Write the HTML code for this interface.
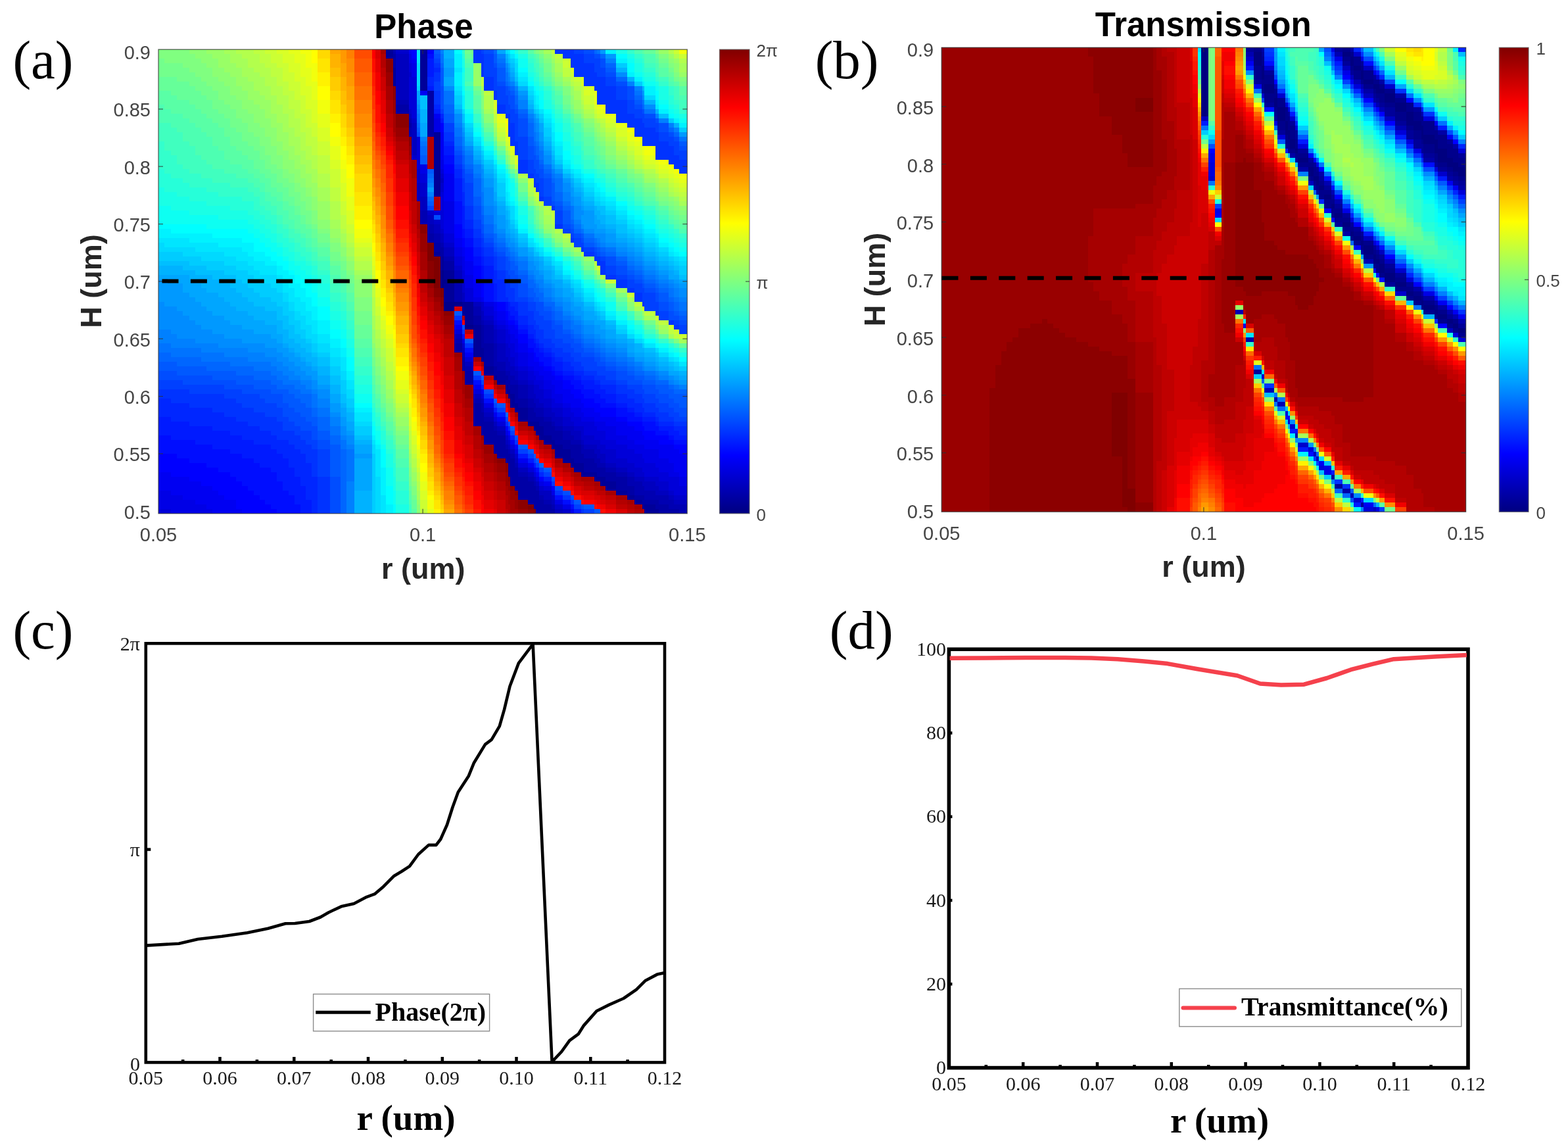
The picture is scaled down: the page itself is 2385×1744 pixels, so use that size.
<!DOCTYPE html>
<html lang="en"><head><meta charset="utf-8"><title>Phase and Transmission</title>
<style>html,body{margin:0;padding:0;background:#fff}svg{display:block}</style></head>
<body>
<svg xmlns="http://www.w3.org/2000/svg" width="2385" height="1744" viewBox="0 0 2385 1744">
<defs><linearGradient id="jet" x1="0" y1="1" x2="0" y2="0"><stop offset="0" stop-color="#000080"/><stop offset="0.125" stop-color="#0000ff"/><stop offset="0.375" stop-color="#00ffff"/><stop offset="0.625" stop-color="#ffff00"/><stop offset="0.875" stop-color="#ff0000"/><stop offset="1" stop-color="#800000"/></linearGradient></defs>
<rect width="2385" height="1744" fill="#fff"/>
<g shape-rendering="crispEdges"><path fill="#00008c" d="M670 411h5v27h-5zM675 425h16v6h-16zM675 459h16v14h-16zM691 459h12v7h-12zM707 494h13v7h-13z"/>
<path fill="#000099" d="M587 75h11v14h-11zM598 103h4v28h-4zM639 75h11v63h-11zM660 201h10v98h-10zM660 383h10v7h-10zM670 390h5v21h-5zM675 411h16v14h-16zM675 431h16v28h-16zM703 459h4v21h-4zM707 459h13v35h-13zM720 494h12v49h-12zM732 529h4v21h-4zM736 557h15v14h-15zM751 571h5v7h-5zM756 578h13v7h-13zM769 585h4v14h-4zM773 592h3v14h-3zM776 599h7v21h-7zM783 613h5v14h-5zM788 620h15v21h-15zM803 641h9v7h-9zM812 641h3v14h-3zM815 641h5v21h-5zM820 648h7v21h-7zM827 662h12v14h-12zM839 669h5v14h-5zM844 676h12v21h-12zM856 683h12v21h-12zM868 697h5v14h-5zM873 704h11v14h-11zM884 704h4v21h-4zM888 718h16v7h-16zM904 718h4v14h-4zM908 725h5v7h-5zM913 725h8v14h-8zM921 732h16v14h-16zM937 746h17v7h-17zM954 753h11v7h-11zM965 760h12v7h-12zM977 767h3v7h-3zM980 767h17v14h-17zM997 774h5v7h-5z"/>
<path fill="#0000a6" d="M598 82h4v21h-4zM602 159h20v14h-20zM622 187h4v7h-4zM650 138h10v70h-10zM650 355h10v14h-10zM660 369h10v14h-10zM670 376h5v14h-5zM675 397h16v14h-16zM691 522h12v14h-12zM703 543h4v21h-4zM707 564h13v21h-13zM720 480h12v14h-12zM720 613h12v35h-12zM732 494h4v35h-4zM732 627h4v35h-4zM736 522h15v35h-15zM736 641h15v35h-15zM751 557h5v14h-5zM751 655h5v35h-5zM756 564h13v14h-13zM756 662h13v35h-13zM769 571h4v14h-4zM769 683h4v21h-4zM773 578h3v14h-3zM773 690h3v35h-3zM776 585h7v14h-7zM776 697h7v42h-7zM783 585h5v28h-5zM783 711h5v35h-5zM788 606h15v14h-15zM788 725h15v35h-15zM803 620h9v21h-9zM803 732h9v35h-9zM812 627h3v14h-3zM812 739h3v35h-3zM815 634h5v7h-5zM815 746h5v35h-5zM820 634h7v14h-7zM820 760h7v21h-7zM827 641h12v21h-12zM827 767h12v14h-12zM839 648h5v21h-5zM839 774h5v7h-5zM844 655h12v21h-12zM856 669h12v14h-12zM868 676h5v21h-5zM873 676h11v28h-11zM884 690h4v14h-4zM888 697h16v21h-16zM904 704h4v14h-4zM908 711h13v14h-13zM921 718h16v14h-16zM937 725h17v21h-17zM954 739h11v14h-11zM965 753h12v7h-12zM977 753h3v14h-3zM980 760h17v7h-17zM997 760h5v14h-5zM1002 767h15v14h-15zM1017 774h16v7h-16z"/>
<path fill="#0000b2" d="M598 75h4v7h-4zM602 152h20v7h-20zM622 180h4v7h-4zM622 194h4v14h-4zM639 320h11v21h-11zM650 341h10v14h-10zM660 355h10v14h-10zM670 369h5v7h-5zM675 390h16v7h-16zM691 431h12v28h-12zM691 515h12v7h-12zM703 536h4v7h-4zM707 557h13v7h-13zM720 466h12v14h-12zM720 606h12v7h-12zM732 487h4v7h-4zM732 613h4v14h-4zM736 494h15v28h-15zM736 634h15v7h-15zM751 522h5v35h-5zM751 648h5v7h-5zM756 550h13v14h-13zM756 655h13v7h-13zM769 564h4v7h-4zM769 676h4v7h-4zM773 564h3v14h-3zM773 683h3v7h-3zM776 571h7v14h-7zM776 690h7v7h-7zM783 578h5v7h-5zM783 704h5v7h-5zM788 585h15v21h-15zM788 718h15v7h-15zM803 606h9v14h-9zM803 725h9v7h-9zM812 613h3v14h-3zM812 732h3v7h-3zM815 620h12v14h-12zM815 739h5v7h-5zM820 753h7v7h-7zM827 634h12v7h-12zM827 760h12v7h-12zM839 641h5v7h-5zM839 767h5v7h-5zM844 648h12v7h-12zM856 655h12v14h-12zM868 662h5v14h-5zM873 669h11v7h-11zM884 676h4v14h-4zM888 683h16v14h-16zM904 690h4v14h-4zM908 697h5v14h-5zM913 704h8v7h-8zM921 711h16v7h-16zM937 718h17v7h-17zM954 725h11v14h-11zM965 732h12v21h-12zM977 739h3v14h-3zM980 746h17v14h-17zM997 753h5v7h-5zM1002 753h15v14h-15zM1017 760h8v14h-8zM1025 767h8v7h-8zM1033 767h12v14h-12z"/>
<path fill="#0000bf" d="M602 82h20v70h-20zM622 173h4v7h-4zM626 187h8v49h-8zM634 278h5v28h-5zM639 299h11v21h-11zM650 327h10v14h-10zM660 341h10v14h-10zM670 271h5v7h-5zM670 355h5v14h-5zM675 376h16v14h-16zM691 411h12v20h-12zM691 508h12v7h-12zM703 445h4v14h-4zM703 529h4v7h-4zM707 550h13v7h-13zM720 459h12v7h-12zM720 599h12v7h-12zM732 473h4v14h-4zM732 606h4v7h-4zM736 487h15v7h-15zM736 627h15v7h-15zM751 501h5v21h-5zM751 641h5v7h-5zM756 522h13v28h-13zM756 648h13v7h-13zM769 543h4v21h-4zM769 669h4v7h-4zM773 550h3v14h-3zM773 676h3v7h-3zM776 557h7v14h-7zM776 683h7v7h-7zM783 564h5v14h-5zM783 697h5v7h-5zM788 578h15v7h-15zM788 711h15v7h-15zM803 585h9v21h-9zM803 718h9v7h-9zM812 599h3v14h-3zM812 725h3v7h-3zM815 606h5v14h-5zM815 732h5v7h-5zM820 613h7v7h-7zM820 746h7v7h-7zM827 620h12v14h-12zM827 746h12v14h-12zM839 627h5v14h-5zM839 760h5v7h-5zM844 634h12v14h-12zM844 774h12v7h-12zM856 648h12v7h-12zM868 648h5v14h-5zM873 655h11v14h-11zM884 669h4v7h-4zM888 676h16v7h-16zM904 676h4v14h-4zM908 683h5v14h-5zM913 690h8v14h-8zM921 704h16v7h-16zM937 711h17v7h-17zM954 718h11v7h-11zM965 725h12v7h-12zM977 725h3v14h-3zM980 732h17v14h-17zM997 739h5v14h-5zM1002 746h15v7h-15zM1017 753h8v7h-8zM1025 760h20v7h-20z"/>
<path fill="#0000cc" d="M602 75h20v7h-20zM622 110h4v7h-4zM622 166h4v7h-4zM626 180h8v7h-8zM626 236h8v7h-8zM634 257h5v21h-5zM639 278h11v21h-11zM650 320h10v7h-10zM660 334h10v7h-10zM670 264h5v7h-5zM670 278h5v14h-5zM670 348h5v7h-5zM675 369h16v7h-16zM691 404h12v7h-12zM703 431h4v14h-4zM703 522h4v7h-4zM732 459h4v14h-4zM736 480h15v7h-15zM736 620h15v7h-15zM751 494h5v7h-5zM756 501h13v21h-13zM769 522h4v21h-4zM769 662h4v7h-4zM773 529h3v21h-3zM773 669h3v7h-3zM776 543h7v14h-7zM783 557h5v7h-5zM783 690h5v7h-5zM788 564h15v14h-15zM803 578h9v7h-9zM812 585h3v14h-3zM815 585h5v21h-5zM820 592h7v21h-7zM820 739h7v7h-7zM827 606h12v14h-12zM839 620h5v7h-5zM839 753h5v7h-5zM844 620h12v14h-12zM844 767h12v7h-12zM856 634h12v14h-12zM856 774h12v7h-12zM868 641h5v7h-5zM873 648h11v7h-11zM884 648h4v21h-4zM888 662h16v14h-16zM904 669h4v7h-4zM908 669h5v14h-5zM913 676h8v14h-8zM921 683h16v21h-16zM937 697h17v14h-17zM954 704h11v14h-11zM965 711h12v14h-12zM977 718h3v7h-3zM980 725h17v7h-17zM997 725h5v14h-5zM1002 732h15v14h-15zM1017 746h8v7h-8zM1025 753h20v7h-20z"/>
<path fill="#0000d9" d="M241 774h19v7h-19zM622 96h4v14h-4zM622 117h4v49h-4zM626 117h8v63h-8zM634 208h5v49h-5zM639 264h11v14h-11zM660 320h10v7h-10zM670 257h5v7h-5zM670 292h5v56h-5zM675 355h16v14h-16zM691 390h12v14h-12zM691 501h12v7h-12zM703 411h4v20h-4zM707 438h13v21h-13zM707 543h13v7h-13zM720 592h12v7h-12zM732 599h4v7h-4zM736 466h15v14h-15zM751 487h5v7h-5zM751 634h5v7h-5zM756 494h13v7h-13zM756 641h13v7h-13zM769 501h4v21h-4zM773 508h3v21h-3zM776 522h7v21h-7zM776 676h7v7h-7zM783 536h5v21h-5zM788 557h15v7h-15zM788 704h15v7h-15zM803 564h9v14h-9zM803 711h9v7h-9zM812 571h3v14h-3zM812 718h3v7h-3zM815 578h5v7h-5zM815 725h5v7h-5zM820 578h7v14h-7zM827 592h12v14h-12zM827 739h12v7h-12zM839 606h5v14h-5zM844 613h12v7h-12zM856 620h12v14h-12zM868 627h5v14h-5zM873 634h11v14h-11zM884 641h4v7h-4zM888 641h16v21h-16zM904 648h4v21h-4zM908 655h5v14h-5zM913 655h8v21h-8zM921 669h16v14h-16zM937 676h17v21h-17zM954 683h11v21h-11zM965 690h12v21h-12zM977 697h3v21h-3zM980 704h17v21h-17zM997 711h5v14h-5zM1002 718h15v14h-15zM1017 725h8v21h-8zM1025 725h8v28h-8zM1033 739h12v14h-12z"/>
<path fill="#0000e6" d="M241 746h19v28h-19zM260 753h18v28h-18zM278 760h19v21h-19zM297 767h17v14h-17zM314 774h9v7h-9zM622 82h4v14h-4zM626 96h8v21h-8zM639 250h11v14h-11zM660 180h10v21h-10zM670 243h5v14h-5zM675 306h16v49h-16zM691 376h12v14h-12zM703 390h4v21h-4zM703 515h4v7h-4zM707 418h13v20h-13zM720 452h12v7h-12zM736 459h15v7h-15zM736 613h15v7h-15zM751 473h5v14h-5zM756 487h13v7h-13zM769 494h4v7h-4zM769 655h4v7h-4zM773 501h3v7h-3zM773 662h3v7h-3zM776 508h7v14h-7zM783 515h5v21h-5zM783 683h5v7h-5zM788 536h15v21h-15zM803 557h9v7h-9zM812 564h3v7h-3zM815 564h5v14h-5zM820 571h7v7h-7zM820 732h7v7h-7zM827 578h12v14h-12zM839 585h5v21h-5zM839 746h5v7h-5zM844 599h12v14h-12zM844 760h12v7h-12zM856 613h12v7h-12zM856 767h12v7h-12zM868 620h5v7h-5zM873 620h11v14h-11zM884 627h4v14h-4zM888 634h16v7h-16zM904 641h4v7h-4zM908 641h13v14h-13zM921 648h16v21h-16zM937 662h17v14h-17zM954 669h11v14h-11zM965 676h12v14h-12zM977 676h3v21h-3zM980 683h17v21h-17zM997 683h5v28h-5zM1002 697h15v21h-15zM1017 704h8v21h-8zM1025 718h8v7h-8zM1033 725h12v14h-12z"/>
<path fill="#0000f2" d="M241 718h19v28h-19zM260 725h18v28h-18zM278 725h10v35h-10zM288 732h9v28h-9zM297 732h9v35h-9zM306 739h8v28h-8zM314 739h9v35h-9zM323 746h9v35h-9zM332 753h9v28h-9zM341 760h18v21h-18zM359 774h9v7h-9zM622 75h4v7h-4zM626 89h8v7h-8zM639 138h11v7h-11zM660 173h10v7h-10zM670 201h5v42h-5zM675 264h16v42h-16zM691 362h12v14h-12zM691 494h12v7h-12zM703 376h4v14h-4zM707 397h13v21h-13zM707 536h13v7h-13zM720 431h12v21h-12zM720 585h12v7h-12zM732 452h4v7h-4zM732 592h4v7h-4zM751 459h5v14h-5zM751 627h5v7h-5zM756 473h13v14h-13zM756 634h13v7h-13zM769 487h4v7h-4zM773 494h3v7h-3zM776 494h7v14h-7zM776 669h7v7h-7zM783 501h5v14h-5zM788 522h15v14h-15zM788 697h15v7h-15zM803 536h9v21h-9zM803 704h9v7h-9zM812 550h8v14h-8zM812 711h3v7h-3zM815 718h5v7h-5zM820 557h7v14h-7zM827 564h12v14h-12zM827 732h12v7h-12zM839 571h5v14h-5zM844 578h12v21h-12zM856 592h12v21h-12zM868 599h5v21h-5zM868 774h5v7h-5zM873 606h11v14h-11zM884 613h4v14h-4zM888 620h16v14h-16zM904 627h9v14h-9zM913 634h8v7h-8zM921 634h16v14h-16zM937 641h17v21h-17zM954 648h11v21h-11zM965 655h12v21h-12zM977 662h3v14h-3zM980 669h22v14h-22zM1002 676h15v21h-15zM1017 676h8v28h-8zM1025 683h8v35h-8zM1033 690h12v35h-12z"/>
<path fill="#0000ff" d="M241 690h19v28h-19zM260 690h9v35h-9zM269 697h19v28h-19zM288 704h18v28h-18zM306 704h8v35h-8zM314 711h9v28h-9zM323 711h9v35h-9zM332 718h9v35h-9zM341 718h9v42h-9zM350 725h9v35h-9zM359 732h9v42h-9zM368 739h9v42h-9zM377 746h9v35h-9zM386 753h9v28h-9zM395 760h8v21h-8zM403 767h9v14h-9zM412 774h9v7h-9zM626 75h8v14h-8zM650 75h10v7h-10zM670 187h5v14h-5zM675 250h16v14h-16zM691 341h12v21h-12zM703 362h4v14h-4zM707 376h13v21h-13zM720 404h12v27h-12zM732 431h4v21h-4zM756 459h13v14h-13zM769 473h4v14h-4zM769 648h4v7h-4zM773 487h10v7h-10zM773 655h3v7h-3zM783 494h5v7h-5zM783 676h5v7h-5zM788 508h15v14h-15zM803 529h9v7h-9zM812 536h3v14h-3zM815 543h5v7h-5zM820 550h7v7h-7zM820 725h7v7h-7zM827 557h12v7h-12zM839 564h5v7h-5zM839 739h5v7h-5zM844 571h12v7h-12zM856 578h12v14h-12zM868 585h5v14h-5zM873 592h11v14h-11zM884 599h4v14h-4zM888 606h16v14h-16zM904 613h9v14h-9zM913 620h24v14h-24zM937 634h17v7h-17zM954 641h11v7h-11zM965 641h12v14h-12zM977 648h3v14h-3zM980 655h17v14h-17zM997 662h5v7h-5zM1002 662h15v14h-15zM1017 669h8v7h-8zM1025 676h8v7h-8zM1033 676h12v14h-12z"/>
<path fill="#000dff" d="M241 662h19v28h-19zM260 669h9v21h-9zM269 669h19v28h-19zM288 669h9v35h-9zM297 676h17v28h-17zM314 676h9v35h-9zM323 683h9v28h-9zM332 683h18v35h-18zM350 690h9v35h-9zM359 690h9v42h-9zM368 697h9v42h-9zM377 697h9v49h-9zM386 704h9v49h-9zM395 711h8v49h-8zM403 711h9v56h-9zM412 718h9v56h-9zM421 732h9v49h-9zM430 746h9v35h-9zM439 753h9v28h-9zM448 767h9v14h-9zM650 82h10v7h-10zM675 236h16v14h-16zM691 306h12v35h-12zM691 487h12v7h-12zM703 348h4v14h-4zM703 508h4v7h-4zM707 362h13v14h-13zM707 529h13v7h-13zM720 390h12v14h-12zM720 578h12v7h-12zM732 404h4v27h-4zM736 431h15v28h-15zM736 606h15v7h-15zM769 459h4v14h-4zM773 473h3v14h-3zM776 480h7v7h-7zM783 487h5v7h-5zM788 501h15v7h-15zM803 515h9v14h-9zM812 522h3v14h-3zM815 529h5v14h-5zM815 711h5v7h-5zM820 536h7v14h-7zM827 543h12v14h-12zM839 557h5v7h-5zM844 564h12v7h-12zM844 753h12v7h-12zM856 571h12v7h-12zM856 760h12v7h-12zM868 571h5v14h-5zM868 767h5v7h-5zM873 578h11v14h-11zM884 585h4v14h-4zM888 592h16v14h-16zM904 599h9v14h-9zM913 606h8v14h-8zM921 613h16v7h-16zM937 620h17v14h-17zM954 627h11v14h-11zM965 634h12v7h-12zM977 641h3v7h-3zM980 641h17v14h-17zM997 648h5v14h-5zM1002 655h15v7h-15zM1017 662h8v7h-8zM1025 669h20v7h-20z"/>
<path fill="#001aff" d="M241 634h19v28h-19zM260 641h28v28h-28zM288 648h9v21h-9zM297 648h26v28h-26zM323 655h27v28h-27zM350 662h18v28h-18zM368 669h18v28h-18zM386 676h9v28h-9zM395 676h17v35h-17zM412 683h9v35h-9zM421 690h9v42h-9zM430 697h9v49h-9zM439 711h9v42h-9zM448 725h9v42h-9zM457 739h8v42h-8zM465 760h9v21h-9zM650 89h10v28h-10zM650 131h10v7h-10zM660 166h10v7h-10zM670 180h5v7h-5zM675 222h16v14h-16zM691 271h12v35h-12zM703 313h4v35h-4zM707 348h13v14h-13zM720 376h12v14h-12zM732 390h4v14h-4zM732 585h4v7h-4zM736 404h15v27h-15zM751 431h5v28h-5zM751 620h5v7h-5zM756 627h13v7h-13zM773 459h3v14h-3zM776 466h7v14h-7zM776 662h7v7h-7zM783 473h5v14h-5zM788 494h15v7h-15zM788 690h15v7h-15zM803 508h9v7h-9zM803 697h9v7h-9zM812 515h3v7h-3zM812 704h3v7h-3zM815 522h5v7h-5zM820 529h7v7h-7zM827 536h12v7h-12zM827 725h12v7h-12zM839 543h5v14h-5zM844 550h12v14h-12zM856 564h17v7h-17zM873 571h11v7h-11zM873 774h11v7h-11zM884 578h4v7h-4zM888 578h16v14h-16zM904 585h9v14h-9zM913 592h8v14h-8zM921 599h16v14h-16zM937 613h17v7h-17zM954 620h11v7h-11zM965 627h12v7h-12zM977 634h20v7h-20zM997 641h5v7h-5zM1002 648h15v7h-15zM1017 648h8v14h-8zM1025 655h8v14h-8zM1033 662h12v7h-12z"/>
<path fill="#0026ff" d="M241 606h19v28h-19zM260 613h28v28h-28zM288 620h35v28h-35zM323 627h18v28h-18zM341 634h9v21h-9zM350 634h9v28h-9zM359 641h9v21h-9zM368 641h9v28h-9zM377 648h9v21h-9zM386 648h9v28h-9zM395 655h17v21h-17zM412 662h9v21h-9zM421 669h9v21h-9zM430 669h9v28h-9zM439 676h9v35h-9zM448 683h9v42h-9zM457 690h8v49h-8zM465 704h9v56h-9zM474 725h9v56h-9zM650 117h10v14h-10zM660 103h10v7h-10zM660 159h10v7h-10zM670 173h5v7h-5zM675 215h16v7h-16zM691 257h12v14h-12zM703 292h4v21h-4zM707 334h13v14h-13zM720 362h12v14h-12zM732 376h4v14h-4zM736 390h15v14h-15zM751 411h5v20h-5zM756 425h13v34h-13zM769 452h4v7h-4zM769 641h4v7h-4zM773 648h3v7h-3zM776 459h7v7h-7zM783 459h5v14h-5zM788 480h15v14h-15zM803 494h9v14h-9zM812 501h3v14h-3zM815 515h5v7h-5zM820 522h7v7h-7zM820 718h7v7h-7zM827 529h12v7h-12zM839 536h5v7h-5zM844 543h12v7h-12zM856 550h12v14h-12zM868 557h5v7h-5zM873 564h11v7h-11zM884 564h4v14h-4zM888 571h16v7h-16zM904 578h9v7h-9zM913 585h8v7h-8zM921 585h16v14h-16zM937 599h17v14h-17zM954 606h11v14h-11zM965 613h12v14h-12zM977 620h3v14h-3zM980 627h17v7h-17zM997 634h5v7h-5zM1002 641h23v7h-23zM1025 648h8v7h-8zM1033 648h12v14h-12z"/>
<path fill="#0033ff" d="M241 592h19v14h-19zM260 592h28v21h-28zM288 599h35v21h-35zM323 599h18v28h-18zM341 606h18v28h-18zM359 613h9v28h-9zM368 620h9v21h-9zM377 620h9v28h-9zM386 627h9v21h-9zM395 627h8v28h-8zM403 634h9v21h-9zM412 634h9v28h-9zM421 641h9v28h-9zM430 655h9v14h-9zM439 655h9v21h-9zM448 662h9v21h-9zM457 669h8v21h-8zM465 676h9v28h-9zM474 683h9v42h-9zM483 725h19v56h-19zM660 96h10v7h-10zM660 110h10v14h-10zM660 138h10v21h-10zM675 201h16v14h-16zM691 250h12v7h-12zM691 480h12v7h-12zM703 271h4v21h-4zM703 501h4v7h-4zM707 313h13v21h-13zM707 522h13v7h-13zM720 75h12v21h-12zM720 348h12v14h-12zM720 571h12v7h-12zM732 82h4v35h-4zM732 362h4v14h-4zM736 117h15v21h-15zM736 376h15v14h-15zM736 599h15v7h-15zM751 138h5v14h-5zM751 390h5v21h-5zM756 159h13v14h-13zM756 411h13v14h-13zM769 173h4v7h-4zM769 425h4v27h-4zM773 173h3v35h-3zM773 431h3v28h-3zM776 187h7v35h-7zM776 438h7v21h-7zM783 215h5v21h-5zM783 669h5v7h-5zM788 243h15v21h-15zM788 459h15v21h-15zM803 264h9v7h-9zM803 473h9v21h-9zM812 271h3v14h-3zM812 487h3v14h-3zM815 278h5v14h-5zM815 494h5v21h-5zM820 299h7v7h-7zM820 501h7v21h-7zM827 515h12v14h-12zM839 313h5v7h-5zM839 522h5v14h-5zM839 732h5v7h-5zM844 75h12v7h-12zM844 341h12v7h-12zM844 529h12v14h-12zM844 746h12v7h-12zM856 75h12v14h-12zM856 536h12v14h-12zM856 753h12v7h-12zM868 75h5v28h-5zM868 362h5v7h-5zM868 543h5v14h-5zM868 760h5v7h-5zM873 82h15v35h-15zM873 550h11v14h-11zM884 376h4v7h-4zM884 557h4v7h-4zM884 774h4v7h-4zM888 96h16v35h-16zM888 383h16v7h-16zM888 564h16v7h-16zM904 110h4v28h-4zM904 390h4v7h-4zM904 564h4v14h-4zM908 117h13v42h-13zM908 390h5v14h-5zM908 571h5v7h-5zM913 397h8v21h-8zM913 571h8v14h-8zM921 131h16v42h-16zM921 418h16v7h-16zM921 578h16v7h-16zM937 152h17v35h-17zM937 425h17v13h-17zM937 585h17v14h-17zM954 173h11v21h-11zM954 438h11v7h-11zM954 592h11v14h-11zM965 180h12v28h-12zM965 445h12v14h-12zM965 599h12v14h-12zM977 187h3v35h-3zM977 459h3v7h-3zM977 606h3v14h-3zM980 194h17v28h-17zM980 613h17v14h-17zM997 201h5v42h-5zM997 473h5v7h-5zM997 620h5v14h-5zM1002 215h15v28h-15zM1002 627h15v14h-15zM1017 222h8v28h-8zM1017 487h8v7h-8zM1017 634h8v7h-8zM1025 236h8v21h-8zM1025 494h8v7h-8zM1025 641h20v7h-20zM1033 243h12v21h-12z"/>
<path fill="#0040ff" d="M241 578h37v14h-37zM278 585h10v7h-10zM288 585h53v14h-53zM341 592h18v14h-18zM359 592h9v21h-9zM368 599h18v21h-18zM386 599h9v28h-9zM395 606h8v21h-8zM403 613h18v21h-18zM421 620h9v21h-9zM430 634h9v21h-9zM439 641h9v14h-9zM448 648h9v14h-9zM457 655h8v14h-8zM465 655h9v21h-9zM474 669h9v14h-9zM483 683h19v42h-19zM650 313h10v7h-10zM660 89h10v7h-10zM660 124h10v14h-10zM670 166h5v7h-5zM675 187h16v14h-16zM691 236h12v14h-12zM703 257h4v14h-4zM707 278h13v35h-13zM720 334h12v14h-12zM732 75h4v7h-4zM732 355h4v7h-4zM732 578h4v7h-4zM736 82h15v35h-15zM736 369h15v7h-15zM751 103h5v35h-5zM751 383h5v7h-5zM751 613h5v7h-5zM756 131h13v28h-13zM756 390h13v21h-13zM756 620h13v7h-13zM769 145h4v28h-4zM769 411h4v14h-4zM769 634h4v7h-4zM773 159h3v14h-3zM773 418h3v13h-3zM776 166h7v21h-7zM776 425h7v13h-7zM776 655h7v7h-7zM783 173h5v42h-5zM783 431h5v28h-5zM788 208h15v35h-15zM788 452h15v7h-15zM788 683h15v7h-15zM803 243h9v21h-9zM803 459h9v14h-9zM803 690h9v7h-9zM812 257h3v14h-3zM812 459h3v28h-3zM812 697h3v7h-3zM815 264h5v14h-5zM815 473h5v21h-5zM815 704h5v7h-5zM820 271h7v28h-7zM820 480h7v21h-7zM820 711h7v7h-7zM827 299h12v14h-12zM827 487h12v28h-12zM827 718h12v7h-12zM839 501h5v21h-5zM844 320h12v21h-12zM844 515h12v14h-12zM856 348h12v7h-12zM856 522h12v14h-12zM868 355h5v7h-5zM868 529h5v14h-5zM873 75h15v7h-15zM873 362h11v14h-11zM873 536h11v14h-11zM873 767h11v7h-11zM884 369h4v7h-4zM884 543h4v14h-4zM888 82h16v14h-16zM888 376h16v7h-16zM888 543h16v21h-16zM888 774h16v7h-16zM904 89h4v21h-4zM904 383h4v7h-4zM904 550h4v14h-4zM908 89h5v28h-5zM908 557h13v14h-13zM913 103h8v14h-8zM913 390h8v7h-8zM921 117h16v14h-16zM921 404h16v14h-16zM921 564h16v14h-16zM937 131h17v21h-17zM937 418h17v7h-17zM937 578h17v7h-17zM954 152h11v21h-11zM954 425h11v13h-11zM954 585h11v7h-11zM965 166h12v14h-12zM965 431h12v14h-12zM965 585h12v14h-12zM977 173h3v14h-3zM977 438h3v21h-3zM977 592h3v14h-3zM980 180h17v14h-17zM980 445h17v28h-17zM980 599h17v14h-17zM997 187h5v14h-5zM997 459h5v14h-5zM997 606h5v14h-5zM1002 201h15v14h-15zM1002 473h15v14h-15zM1002 613h15v14h-15zM1017 208h8v14h-8zM1017 620h8v14h-8zM1025 215h8v21h-8zM1025 487h8v7h-8zM1025 627h8v14h-8zM1033 229h12v14h-12zM1033 494h12v14h-12zM1033 634h12v7h-12z"/>
<path fill="#004dff" d="M241 564h28v14h-28zM269 571h9v7h-9zM278 571h45v14h-45zM323 578h18v7h-18zM341 578h18v14h-18zM359 585h9v7h-9zM368 585h18v14h-18zM386 592h9v7h-9zM395 592h8v14h-8zM403 592h9v21h-9zM412 599h9v14h-9zM421 599h9v21h-9zM430 613h9v21h-9zM439 620h9v21h-9zM448 627h9v21h-9zM457 634h8v21h-8zM465 641h9v14h-9zM474 648h9v21h-9zM483 669h19v14h-19zM502 725h16v56h-16zM634 201h5v7h-5zM660 82h10v7h-10zM660 327h10v7h-10zM670 131h5v35h-5zM691 229h12v7h-12zM703 250h4v7h-4zM703 494h4v7h-4zM707 264h13v14h-13zM720 313h12v21h-12zM732 341h4v14h-4zM736 75h15v7h-15zM736 362h15v7h-15zM736 592h15v7h-15zM751 96h5v7h-5zM751 376h5v7h-5zM756 124h13v7h-13zM756 383h13v7h-13zM769 131h4v14h-4zM769 390h4v21h-4zM773 138h3v21h-3zM773 397h3v21h-3zM773 641h3v7h-3zM776 145h7v21h-7zM776 411h7v14h-7zM783 166h5v7h-5zM783 418h5v13h-5zM783 662h5v7h-5zM788 180h15v28h-15zM788 431h15v21h-15zM803 222h9v21h-9zM803 452h9v7h-9zM812 236h3v21h-3zM815 243h5v21h-5zM815 459h5v14h-5zM820 257h7v14h-7zM820 459h7v21h-7zM827 271h12v28h-12zM827 473h12v14h-12zM839 306h5v7h-5zM839 487h5v14h-5zM839 725h5v7h-5zM844 313h12v7h-12zM844 494h12v21h-12zM844 739h12v7h-12zM856 341h12v7h-12zM856 508h12v14h-12zM856 746h12v7h-12zM868 348h5v7h-5zM868 515h5v14h-5zM868 753h5v7h-5zM873 355h11v7h-11zM873 522h11v14h-11zM884 362h4v7h-4zM884 529h4v14h-4zM884 767h4v7h-4zM888 75h16v7h-16zM888 536h16v7h-16zM904 82h9v7h-9zM904 376h4v7h-4zM904 543h4v7h-4zM908 383h5v7h-5zM908 543h5v14h-5zM913 89h8v14h-8zM913 550h8v7h-8zM921 110h16v7h-16zM921 390h16v14h-16zM921 557h16v7h-16zM937 124h17v7h-17zM937 404h17v14h-17zM937 564h17v14h-17zM954 131h11v21h-11zM954 418h11v7h-11zM954 571h11v14h-11zM965 159h12v7h-12zM965 425h12v6h-12zM965 578h12v7h-12zM977 166h3v7h-3zM977 431h3v7h-3zM977 585h3v7h-3zM980 173h17v7h-17zM980 438h17v7h-17zM980 585h17v14h-17zM997 180h5v7h-5zM997 445h5v14h-5zM997 592h5v14h-5zM1002 187h15v14h-15zM1002 459h15v14h-15zM1002 599h15v14h-15zM1017 201h8v7h-8zM1017 473h8v14h-8zM1017 606h8v14h-8zM1025 208h8v7h-8zM1025 480h8v7h-8zM1025 613h8v14h-8zM1033 222h12v7h-12zM1033 487h12v7h-12zM1033 620h12v14h-12z"/>
<path fill="#0059ff" d="M241 550h28v14h-28zM269 557h45v14h-45zM314 564h9v7h-9zM323 564h36v14h-36zM359 571h27v14h-27zM386 578h26v14h-26zM412 585h9v14h-9zM421 592h9v7h-9zM430 592h9v21h-9zM439 599h9v21h-9zM448 606h9v21h-9zM457 613h8v21h-8zM465 620h9v21h-9zM474 634h9v14h-9zM483 655h19v14h-19zM502 676h16v49h-16zM634 194h5v7h-5zM639 236h11v14h-11zM650 257h10v7h-10zM650 306h10v7h-10zM660 75h10v7h-10zM670 103h5v28h-5zM675 173h16v14h-16zM691 222h12v7h-12zM691 473h12v7h-12zM703 236h4v14h-4zM707 257h13v7h-13zM707 515h13v7h-13zM720 299h12v14h-12zM720 564h12v7h-12zM732 327h4v14h-4zM732 571h4v7h-4zM736 355h15v7h-15zM751 82h5v14h-5zM751 369h5v7h-5zM751 606h5v7h-5zM756 103h13v21h-13zM756 376h13v7h-13zM756 613h13v7h-13zM773 131h3v7h-3zM773 390h3v7h-3zM776 138h7v7h-7zM776 397h7v14h-7zM776 648h7v7h-7zM783 159h5v7h-5zM783 404h5v14h-5zM788 173h15v7h-15zM788 418h15v13h-15zM788 676h15v7h-15zM803 208h9v14h-9zM803 438h9v14h-9zM803 683h9v7h-9zM812 222h3v14h-3zM812 445h3v14h-3zM812 690h3v7h-3zM815 236h5v7h-5zM815 452h5v7h-5zM815 697h5v7h-5zM820 250h7v7h-7zM827 264h12v7h-12zM827 466h12v7h-12zM827 711h12v7h-12zM839 278h5v28h-5zM839 473h5v14h-5zM844 306h12v7h-12zM844 487h12v7h-12zM856 320h12v21h-12zM856 501h12v7h-12zM868 341h5v7h-5zM868 508h5v7h-5zM873 515h11v7h-11zM873 760h11v7h-11zM884 355h4v7h-4zM884 522h4v7h-4zM888 369h16v7h-16zM888 529h16v7h-16zM888 767h16v7h-16zM904 536h9v7h-9zM904 774h9v7h-9zM908 376h5v7h-5zM913 383h8v7h-8zM913 543h8v7h-8zM921 103h16v7h-16zM921 550h16v7h-16zM937 397h17v7h-17zM937 557h17v7h-17zM954 411h11v7h-11zM954 564h11v7h-11zM965 152h12v7h-12zM965 418h12v7h-12zM965 571h12v7h-12zM977 425h3v6h-3zM977 571h3v14h-3zM980 431h17v7h-17zM980 578h17v7h-17zM997 438h5v7h-5zM997 585h5v7h-5zM1002 445h15v14h-15zM1002 585h15v14h-15zM1017 459h8v14h-8zM1017 592h8v14h-8zM1025 473h8v7h-8zM1025 599h8v14h-8zM1033 215h12v7h-12zM1033 480h12v7h-12zM1033 599h12v21h-12z"/>
<path fill="#0066ff" d="M241 536h19v14h-19zM260 543h9v7h-9zM269 543h37v14h-37zM306 550h8v7h-8zM314 550h36v14h-36zM350 557h9v7h-9zM359 557h27v14h-27zM386 564h26v14h-26zM412 571h9v14h-9zM421 578h9v14h-9zM430 585h9v7h-9zM439 585h9v14h-9zM448 592h9v14h-9zM457 599h8v14h-8zM465 599h9v21h-9zM474 620h9v14h-9zM483 634h19v21h-19zM502 662h16v14h-16zM518 683h9v98h-9zM634 187h5v7h-5zM639 222h11v14h-11zM650 264h10v7h-10zM650 299h10v7h-10zM670 96h5v7h-5zM675 159h16v14h-16zM691 208h12v14h-12zM703 229h4v7h-4zM707 250h13v7h-13zM720 271h12v28h-12zM732 313h4v14h-4zM736 341h15v14h-15zM751 75h5v7h-5zM751 355h5v14h-5zM756 96h13v7h-13zM756 369h13v7h-13zM769 124h4v7h-4zM769 376h4v14h-4zM769 627h4v7h-4zM773 383h3v7h-3zM776 131h7v7h-7zM776 390h7v7h-7zM783 145h5v14h-5zM783 397h5v7h-5zM788 166h15v7h-15zM788 411h15v7h-15zM803 187h9v21h-9zM803 425h9v13h-9zM812 215h3v7h-3zM812 431h3v14h-3zM815 222h5v14h-5zM815 438h5v14h-5zM820 243h7v7h-7zM820 445h7v14h-7zM820 704h7v7h-7zM827 257h12v7h-12zM827 459h12v7h-12zM839 271h5v7h-5zM839 459h5v14h-5zM844 292h12v14h-12zM844 473h12v14h-12zM856 313h12v7h-12zM856 487h12v14h-12zM868 334h5v7h-5zM868 501h5v7h-5zM873 348h11v7h-11zM873 508h11v7h-11zM884 515h4v7h-4zM888 362h16v7h-16zM888 522h16v7h-16zM904 75h4v7h-4zM904 369h4v7h-4zM904 529h9v7h-9zM913 82h8v7h-8zM913 376h8v7h-8zM913 536h8v7h-8zM921 96h16v7h-16zM921 383h16v7h-16zM921 543h16v7h-16zM937 117h17v7h-17zM937 390h17v7h-17zM937 550h17v7h-17zM954 404h11v7h-11zM954 557h11v7h-11zM965 145h12v7h-12zM965 411h12v7h-12zM965 564h15v7h-15zM977 159h3v7h-3zM977 418h3v7h-3zM980 425h17v6h-17zM980 571h17v7h-17zM997 431h5v7h-5zM997 578h20v7h-20zM1002 438h15v7h-15zM1017 194h8v7h-8zM1017 452h8v7h-8zM1017 585h8v7h-8zM1025 201h8v7h-8zM1025 459h8v14h-8zM1025 592h20v7h-20zM1033 473h12v7h-12z"/>
<path fill="#0073ff" d="M241 522h19v14h-19zM260 529h46v14h-46zM306 536h35v14h-35zM341 543h9v7h-9zM350 543h27v14h-27zM377 550h9v7h-9zM386 550h26v14h-26zM412 557h9v14h-9zM421 564h9v14h-9zM430 571h9v14h-9zM439 578h9v7h-9zM448 578h9v14h-9zM457 585h8v14h-8zM465 592h9v7h-9zM474 599h9v21h-9zM483 620h19v14h-19zM502 648h16v14h-16zM518 669h9v14h-9zM527 683h12v49h-12zM634 173h5v14h-5zM639 215h11v7h-11zM650 271h10v7h-10zM670 82h5v14h-5zM675 138h16v21h-16zM691 194h12v14h-12zM703 222h4v7h-4zM707 236h13v14h-13zM720 264h12v7h-12zM732 292h4v21h-4zM736 327h15v14h-15zM756 89h13v7h-13zM756 362h13v7h-13zM769 110h4v14h-4zM773 124h3v7h-3zM773 376h3v7h-3zM776 383h7v7h-7zM783 138h5v7h-5zM783 390h5v7h-5zM788 397h15v14h-15zM803 180h9v7h-9zM803 418h9v7h-9zM812 201h3v14h-3zM812 425h3v6h-3zM815 215h5v7h-5zM815 431h5v7h-5zM820 229h7v14h-7zM820 438h7v7h-7zM827 250h12v7h-12zM827 452h12v7h-12zM839 264h5v7h-5zM844 271h12v21h-12zM844 466h12v7h-12zM856 306h12v7h-12zM856 480h12v7h-12zM868 313h5v21h-5zM868 487h5v14h-5zM873 341h11v7h-11zM873 494h11v14h-11zM884 348h4v7h-4zM884 508h4v7h-4zM888 355h16v7h-16zM888 515h16v7h-16zM904 362h4v7h-4zM904 522h9v7h-9zM908 75h5v7h-5zM908 369h5v7h-5zM913 529h8v7h-8zM921 376h16v7h-16zM921 536h16v7h-16zM937 543h17v7h-17zM954 397h11v7h-11zM954 550h11v7h-11zM965 138h12v7h-12zM965 404h12v7h-12zM965 557h12v7h-12zM977 152h3v7h-3zM977 411h3v7h-3zM980 166h17v7h-17zM980 418h17v7h-17zM980 564h17v7h-17zM997 425h5v6h-5zM997 571h5v7h-5zM1002 431h15v7h-15zM1017 438h8v14h-8zM1025 452h8v7h-8zM1025 585h8v7h-8zM1033 208h12v7h-12zM1033 459h12v14h-12z"/>
<path fill="#0080ff" d="M241 501h19v21h-19zM260 508h9v21h-9zM269 515h28v14h-28zM297 522h9v7h-9zM306 522h26v14h-26zM332 529h9v7h-9zM341 529h36v14h-36zM377 536h26v14h-26zM403 543h9v7h-9zM412 543h9v14h-9zM421 550h9v14h-9zM430 557h9v14h-9zM439 564h9v14h-9zM448 571h9v7h-9zM457 578h8v7h-8zM465 578h9v14h-9zM474 592h9v7h-9zM483 606h19v14h-19zM502 634h16v14h-16zM518 662h9v7h-9zM527 676h12v7h-12zM527 732h12v49h-12zM634 166h5v7h-5zM639 208h11v7h-11zM650 278h10v7h-10zM650 292h10v7h-10zM670 75h5v7h-5zM691 187h12v7h-12zM703 208h4v14h-4zM707 229h13v7h-13zM720 250h12v14h-12zM732 271h4v21h-4zM736 313h15v14h-15zM751 341h5v14h-5zM756 82h13v7h-13zM756 355h13v7h-13zM769 103h4v7h-4zM769 369h4v7h-4zM773 117h3v7h-3zM776 124h7v7h-7zM776 376h7v7h-7zM783 131h5v7h-5zM783 383h5v7h-5zM788 152h15v14h-15zM788 390h15v7h-15zM803 173h9v7h-9zM803 411h9v7h-9zM812 187h3v14h-3zM812 418h3v7h-3zM815 201h5v14h-5zM815 425h5v6h-5zM820 222h7v7h-7zM820 425h7v13h-7zM827 438h12v14h-12zM839 257h5v7h-5zM839 452h5v7h-5zM844 264h12v7h-12zM844 459h12v7h-12zM856 292h12v14h-12zM856 473h12v7h-12zM868 480h5v7h-5zM873 334h11v7h-11zM873 487h11v7h-11zM884 494h4v14h-4zM888 508h16v7h-16zM904 515h9v7h-9zM908 362h5v7h-5zM913 369h8v7h-8zM913 522h8v7h-8zM921 89h16v7h-16zM921 529h16v7h-16zM937 383h17v7h-17zM937 536h17v7h-17zM954 124h11v7h-11zM954 390h11v7h-11zM954 543h11v7h-11zM965 131h12v7h-12zM965 397h12v7h-12zM965 550h12v7h-12zM977 404h3v7h-3zM977 557h3v7h-3zM980 411h17v7h-17zM997 173h5v7h-5zM997 418h5v7h-5zM997 564h5v7h-5zM1002 180h15v7h-15zM1002 425h15v6h-15zM1002 571h15v7h-15zM1017 187h8v7h-8zM1017 431h8v7h-8zM1017 578h8v7h-8zM1025 194h8v7h-8zM1025 438h8v14h-8zM1033 452h12v7h-12zM1033 585h12v7h-12z"/>
<path fill="#008cff" d="M241 459h9v42h-9zM250 466h10v35h-10zM260 466h9v42h-9zM269 473h9v42h-9zM278 480h10v35h-10zM288 487h9v28h-9zM297 494h9v28h-9zM306 501h17v21h-17zM323 508h9v14h-9zM332 508h9v21h-9zM341 515h27v14h-27zM368 522h9v7h-9zM377 522h26v14h-26zM403 529h18v14h-18zM421 536h9v14h-9zM430 543h9v14h-9zM439 550h9v14h-9zM448 557h9v14h-9zM457 564h8v14h-8zM465 571h9v7h-9zM474 578h9v14h-9zM483 592h19v14h-19zM502 627h16v7h-16zM518 648h9v14h-9zM527 662h12v14h-12zM634 159h5v7h-5zM675 131h16v7h-16zM691 173h12v14h-12zM703 201h4v7h-4zM707 222h13v7h-13zM732 257h4v14h-4zM736 285h15v28h-15zM751 313h5v28h-5zM756 348h13v7h-13zM769 96h4v7h-4zM769 362h4v7h-4zM773 110h3v7h-3zM773 362h3v14h-3zM776 369h7v7h-7zM783 376h5v7h-5zM788 145h15v7h-15zM803 397h9v14h-9zM812 180h3v7h-3zM812 404h3v14h-3zM815 187h5v14h-5zM815 411h5v14h-5zM820 215h7v7h-7zM820 418h7v7h-7zM827 236h12v14h-12zM827 431h12v7h-12zM839 438h5v14h-5zM844 452h12v7h-12zM856 278h12v14h-12zM856 459h12v14h-12zM868 299h5v14h-5zM868 473h5v7h-5zM873 313h11v21h-11zM873 480h11v7h-11zM884 320h4v7h-4zM884 341h4v7h-4zM884 487h4v7h-4zM888 348h16v7h-16zM888 494h16v14h-16zM904 355h9v7h-9zM904 508h9v7h-9zM913 355h8v14h-8zM913 515h8v7h-8zM921 369h16v7h-16zM921 522h16v7h-16zM937 110h17v7h-17zM937 376h17v7h-17zM937 529h17v7h-17zM954 383h11v7h-11zM965 390h12v7h-12zM977 145h3v7h-3zM977 397h3v7h-3zM977 550h3v7h-3zM980 159h17v7h-17zM980 404h17v7h-17zM980 557h17v7h-17zM997 411h5v7h-5zM1002 418h15v7h-15zM1002 564h15v7h-15zM1017 425h8v6h-8zM1017 571h8v7h-8zM1025 431h8v7h-8zM1025 578h8v7h-8zM1033 438h12v14h-12z"/>
<path fill="#0099ff" d="M241 425h9v34h-9zM250 425h10v41h-10zM260 431h9v35h-9zM269 431h9v42h-9zM278 445h10v35h-10zM288 452h9v35h-9zM297 459h9v35h-9zM306 466h8v35h-8zM314 473h9v28h-9zM323 480h18v28h-18zM341 487h9v28h-9zM350 494h18v21h-18zM368 501h18v21h-18zM386 508h17v14h-17zM403 508h9v21h-9zM412 515h9v14h-9zM421 522h9v14h-9zM430 529h9v14h-9zM439 536h9v14h-9zM448 543h9v14h-9zM457 550h8v14h-8zM465 557h9v14h-9zM474 564h9v14h-9zM483 585h19v7h-19zM502 613h16v14h-16zM518 634h9v14h-9zM527 655h12v7h-12zM539 690h27v7h-27zM634 152h5v7h-5zM650 285h10v7h-10zM675 103h16v14h-16zM703 194h4v7h-4zM720 243h12v7h-12zM732 250h4v7h-4zM736 271h15v14h-15zM751 306h5v7h-5zM756 327h13v21h-13zM769 355h7v7h-7zM773 103h3v7h-3zM776 117h7v7h-7zM776 362h7v7h-7zM783 369h5v7h-5zM788 138h15v7h-15zM788 376h15v14h-15zM803 166h9v7h-9zM803 390h9v7h-9zM812 173h3v7h-3zM812 397h3v7h-3zM815 180h5v7h-5zM815 397h5v14h-5zM820 201h7v14h-7zM820 411h7v7h-7zM827 229h12v7h-12zM827 425h12v6h-12zM839 250h5v7h-5zM839 431h5v7h-5zM844 257h12v7h-12zM844 438h12v14h-12zM856 271h12v7h-12zM856 452h12v7h-12zM868 285h5v14h-5zM868 459h5v14h-5zM873 299h11v14h-11zM873 466h11v14h-11zM884 313h4v7h-4zM884 327h4v14h-4zM884 473h4v14h-4zM888 320h16v28h-16zM888 487h16v7h-16zM904 341h4v14h-4zM904 494h9v14h-9zM908 348h13v7h-13zM913 75h8v7h-8zM913 501h8v14h-8zM921 82h16v7h-16zM921 355h16v14h-16zM921 515h16v7h-16zM937 369h17v7h-17zM937 522h17v7h-17zM954 376h11v7h-11zM954 536h11v7h-11zM965 383h12v7h-12zM965 543h15v7h-15zM977 138h3v7h-3zM977 390h3v7h-3zM980 397h17v7h-17zM980 550h17v7h-17zM997 404h5v7h-5zM997 557h5v7h-5zM1002 411h15v7h-15zM1025 425h8v6h-8zM1025 571h8v7h-8zM1033 201h12v7h-12zM1033 431h12v7h-12zM1033 578h12v7h-12z"/>
<path fill="#00a6ff" d="M241 418h19v7h-19zM260 418h18v13h-18zM278 418h10v27h-10zM288 425h9v27h-9zM297 431h9v28h-9zM306 438h8v28h-8zM314 445h9v28h-9zM323 445h9v35h-9zM332 452h9v28h-9zM341 459h9v28h-9zM350 466h9v28h-9zM359 473h9v21h-9zM368 473h9v28h-9zM377 480h9v21h-9zM386 487h17v21h-17zM403 494h9v14h-9zM412 494h9v21h-9zM421 508h9v14h-9zM430 522h9v7h-9zM439 529h9v7h-9zM448 536h9v7h-9zM457 543h8v7h-8zM465 550h9v7h-9zM474 557h9v7h-9zM483 571h19v14h-19zM502 599h16v14h-16zM518 620h9v14h-9zM527 641h12v14h-12zM539 676h27v14h-27zM539 697h27v49h-27zM634 138h5v14h-5zM639 187h11v21h-11zM675 89h16v14h-16zM675 117h16v14h-16zM691 166h12v7h-12zM703 187h4v7h-4zM707 215h13v7h-13zM720 236h12v7h-12zM736 264h15v7h-15zM751 292h5v14h-5zM756 75h13v7h-13zM756 313h13v14h-13zM769 89h4v7h-4zM769 334h4v21h-4zM773 96h3v7h-3zM773 348h3v7h-3zM776 110h7v7h-7zM776 355h7v7h-7zM783 124h5v7h-5zM783 362h5v7h-5zM803 383h9v7h-9zM812 390h8v7h-8zM820 187h7v14h-7zM820 397h7v14h-7zM827 222h12v7h-12zM827 411h12v14h-12zM839 243h5v7h-5zM839 425h5v6h-5zM844 425h12v13h-12zM856 438h12v14h-12zM868 278h5v7h-5zM868 445h5v14h-5zM873 292h11v7h-11zM873 459h11v7h-11zM884 306h4v7h-4zM884 459h4v14h-4zM888 313h16v7h-16zM888 473h16v14h-16zM904 327h4v14h-4zM904 480h4v14h-4zM908 334h5v14h-5zM908 487h5v7h-5zM913 341h8v7h-8zM913 487h8v14h-8zM921 348h16v7h-16zM921 501h16v14h-16zM937 362h17v7h-17zM937 515h17v7h-17zM954 369h11v7h-11zM954 522h11v14h-11zM965 376h12v7h-12zM965 536h15v7h-15zM977 383h3v7h-3zM980 390h17v7h-17zM980 543h17v7h-17zM997 397h5v7h-5zM997 550h5v7h-5zM1002 404h15v7h-15zM1002 557h15v7h-15zM1017 411h8v14h-8zM1017 564h16v7h-16zM1025 418h8v7h-8zM1033 425h12v6h-12zM1033 571h12v7h-12z"/>
<path fill="#00b2ff" d="M241 404h37v14h-37zM278 411h10v7h-10zM288 411h9v14h-9zM297 418h9v13h-9zM306 418h8v20h-8zM314 418h9v27h-9zM323 425h9v20h-9zM332 425h9v27h-9zM341 431h9v28h-9zM350 438h9v28h-9zM359 445h9v28h-9zM368 452h9v21h-9zM377 459h9v21h-9zM386 466h17v21h-17zM403 473h18v21h-18zM421 487h9v21h-9zM430 501h9v21h-9zM439 515h9v14h-9zM448 522h9v14h-9zM457 529h8v14h-8zM465 536h9v14h-9zM474 543h9v14h-9zM483 557h19v14h-19zM502 585h16v14h-16zM518 613h9v7h-9zM527 627h12v14h-12zM539 669h27v7h-27zM539 746h27v35h-27zM639 166h11v21h-11zM675 75h16v14h-16zM707 208h13v7h-13zM720 229h12v7h-12zM732 243h4v7h-4zM736 257h15v7h-15zM751 271h5v21h-5zM756 306h13v7h-13zM769 82h4v7h-4zM769 320h4v14h-4zM773 334h3v14h-3zM776 103h7v7h-7zM776 348h7v7h-7zM783 355h5v7h-5zM788 131h15v7h-15zM788 369h15v7h-15zM803 159h9v7h-9zM803 376h9v7h-9zM815 173h5v7h-5zM820 390h7v7h-7zM827 215h12v7h-12zM827 404h12v7h-12zM839 236h5v7h-5zM839 411h5v14h-5zM844 250h12v7h-12zM856 264h12v7h-12zM856 431h12v7h-12zM868 271h5v7h-5zM868 438h5v7h-5zM873 285h11v7h-11zM873 452h11v7h-11zM884 292h4v14h-4zM888 306h16v7h-16zM888 466h16v7h-16zM904 313h4v14h-4zM904 473h4v7h-4zM908 320h5v14h-5zM908 480h5v7h-5zM913 327h8v14h-8zM921 341h16v7h-16zM921 494h16v7h-16zM937 103h17v7h-17zM937 355h17v7h-17zM937 508h17v7h-17zM954 117h11v7h-11zM954 362h11v7h-11zM954 515h11v7h-11zM965 369h12v7h-12zM965 522h12v14h-12zM977 131h3v7h-3zM977 376h3v7h-3zM977 529h3v7h-3zM980 152h17v7h-17zM980 383h17v7h-17zM980 536h17v7h-17zM997 166h5v7h-5zM997 390h5v7h-5zM997 543h5v7h-5zM1002 397h15v7h-15zM1002 550h15v7h-15zM1017 404h8v7h-8zM1017 557h8v7h-8zM1025 187h8v7h-8zM1025 411h8v7h-8zM1033 564h12v7h-12z"/>
<path fill="#00bfff" d="M241 397h37v7h-37zM278 397h10v14h-10zM288 404h9v7h-9zM297 404h17v14h-17zM314 411h9v7h-9zM323 411h18v14h-18zM341 418h9v13h-9zM350 418h9v20h-9zM359 425h9v20h-9zM368 431h9v21h-9zM377 438h9v21h-9zM386 445h9v21h-9zM395 452h8v14h-8zM403 452h9v21h-9zM412 459h9v14h-9zM421 466h9v21h-9zM430 480h9v21h-9zM439 494h9v21h-9zM448 508h9v14h-9zM457 515h8v14h-8zM465 522h9v14h-9zM474 536h9v7h-9zM483 543h19v14h-19zM502 571h16v14h-16zM518 599h9v14h-9zM527 620h12v7h-12zM539 662h27v7h-27zM639 145h11v21h-11zM691 159h12v7h-12zM703 173h4v14h-4zM707 201h13v7h-13zM720 222h12v7h-12zM732 236h4v7h-4zM736 250h15v7h-15zM751 264h5v7h-5zM756 299h13v7h-13zM769 313h4v7h-4zM773 89h3v7h-3zM773 320h3v14h-3zM776 96h7v7h-7zM776 341h7v7h-7zM783 117h5v7h-5zM783 348h5v7h-5zM788 362h15v7h-15zM803 152h9v7h-9zM812 166h3v7h-3zM812 383h8v7h-8zM820 180h7v7h-7zM827 208h12v7h-12zM827 397h12v7h-12zM839 229h5v7h-5zM839 404h5v7h-5zM844 418h12v7h-12zM856 425h12v6h-12zM873 278h11v7h-11zM873 445h11v7h-11zM884 285h4v7h-4zM884 452h4v7h-4zM888 299h16v7h-16zM888 459h16v7h-16zM908 313h5v7h-5zM908 473h5v7h-5zM913 313h8v14h-8zM913 480h8v7h-8zM921 327h16v14h-16zM921 487h16v7h-16zM937 341h17v14h-17zM954 355h11v7h-11zM965 362h12v7h-12zM977 369h3v7h-3zM980 376h17v7h-17zM980 529h17v7h-17zM997 383h5v7h-5zM997 536h5v7h-5zM1002 173h15v7h-15zM1002 390h15v7h-15zM1002 543h15v7h-15zM1017 397h8v7h-8zM1017 550h8v7h-8zM1025 404h8v7h-8zM1025 557h8v7h-8zM1033 418h12v7h-12z"/>
<path fill="#00ccff" d="M241 383h37v14h-37zM278 390h10v7h-10zM288 390h18v14h-18zM306 397h8v7h-8zM314 397h27v14h-27zM341 404h18v14h-18zM359 411h9v14h-9zM368 411h9v20h-9zM377 418h9v20h-9zM386 425h9v20h-9zM395 431h17v21h-17zM412 438h9v21h-9zM421 445h9v21h-9zM430 459h9v21h-9zM439 473h9v21h-9zM448 487h9v21h-9zM457 501h8v14h-8zM465 515h9v7h-9zM474 522h9v14h-9zM483 536h19v7h-19zM502 557h16v14h-16zM518 578h9v21h-9zM527 606h12v14h-12zM539 648h27v14h-27zM566 690h5v91h-5zM634 131h5v7h-5zM691 145h12v14h-12zM707 194h13v7h-13zM732 229h4v7h-4zM736 243h15v7h-15zM751 257h5v7h-5zM756 278h13v21h-13zM773 82h3v7h-3zM773 313h3v7h-3zM776 89h7v7h-7zM776 334h7v7h-7zM783 110h5v7h-5zM788 355h15v7h-15zM803 145h9v7h-9zM812 376h3v7h-3zM815 166h5v7h-5zM820 173h7v7h-7zM827 194h12v14h-12zM827 390h12v7h-12zM839 222h5v7h-5zM844 243h12v7h-12zM844 411h12v7h-12zM856 257h12v7h-12zM868 264h5v7h-5zM868 431h5v7h-5zM873 271h11v7h-11zM873 438h11v7h-11zM884 278h4v7h-4zM884 445h4v7h-4zM888 292h16v7h-16zM904 306h9v7h-9zM904 466h4v7h-4zM913 473h8v7h-8zM921 320h16v7h-16zM937 96h17v7h-17zM937 334h17v7h-17zM937 501h17v7h-17zM954 348h11v7h-11zM965 124h12v7h-12zM965 355h12v7h-12zM977 362h3v7h-3zM977 522h3v7h-3zM980 369h17v7h-17zM997 376h5v7h-5zM1002 383h15v7h-15zM1017 180h8v7h-8zM1017 390h8v7h-8zM1025 397h8v7h-8zM1025 550h8v7h-8zM1033 194h12v7h-12zM1033 404h12v14h-12zM1033 557h12v7h-12z"/>
<path fill="#00d9ff" d="M241 369h9v14h-9zM250 376h28v7h-28zM278 376h19v14h-19zM297 383h9v7h-9zM306 383h35v14h-35zM341 390h18v14h-18zM359 397h18v14h-18zM377 404h9v14h-9zM386 411h9v14h-9zM395 418h17v13h-17zM412 418h9v20h-9zM421 425h9v20h-9zM430 445h9v14h-9zM439 459h9v14h-9zM448 473h9v14h-9zM457 480h8v21h-8zM465 494h9v21h-9zM474 508h9v14h-9zM483 522h19v14h-19zM502 543h16v14h-16zM518 564h9v14h-9zM527 592h12v14h-12zM539 641h27v7h-27zM566 676h5v14h-5zM571 725h8v56h-8zM634 96h5v35h-5zM691 138h12v7h-12zM703 166h4v7h-4zM707 187h13v7h-13zM720 215h12v7h-12zM751 250h5v7h-5zM756 271h13v7h-13zM769 75h4v7h-4zM769 306h4v7h-4zM776 313h7v21h-7zM783 96h5v14h-5zM783 341h5v7h-5zM788 124h15v7h-15zM803 138h9v7h-9zM803 369h9v7h-9zM812 159h3v7h-3zM815 376h5v7h-5zM820 383h7v7h-7zM827 187h12v7h-12zM839 215h5v7h-5zM839 397h5v7h-5zM844 236h12v7h-12zM844 404h12v7h-12zM856 418h12v7h-12zM868 425h5v6h-5zM873 431h11v7h-11zM884 438h4v7h-4zM888 285h16v7h-16zM888 452h16v7h-16zM904 299h9v7h-9zM904 459h4v7h-4zM908 466h5v7h-5zM913 306h8v7h-8zM921 313h16v7h-16zM937 327h17v7h-17zM937 494h17v7h-17zM954 341h11v7h-11zM954 508h11v7h-11zM965 348h12v7h-12zM965 515h12v7h-12zM977 355h3v7h-3zM980 145h17v7h-17zM980 362h17v7h-17zM997 369h5v7h-5zM997 529h5v7h-5zM1002 376h15v7h-15zM1002 536h15v7h-15zM1017 543h8v7h-8zM1025 390h8v7h-8zM1033 397h12v7h-12z"/>
<path fill="#00e5ff" d="M241 362h9v7h-9zM250 362h38v14h-38zM288 369h9v7h-9zM297 369h35v14h-35zM332 376h9v7h-9zM341 376h18v14h-18zM359 376h9v21h-9zM368 383h9v14h-9zM377 390h9v14h-9zM386 397h9v14h-9zM395 397h8v21h-8zM403 404h18v14h-18zM421 418h9v7h-9zM430 425h9v20h-9zM439 438h9v21h-9zM448 452h9v21h-9zM457 459h8v21h-8zM465 473h9v21h-9zM474 487h9v21h-9zM483 508h19v14h-19zM502 529h16v14h-16zM518 543h9v21h-9zM527 578h12v14h-12zM539 627h27v14h-27zM566 669h5v7h-5zM571 683h8v42h-8zM579 753h8v28h-8zM634 75h5v21h-5zM691 103h12v7h-12zM691 131h12v7h-12zM720 208h12v7h-12zM732 222h4v7h-4zM736 236h15v7h-15zM756 264h13v7h-13zM769 292h4v14h-4zM773 75h3v7h-3zM773 306h3v7h-3zM776 82h7v7h-7zM783 89h5v7h-5zM783 334h5v7h-5zM788 117h15v7h-15zM803 131h9v7h-9zM803 362h9v7h-9zM812 145h3v14h-3zM812 369h3v7h-3zM815 159h5v7h-5zM820 166h7v7h-7zM820 376h7v7h-7zM827 180h12v7h-12zM839 201h5v14h-5zM839 390h5v7h-5zM844 222h12v14h-12zM844 397h12v7h-12zM856 250h12v7h-12zM868 257h5v7h-5zM873 264h11v7h-11zM873 425h11v6h-11zM884 271h4v7h-4zM888 278h16v7h-16zM888 445h16v7h-16zM904 292h9v7h-9zM908 459h5v7h-5zM913 299h8v7h-8zM913 466h8v7h-8zM921 306h16v7h-16zM921 480h16v7h-16zM937 320h17v7h-17zM954 334h11v7h-11zM965 341h12v7h-12zM977 348h3v7h-3zM977 515h3v7h-3zM980 355h17v7h-17zM980 522h17v7h-17zM997 159h5v7h-5zM997 362h5v7h-5zM1017 383h8v7h-8zM1025 543h8v7h-8zM1033 390h12v7h-12zM1033 550h12v7h-12z"/>
<path fill="#00f2ff" d="M241 348h19v14h-19zM260 355h28v7h-28zM288 355h35v14h-35zM323 362h9v7h-9zM332 362h36v14h-36zM368 369h9v14h-9zM377 369h9v21h-9zM386 383h17v14h-17zM403 390h9v14h-9zM412 397h9v7h-9zM421 404h9v14h-9zM430 411h9v14h-9zM439 418h9v20h-9zM448 431h9v21h-9zM457 438h8v21h-8zM465 452h9v21h-9zM474 466h9v21h-9zM483 487h19v21h-19zM502 515h16v14h-16zM518 529h9v14h-9zM527 564h12v14h-12zM539 620h27v7h-27zM566 662h5v7h-5zM571 676h8v7h-8zM579 711h8v42h-8zM587 767h11v14h-11zM691 82h12v21h-12zM691 110h12v21h-12zM703 145h4v21h-4zM707 173h13v14h-13zM736 229h15v7h-15zM751 243h5v7h-5zM756 257h13v7h-13zM769 271h4v21h-4zM773 292h3v14h-3zM776 306h7v7h-7zM783 313h5v21h-5zM788 110h15v7h-15zM788 348h15v7h-15zM812 138h3v7h-3zM815 145h5v14h-5zM815 369h5v7h-5zM827 173h12v7h-12zM827 383h12v7h-12zM839 187h5v14h-5zM844 215h12v7h-12zM856 243h12v7h-12zM856 411h12v7h-12zM868 418h5v7h-5zM873 257h11v7h-11zM884 264h4v7h-4zM884 431h4v7h-4zM888 271h16v7h-16zM888 438h16v7h-16zM904 278h4v14h-4zM904 452h4v7h-4zM908 285h5v7h-5zM913 292h8v7h-8zM913 459h8v7h-8zM921 75h16v7h-16zM921 299h16v7h-16zM921 473h16v7h-16zM937 89h17v7h-17zM937 313h17v7h-17zM937 487h17v7h-17zM954 110h11v7h-11zM954 327h11v7h-11zM954 501h11v7h-11zM965 117h12v7h-12zM965 334h12v7h-12zM965 508h12v7h-12zM977 124h3v7h-3zM977 341h3v7h-3zM980 131h17v14h-17zM980 348h17v7h-17zM997 152h5v7h-5zM997 355h5v7h-5zM1002 166h15v7h-15zM1002 369h15v7h-15zM1002 529h15v7h-15zM1017 376h8v7h-8zM1017 536h8v7h-8zM1025 180h8v7h-8zM1025 383h8v7h-8zM1033 187h12v7h-12z"/>
<path fill="#00ffff" d="M241 341h19v7h-19zM260 341h54v14h-54zM314 348h9v7h-9zM323 348h45v14h-45zM368 348h9v21h-9zM377 355h9v14h-9zM386 362h9v21h-9zM395 369h8v14h-8zM403 376h9v14h-9zM412 383h9v14h-9zM421 390h9v14h-9zM430 397h9v14h-9zM439 411h9v7h-9zM448 418h9v13h-9zM457 425h8v13h-8zM465 431h9v21h-9zM474 445h9v21h-9zM483 466h19v21h-19zM502 501h16v14h-16zM518 515h9v14h-9zM527 543h12v21h-12zM539 613h27v7h-27zM566 648h5v14h-5zM571 669h8v7h-8zM579 683h8v28h-8zM587 739h11v28h-11zM598 767h4v14h-4zM691 75h12v7h-12zM703 138h4v7h-4zM720 201h12v7h-12zM732 215h4v7h-4zM756 250h13v7h-13zM769 264h4v7h-4zM773 271h3v21h-3zM776 75h7v7h-7zM776 299h7v7h-7zM783 82h5v7h-5zM788 103h15v7h-15zM788 341h15v7h-15zM803 124h9v7h-9zM803 355h9v7h-9zM812 131h3v7h-3zM812 362h3v7h-3zM815 138h5v7h-5zM820 152h7v14h-7zM827 166h12v7h-12zM839 180h5v7h-5zM844 201h12v14h-12zM844 390h12v7h-12zM856 229h12v14h-12zM856 404h12v7h-12zM868 250h5v7h-5zM868 411h5v7h-5zM884 425h4v6h-4zM888 264h16v7h-16zM904 445h4v7h-4zM908 278h5v7h-5zM908 452h5v7h-5zM913 285h8v7h-8zM937 82h17v7h-17zM937 306h17v7h-17zM954 96h11v14h-11zM954 320h11v7h-11zM954 494h11v7h-11zM965 327h12v7h-12zM977 334h3v7h-3zM980 341h17v7h-17zM980 515h17v7h-17zM997 138h5v14h-5zM997 522h5v7h-5zM1002 159h15v7h-15zM1002 362h15v7h-15zM1017 173h8v7h-8zM1017 369h8v7h-8zM1025 376h8v7h-8zM1025 536h8v7h-8zM1033 383h12v7h-12zM1033 543h12v7h-12z"/>
<path fill="#0dfff2" d="M241 313h19v28h-19zM260 320h28v21h-28zM288 327h26v14h-26zM314 327h18v21h-18zM332 334h45v14h-45zM377 341h9v14h-9zM386 348h9v14h-9zM395 355h8v14h-8zM403 362h9v14h-9zM412 369h9v14h-9zM421 376h9v14h-9zM430 390h9v7h-9zM439 397h9v14h-9zM448 404h9v14h-9zM457 411h8v14h-8zM465 418h9v13h-9zM474 425h9v20h-9zM483 452h19v14h-19zM502 487h16v14h-16zM518 501h9v14h-9zM527 529h12v14h-12zM539 599h27v14h-27zM566 641h5v7h-5zM571 655h8v14h-8zM579 676h8v7h-8zM587 711h11v28h-11zM598 746h4v21h-4zM703 103h4v7h-4zM703 131h4v7h-4zM707 166h13v7h-13zM720 194h12v7h-12zM732 208h4v7h-4zM736 222h15v7h-15zM751 236h5v7h-5zM776 278h7v21h-7zM783 306h5v7h-5zM788 89h15v14h-15zM788 327h15v14h-15zM803 117h9v7h-9zM815 131h5v7h-5zM815 362h5v7h-5zM820 138h7v14h-7zM820 369h7v7h-7zM827 376h12v7h-12zM839 173h5v7h-5zM839 383h5v7h-5zM844 187h12v14h-12zM856 215h12v14h-12zM856 397h12v7h-12zM868 236h5v14h-5zM873 250h11v7h-11zM873 418h11v7h-11zM884 257h4v7h-4zM888 431h16v7h-16zM904 271h9v7h-9zM904 438h4v7h-4zM908 445h5v7h-5zM913 278h8v7h-8zM913 452h8v7h-8zM921 292h16v7h-16zM921 459h16v14h-16zM937 480h17v7h-17zM954 89h11v7h-11zM954 313h11v7h-11zM954 487h11v7h-11zM965 110h12v7h-12zM965 320h12v7h-12zM965 501h12v7h-12zM977 117h3v7h-3zM977 327h3v7h-3zM977 508h3v7h-3zM980 124h17v7h-17zM980 334h17v7h-17zM997 131h5v7h-5zM997 348h5v7h-5zM1002 152h15v7h-15zM1002 355h15v7h-15zM1002 522h15v7h-15zM1017 166h8v7h-8zM1017 362h8v7h-8zM1017 529h8v7h-8zM1025 173h8v7h-8zM1025 369h8v7h-8zM1033 180h12v7h-12zM1033 376h12v7h-12z"/>
<path fill="#1affe5" d="M241 285h9v28h-9zM250 292h10v21h-10zM260 292h9v28h-9zM269 299h19v21h-19zM288 306h26v21h-26zM314 313h18v14h-18zM332 313h18v21h-18zM350 320h27v14h-27zM377 327h9v14h-9zM386 334h9v14h-9zM395 341h8v14h-8zM403 348h9v14h-9zM412 355h9v14h-9zM421 369h9v7h-9zM430 376h9v14h-9zM439 383h9v14h-9zM448 397h9v7h-9zM457 397h8v14h-8zM465 404h9v14h-9zM474 418h9v7h-9zM483 431h19v21h-19zM502 473h16v14h-16zM518 487h9v14h-9zM527 515h12v14h-12zM539 585h27v14h-27zM566 627h5v14h-5zM571 648h8v7h-8zM579 669h8v7h-8zM587 690h11v21h-11zM598 725h4v21h-4zM602 767h20v14h-20zM703 89h4v14h-4zM703 110h4v21h-4zM720 187h12v7h-12zM769 257h4v7h-4zM773 264h3v7h-3zM776 271h7v7h-7zM783 75h5v7h-5zM783 299h5v7h-5zM788 82h15v7h-15zM788 313h15v14h-15zM803 110h9v7h-9zM803 348h9v7h-9zM812 124h8v7h-8zM812 355h3v7h-3zM820 131h7v7h-7zM820 362h7v7h-7zM827 152h12v14h-12zM839 166h5v7h-5zM844 180h12v7h-12zM856 201h12v14h-12zM868 222h5v14h-5zM868 404h5v7h-5zM873 236h11v14h-11zM873 411h11v7h-11zM884 250h4v7h-4zM888 257h16v7h-16zM888 425h16v6h-16zM904 264h4v7h-4zM908 438h5v7h-5zM913 271h8v7h-8zM913 445h8v7h-8zM921 285h16v7h-16zM937 75h17v7h-17zM937 299h17v7h-17zM937 473h17v7h-17zM954 82h11v7h-11zM954 306h11v7h-11zM965 96h12v14h-12zM965 313h12v7h-12zM965 494h12v7h-12zM977 110h3v7h-3zM977 320h3v7h-3zM977 501h3v7h-3zM980 117h17v7h-17zM980 327h17v7h-17zM997 124h5v7h-5zM997 341h5v7h-5zM997 515h5v7h-5zM1002 131h15v21h-15zM1002 348h15v7h-15zM1017 159h8v7h-8zM1017 355h8v7h-8zM1025 166h8v7h-8zM1025 362h8v7h-8zM1025 529h8v7h-8zM1033 173h12v7h-12zM1033 369h12v7h-12zM1033 536h12v7h-12z"/>
<path fill="#26ffd9" d="M241 257h9v28h-9zM250 264h10v28h-10zM260 271h9v21h-9zM269 271h9v28h-9zM278 278h10v21h-10zM288 285h26v21h-26zM314 292h18v21h-18zM332 299h18v14h-18zM350 299h18v21h-18zM368 306h9v14h-9zM377 306h9v21h-9zM386 320h9v14h-9zM395 327h8v14h-8zM403 334h9v14h-9zM412 341h9v14h-9zM421 355h9v14h-9zM430 362h9v14h-9zM439 369h9v14h-9zM448 383h9v14h-9zM457 390h8v7h-8zM465 397h9v7h-9zM474 404h9v14h-9zM483 418h19v13h-19zM502 459h16v14h-16zM518 473h9v14h-9zM527 501h12v14h-12zM539 571h27v14h-27zM566 620h5v7h-5zM571 634h8v14h-8zM579 655h8v14h-8zM587 683h11v7h-11zM598 704h4v21h-4zM602 746h20v21h-20zM703 82h4v7h-4zM707 138h13v28h-13zM732 201h4v7h-4zM736 215h15v7h-15zM751 229h5v7h-5zM756 243h13v7h-13zM783 285h5v14h-5zM803 96h9v14h-9zM803 341h9v7h-9zM812 110h3v14h-3zM815 117h5v7h-5zM815 355h5v7h-5zM827 138h12v14h-12zM839 159h5v7h-5zM839 376h5v7h-5zM844 173h12v7h-12zM844 383h12v7h-12zM856 187h12v14h-12zM856 390h12v7h-12zM868 208h5v14h-5zM868 397h5v7h-5zM873 222h11v14h-11zM884 243h4v7h-4zM884 418h4v7h-4zM904 257h4v7h-4zM904 431h4v7h-4zM908 264h13v7h-13zM913 438h8v7h-8zM921 278h16v7h-16zM921 452h16v7h-16zM937 292h17v7h-17zM954 299h11v7h-11zM965 89h12v7h-12zM977 96h3v14h-3zM977 313h3v7h-3zM980 110h17v7h-17zM980 320h17v7h-17zM980 508h17v7h-17zM997 334h5v7h-5zM1002 341h15v7h-15zM1017 145h8v14h-8zM1017 348h8v7h-8zM1017 522h8v7h-8zM1025 159h8v7h-8zM1025 355h8v7h-8zM1033 362h12v7h-12z"/>
<path fill="#33ffcc" d="M241 215h9v42h-9zM250 229h10v35h-10zM260 236h9v35h-9zM269 250h9v21h-9zM278 257h10v21h-10zM288 264h18v21h-18zM306 271h8v14h-8zM314 271h9v21h-9zM323 278h9v14h-9zM332 278h18v21h-18zM350 285h18v14h-18zM368 285h9v21h-9zM377 292h9v14h-9zM386 299h9v21h-9zM395 313h8v14h-8zM403 320h9v14h-9zM412 327h9v14h-9zM421 341h9v14h-9zM430 348h9v14h-9zM439 362h9v7h-9zM448 369h9v14h-9zM457 376h8v14h-8zM465 383h9v14h-9zM474 397h9v7h-9zM483 411h19v7h-19zM502 445h16v14h-16zM518 459h9v14h-9zM527 487h12v14h-12zM539 557h27v14h-27zM566 613h5v7h-5zM571 627h8v7h-8zM579 648h8v7h-8zM587 669h11v14h-11zM598 683h4v21h-4zM602 732h20v14h-20zM703 75h4v7h-4zM707 131h13v7h-13zM720 173h12v14h-12zM732 194h4v7h-4zM783 278h5v7h-5zM788 75h15v7h-15zM788 306h15v7h-15zM803 89h9v7h-9zM803 334h9v7h-9zM812 103h3v7h-3zM812 348h3v7h-3zM815 110h5v7h-5zM820 124h7v7h-7zM827 131h12v7h-12zM827 369h12v7h-12zM839 152h5v7h-5zM844 166h12v7h-12zM856 180h12v7h-12zM868 194h5v14h-5zM873 215h11v7h-11zM873 404h11v7h-11zM884 229h4v14h-4zM884 411h4v7h-4zM888 243h16v14h-16zM908 257h5v7h-5zM908 431h5v7h-5zM921 271h16v7h-16zM937 285h17v7h-17zM954 75h11v7h-11zM954 292h11v7h-11zM954 480h11v7h-11zM965 82h12v7h-12zM965 306h12v7h-12zM965 487h12v7h-12zM977 89h3v7h-3zM977 494h3v7h-3zM980 103h17v7h-17zM980 313h17v7h-17zM997 117h5v7h-5zM997 327h5v7h-5zM1002 124h15v7h-15zM1002 334h15v7h-15zM1002 515h15v7h-15zM1017 131h8v14h-8zM1017 341h8v7h-8zM1025 152h8v7h-8zM1025 348h8v7h-8zM1033 166h12v7h-12zM1033 355h12v7h-12zM1033 529h12v7h-12z"/>
<path fill="#40ffbf" d="M241 187h9v28h-9zM250 187h10v42h-10zM260 194h9v42h-9zM269 201h9v49h-9zM278 215h10v42h-10zM288 222h9v42h-9zM297 236h9v28h-9zM306 243h8v28h-8zM314 250h9v21h-9zM323 257h18v21h-18zM341 264h9v14h-9zM350 264h9v21h-9zM359 271h18v14h-18zM377 278h9v14h-9zM386 285h9v14h-9zM395 292h8v21h-8zM403 306h9v14h-9zM412 313h9v14h-9zM421 327h9v14h-9zM430 341h9v7h-9zM439 348h9v14h-9zM448 355h9v14h-9zM457 362h8v14h-8zM465 376h9v7h-9zM474 383h9v14h-9zM483 397h19v14h-19zM502 431h16v14h-16zM518 445h9v14h-9zM527 473h12v14h-12zM539 543h27v14h-27zM566 599h5v14h-5zM571 620h8v7h-8zM579 641h8v7h-8zM587 662h11v7h-11zM598 676h4v7h-4zM602 711h20v21h-20zM622 767h4v14h-4zM707 103h13v21h-13zM736 208h15v7h-15zM751 222h5v7h-5zM756 236h13v7h-13zM769 250h4v7h-4zM773 257h3v7h-3zM776 264h7v7h-7zM803 82h9v7h-9zM803 320h9v14h-9zM812 89h3v14h-3zM812 341h3v7h-3zM815 96h5v14h-5zM815 348h5v7h-5zM820 117h7v7h-7zM820 355h7v7h-7zM827 362h12v7h-12zM839 138h5v14h-5zM844 159h12v7h-12zM844 376h12v7h-12zM856 173h12v7h-12zM868 187h5v7h-5zM868 390h5v7h-5zM873 201h11v14h-11zM873 397h11v7h-11zM884 215h4v14h-4zM888 236h16v7h-16zM888 418h16v7h-16zM904 250h4v7h-4zM904 425h4v6h-4zM913 257h8v7h-8zM921 264h16v7h-16zM921 445h16v7h-16zM937 278h17v7h-17zM937 466h17v7h-17zM954 285h11v7h-11zM954 473h11v7h-11zM965 299h12v7h-12zM977 82h3v7h-3zM977 306h3v7h-3zM980 96h17v7h-17zM980 501h17v7h-17zM997 110h5v7h-5zM997 320h5v7h-5zM997 508h5v7h-5zM1002 117h15v7h-15zM1002 327h15v7h-15zM1025 131h8v21h-8zM1025 522h8v7h-8zM1033 152h12v14h-12z"/>
<path fill="#4dffb2" d="M241 159h9v28h-9zM250 166h10v21h-10zM260 173h9v21h-9zM269 173h9v28h-9zM278 180h10v35h-10zM288 187h9v35h-9zM297 194h9v42h-9zM306 201h8v42h-8zM314 208h9v42h-9zM323 222h9v35h-9zM332 229h9v28h-9zM341 243h9v21h-9zM350 250h9v14h-9zM359 250h9v21h-9zM368 257h9v14h-9zM377 264h9v14h-9zM386 271h9v14h-9zM395 278h8v14h-8zM403 292h9v14h-9zM412 299h9v14h-9zM421 306h9v21h-9zM430 320h9v21h-9zM439 334h9v14h-9zM448 348h9v7h-9zM457 355h8v7h-8zM465 362h9v14h-9zM474 376h9v7h-9zM483 390h19v7h-19zM502 418h16v13h-16zM518 431h9v14h-9zM527 459h12v14h-12zM539 529h27v14h-27zM566 585h5v14h-5zM571 606h8v14h-8zM579 627h8v14h-8zM587 655h11v7h-11zM598 669h4v7h-4zM602 697h20v14h-20zM622 760h4v7h-4zM707 96h13v7h-13zM707 124h13v7h-13zM720 166h12v7h-12zM732 187h4v7h-4zM736 201h15v7h-15zM783 271h5v7h-5zM788 299h15v7h-15zM803 313h9v7h-9zM812 82h3v7h-3zM815 89h5v7h-5zM820 103h7v14h-7zM827 124h12v7h-12zM839 131h5v7h-5zM839 369h5v7h-5zM844 145h12v14h-12zM868 180h5v7h-5zM873 187h11v14h-11zM884 201h4v14h-4zM884 404h4v7h-4zM888 222h16v14h-16zM904 236h4v14h-4zM908 243h5v14h-5zM908 425h5v6h-5zM913 250h8v7h-8zM913 431h8v7h-8zM921 257h16v7h-16zM937 271h17v7h-17zM937 459h17v7h-17zM954 278h11v7h-11zM965 75h12v7h-12zM965 292h12v7h-12zM977 299h3v7h-3zM977 487h3v7h-3zM980 82h17v14h-17zM980 306h17v7h-17zM997 96h5v14h-5zM997 313h5v7h-5zM1002 320h15v7h-15zM1017 124h8v7h-8zM1017 334h8v7h-8zM1025 341h8v7h-8zM1033 145h12v7h-12zM1033 348h12v7h-12z"/>
<path fill="#59ffa6" d="M241 138h9v21h-9zM250 138h10v28h-10zM260 145h9v28h-9zM269 152h9v21h-9zM278 152h10v28h-10zM288 159h9v28h-9zM297 166h9v28h-9zM306 173h8v28h-8zM314 180h9v28h-9zM323 187h9v35h-9zM332 194h9v35h-9zM341 208h9v35h-9zM350 222h9v28h-9zM359 229h9v21h-9zM368 236h9v21h-9zM377 243h9v21h-9zM386 257h9v14h-9zM395 264h8v14h-8zM403 271h9v21h-9zM412 285h9v14h-9zM421 292h9v14h-9zM430 306h9v14h-9zM439 313h9v21h-9zM448 327h9v21h-9zM457 341h8v14h-8zM465 348h9v14h-9zM474 362h9v14h-9zM483 376h19v14h-19zM502 404h16v14h-16zM518 425h9v6h-9zM527 445h12v14h-12zM539 515h27v14h-27zM566 571h5v14h-5zM571 599h8v7h-8zM579 620h8v7h-8zM587 641h11v14h-11zM598 662h4v7h-4zM602 683h20v14h-20zM622 746h4v14h-4zM626 774h8v7h-8zM707 89h13v7h-13zM720 145h12v21h-12zM732 180h4v7h-4zM751 215h5v7h-5zM756 229h13v7h-13zM788 292h15v7h-15zM803 75h9v7h-9zM812 327h3v14h-3zM815 82h5v7h-5zM815 341h5v7h-5zM820 96h7v7h-7zM820 348h7v7h-7zM827 117h12v7h-12zM844 138h12v7h-12zM856 166h12v7h-12zM856 383h12v7h-12zM868 173h5v7h-5zM873 390h11v7h-11zM884 194h4v7h-4zM888 208h16v14h-16zM888 411h16v7h-16zM904 229h4v7h-4zM908 236h5v7h-5zM913 243h8v7h-8zM921 438h16v7h-16zM937 264h17v7h-17zM965 285h12v7h-12zM977 75h3v7h-3zM977 292h3v7h-3zM980 299h17v7h-17zM980 494h17v7h-17zM997 89h5v7h-5zM997 306h5v7h-5zM1002 103h15v14h-15zM1002 313h15v7h-15zM1017 117h8v7h-8zM1017 327h8v7h-8zM1017 515h8v7h-8zM1025 124h8v7h-8zM1025 334h8v7h-8zM1033 131h12v14h-12zM1033 341h12v7h-12z"/>
<path fill="#66ff99" d="M241 117h19v21h-19zM260 117h9v28h-9zM269 124h19v28h-19zM288 131h9v28h-9zM297 138h9v28h-9zM306 145h8v28h-8zM314 152h9v28h-9zM323 166h9v21h-9zM332 173h9v21h-9zM341 180h9v28h-9zM350 194h9v28h-9zM359 201h9v28h-9zM368 215h9v21h-9zM377 222h9v21h-9zM386 229h9v28h-9zM395 243h8v21h-8zM403 257h9v14h-9zM412 264h9v21h-9zM421 278h9v14h-9zM430 285h9v21h-9zM439 299h9v14h-9zM448 313h9v14h-9zM457 327h8v14h-8zM465 341h9v7h-9zM474 348h9v14h-9zM483 369h19v7h-19zM502 397h16v7h-16zM518 411h9v14h-9zM527 431h12v14h-12zM539 494h27v21h-27zM566 557h5v14h-5zM571 585h8v14h-8zM579 613h8v7h-8zM587 634h11v7h-11zM598 648h4v14h-4zM602 676h20v7h-20zM622 739h4v7h-4zM626 760h8v14h-8zM707 82h13v7h-13zM720 138h12v7h-12zM732 173h4v7h-4zM736 194h15v7h-15zM773 250h3v7h-3zM776 257h7v7h-7zM783 264h5v7h-5zM812 313h3v14h-3zM815 334h5v7h-5zM820 89h7v7h-7zM827 110h12v7h-12zM827 355h12v7h-12zM839 124h5v7h-5zM839 362h5v7h-5zM844 131h12v7h-12zM856 159h12v7h-12zM873 180h11v7h-11zM884 187h4v7h-4zM884 397h4v7h-4zM888 201h16v7h-16zM904 215h4v14h-4zM904 418h4v7h-4zM908 222h5v14h-5zM913 236h8v7h-8zM921 250h16v7h-16zM937 257h17v7h-17zM937 452h17v7h-17zM954 271h11v7h-11zM965 278h12v7h-12zM965 480h12v7h-12zM977 285h3v7h-3zM980 75h17v7h-17zM980 292h17v7h-17zM997 82h5v7h-5zM997 501h5v7h-5zM1002 96h15v7h-15zM1002 508h15v7h-15zM1017 110h8v7h-8zM1017 320h8v7h-8zM1025 327h8v7h-8zM1033 334h12v7h-12zM1033 522h12v7h-12z"/>
<path fill="#73ff8c" d="M241 89h9v28h-9zM250 96h19v21h-19zM269 96h9v28h-9zM278 103h10v21h-10zM288 110h9v21h-9zM297 117h9v21h-9zM306 124h8v21h-8zM314 131h9v21h-9zM323 138h9v28h-9zM332 152h9v21h-9zM341 159h9v21h-9zM350 166h9v28h-9zM359 180h9v21h-9zM368 187h9v28h-9zM377 201h9v21h-9zM386 208h9v21h-9zM395 222h8v21h-8zM403 236h9v21h-9zM412 250h9v14h-9zM421 257h9v21h-9zM430 271h9v14h-9zM439 278h9v21h-9zM448 292h9v21h-9zM457 306h8v21h-8zM465 320h9v21h-9zM474 341h9v7h-9zM483 355h19v14h-19zM502 383h16v14h-16zM518 397h9v14h-9zM527 418h12v13h-12zM539 473h27v21h-27zM566 543h5v14h-5zM571 571h8v14h-8zM579 599h8v14h-8zM587 627h11v7h-11zM598 641h4v7h-4zM602 662h20v14h-20zM622 725h4v14h-4zM626 753h8v7h-8zM707 75h13v7h-13zM720 131h12v7h-12zM732 166h4v7h-4zM736 187h15v7h-15zM751 208h5v7h-5zM756 222h13v7h-13zM769 243h4v7h-4zM788 278h15v14h-15zM812 75h3v7h-3zM815 320h5v14h-5zM820 82h7v7h-7zM820 341h7v7h-7zM827 96h12v14h-12zM839 117h5v7h-5zM844 369h12v7h-12zM856 145h12v14h-12zM856 376h12v7h-12zM868 166h5v7h-5zM868 383h5v7h-5zM873 173h11v7h-11zM884 180h4v7h-4zM884 390h4v7h-4zM888 194h16v7h-16zM888 404h16v7h-16zM904 208h4v7h-4zM908 215h5v7h-5zM913 222h8v14h-8zM913 425h8v6h-8zM921 243h16v7h-16zM954 264h11v7h-11zM965 271h12v7h-12zM965 473h12v7h-12zM977 278h3v7h-3zM980 285h17v7h-17zM980 487h17v7h-17zM997 299h5v7h-5zM1002 89h15v7h-15zM1002 306h15v7h-15zM1017 103h8v7h-8zM1017 313h8v7h-8zM1025 117h8v7h-8zM1025 320h8v7h-8zM1033 124h12v7h-12zM1033 327h12v7h-12z"/>
<path fill="#80ff80" d="M241 75h9v14h-9zM250 75h28v21h-28zM278 75h10v28h-10zM288 82h9v28h-9zM297 89h9v28h-9zM306 96h8v28h-8zM314 103h9v28h-9zM323 117h9v21h-9zM332 124h9v28h-9zM341 131h9v28h-9zM350 145h9v21h-9zM359 152h9v28h-9zM368 166h9v21h-9zM377 173h9v28h-9zM386 187h9v21h-9zM395 194h8v28h-8zM403 208h9v28h-9zM412 222h9v28h-9zM421 236h9v21h-9zM430 257h9v14h-9zM439 264h9v14h-9zM448 278h9v14h-9zM457 285h8v21h-8zM465 299h9v21h-9zM474 320h9v21h-9zM483 348h19v7h-19zM502 369h16v14h-16zM518 390h9v7h-9zM527 411h12v7h-12zM539 452h27v21h-27zM566 529h5v14h-5zM571 557h8v14h-8zM579 585h8v14h-8zM587 613h11v14h-11zM598 634h4v7h-4zM602 655h20v7h-20zM622 711h4v14h-4zM626 739h8v14h-8zM732 145h4v21h-4zM769 236h4v7h-4zM803 306h9v7h-9zM815 75h5v7h-5zM815 313h5v7h-5zM820 334h7v7h-7zM827 89h12v7h-12zM839 110h5v7h-5zM844 124h12v7h-12zM856 131h12v14h-12zM868 159h5v7h-5zM888 187h16v7h-16zM888 397h16v7h-16zM904 201h4v7h-4zM904 411h4v7h-4zM908 208h5v7h-5zM908 418h5v7h-5zM913 215h8v7h-8zM921 236h16v7h-16zM921 431h16v7h-16zM937 250h17v7h-17zM937 445h17v7h-17zM954 257h11v7h-11zM954 466h11v7h-11zM965 264h12v7h-12zM977 271h3v7h-3zM977 480h3v7h-3zM980 278h17v7h-17zM997 75h5v7h-5zM997 292h5v7h-5zM1002 82h15v7h-15zM1002 299h15v7h-15zM1017 96h8v7h-8zM1017 306h8v7h-8zM1025 110h8v7h-8zM1025 313h8v7h-8zM1025 515h8v7h-8zM1033 117h12v7h-12zM1033 320h12v7h-12z"/>
<path fill="#8cff73" d="M288 75h9v7h-9zM297 75h9v14h-9zM306 75h8v21h-8zM314 82h9v21h-9zM323 89h9v28h-9zM332 103h9v21h-9zM341 110h9v21h-9zM350 117h9v28h-9zM359 131h9v21h-9zM368 138h9v28h-9zM377 152h9v21h-9zM386 159h9v28h-9zM395 166h8v28h-8zM403 180h9v28h-9zM412 194h9v28h-9zM421 215h9v21h-9zM430 229h9v28h-9zM439 243h9v21h-9zM448 257h9v21h-9zM457 271h8v14h-8zM465 285h9v14h-9zM474 299h9v21h-9zM483 334h19v14h-19zM502 362h16v7h-16zM518 376h9v14h-9zM527 397h12v14h-12zM539 425h27v27h-27zM566 522h5v7h-5zM571 543h8v14h-8zM579 571h8v14h-8zM587 606h11v7h-11zM598 620h4v14h-4zM602 648h20v7h-20zM622 704h4v7h-4zM626 732h8v7h-8zM634 767h5v14h-5zM732 138h4v7h-4zM736 173h15v14h-15zM751 201h5v7h-5zM773 243h3v7h-3zM776 250h7v7h-7zM783 257h5v7h-5zM788 271h15v7h-15zM803 299h9v7h-9zM820 75h7v7h-7zM820 320h7v14h-7zM827 82h12v7h-12zM827 348h12v7h-12zM839 96h5v14h-5zM839 355h5v7h-5zM844 117h12v7h-12zM844 362h12v7h-12zM868 145h5v14h-5zM868 376h5v7h-5zM873 166h11v7h-11zM873 383h11v7h-11zM884 173h4v7h-4zM888 180h16v7h-16zM904 194h4v7h-4zM908 201h5v7h-5zM913 208h8v7h-8zM921 222h16v14h-16zM937 243h17v7h-17zM954 459h11v7h-11zM977 264h3v7h-3zM997 285h5v7h-5zM997 494h5v7h-5zM1002 292h15v7h-15zM1017 89h8v7h-8zM1017 299h8v7h-8zM1025 96h8v14h-8zM1025 306h8v7h-8zM1033 313h12v7h-12z"/>
<path fill="#99ff66" d="M314 75h9v7h-9zM323 75h9v14h-9zM332 75h9v28h-9zM341 82h9v28h-9zM350 96h9v21h-9zM359 103h9v28h-9zM368 117h9v21h-9zM377 124h9v28h-9zM386 138h9v21h-9zM395 145h8v21h-8zM403 152h9v28h-9zM412 173h9v21h-9zM421 187h9v28h-9zM430 201h9v28h-9zM439 222h9v21h-9zM448 236h9v21h-9zM457 250h8v21h-8zM465 264h9v21h-9zM474 278h9v21h-9zM483 306h19v28h-19zM502 348h16v14h-16zM518 369h9v7h-9zM527 390h12v7h-12zM539 418h27v7h-27zM566 501h5v21h-5zM571 529h8v14h-8zM579 557h8v14h-8zM587 592h11v14h-11zM598 613h4v7h-4zM602 634h20v14h-20zM622 690h4v14h-4zM626 718h8v14h-8zM634 760h5v7h-5zM720 96h12v35h-12zM751 194h5v7h-5zM756 215h13v7h-13zM769 229h4v7h-4zM773 236h3v7h-3zM812 306h3v7h-3zM820 313h7v7h-7zM827 341h12v7h-12zM839 89h5v7h-5zM839 348h5v7h-5zM844 110h12v7h-12zM844 355h12v7h-12zM856 124h12v7h-12zM856 369h12v7h-12zM868 131h5v14h-5zM873 152h11v14h-11zM884 166h4v7h-4zM888 390h16v7h-16zM904 187h4v7h-4zM908 187h5v14h-5zM913 201h8v7h-8zM921 215h16v7h-16zM937 236h17v7h-17zM954 250h11v7h-11zM965 257h12v7h-12zM977 473h3v7h-3zM980 271h17v7h-17zM997 278h5v7h-5zM1002 75h15v7h-15zM1002 285h15v7h-15zM1002 501h15v7h-15zM1017 82h8v7h-8zM1025 89h8v7h-8zM1025 299h8v7h-8zM1033 110h12v7h-12z"/>
<path fill="#a6ff59" d="M341 75h9v7h-9zM350 75h9v21h-9zM359 82h9v21h-9zM368 89h9v28h-9zM377 103h9v21h-9zM386 110h9v28h-9zM395 117h8v28h-8zM403 131h9v21h-9zM412 145h9v28h-9zM421 159h9v28h-9zM430 173h9v28h-9zM439 194h9v28h-9zM448 208h9v28h-9zM457 229h8v21h-8zM465 243h9v21h-9zM474 257h9v21h-9zM483 285h19v21h-19zM502 334h16v14h-16zM518 355h9v14h-9zM527 376h12v14h-12zM539 411h27v7h-27zM566 480h5v21h-5zM571 515h8v14h-8zM579 543h8v14h-8zM587 578h11v14h-11zM598 606h4v7h-4zM602 627h20v7h-20zM622 683h4v7h-4zM626 711h8v7h-8zM634 746h5v14h-5zM732 131h4v7h-4zM736 166h15v7h-15zM751 187h5v7h-5zM803 292h9v7h-9zM812 299h3v7h-3zM815 306h5v7h-5zM827 75h12v7h-12zM827 327h12v14h-12zM839 82h5v7h-5zM839 341h5v7h-5zM844 96h12v14h-12zM856 117h12v7h-12zM856 362h12v7h-12zM873 138h11v14h-11zM873 376h11v7h-11zM884 159h4v7h-4zM888 173h16v7h-16zM904 180h4v7h-4zM904 404h4v7h-4zM908 411h5v7h-5zM913 194h8v7h-8zM921 208h16v7h-16zM937 229h17v7h-17zM937 438h17v7h-17zM954 243h11v7h-11zM954 452h11v7h-11zM965 466h12v7h-12zM977 257h3v7h-3zM980 264h17v7h-17zM980 480h17v7h-17zM997 271h5v7h-5zM997 487h5v7h-5zM1002 278h15v7h-15zM1002 494h15v7h-15zM1017 292h8v7h-8zM1017 508h8v7h-8zM1033 96h12v14h-12zM1033 306h12v7h-12zM1033 515h12v7h-12z"/>
<path fill="#b3ff4c" d="M359 75h9v7h-9zM368 75h9v14h-9zM377 75h9v28h-9zM386 82h9v28h-9zM395 96h8v21h-8zM403 103h9v28h-9zM412 117h9v28h-9zM421 131h9v28h-9zM430 145h9v28h-9zM439 166h9v28h-9zM448 180h9v28h-9zM457 201h8v28h-8zM465 222h9v21h-9zM474 236h9v21h-9zM483 264h19v21h-19zM502 306h16v28h-16zM518 348h9v7h-9zM527 369h12v7h-12zM539 397h27v14h-27zM566 452h5v28h-5zM571 501h8v14h-8zM579 529h8v14h-8zM587 564h11v14h-11zM598 592h4v14h-4zM602 620h20v7h-20zM622 669h4v14h-4zM626 697h8v14h-8zM634 732h5v14h-5zM736 145h15v21h-15zM756 208h13v7h-13zM769 222h4v7h-4zM773 229h3v7h-3zM776 243h7v7h-7zM788 264h15v7h-15zM803 285h9v7h-9zM827 313h12v14h-12zM839 334h5v7h-5zM844 89h12v7h-12zM844 348h12v7h-12zM868 124h5v7h-5zM868 369h5v7h-5zM873 131h11v7h-11zM884 152h4v7h-4zM884 383h4v7h-4zM888 166h16v7h-16zM908 180h5v7h-5zM913 187h8v7h-8zM913 418h8v7h-8zM921 201h16v7h-16zM937 222h17v7h-17zM954 236h11v7h-11zM965 250h12v7h-12zM980 257h17v7h-17zM997 264h5v7h-5zM1002 271h15v7h-15zM1017 75h8v7h-8zM1017 285h8v7h-8zM1025 82h8v7h-8zM1025 292h8v7h-8zM1033 89h12v7h-12zM1033 299h12v7h-12z"/>
<path fill="#bfff40" d="M386 75h9v7h-9zM395 75h8v21h-8zM403 82h9v21h-9zM412 96h9v21h-9zM421 103h9v28h-9zM430 124h9v21h-9zM439 138h9v28h-9zM448 152h9v28h-9zM457 173h8v28h-8zM465 194h9v28h-9zM474 208h9v28h-9zM483 236h19v28h-19zM502 285h16v21h-16zM518 327h9v21h-9zM527 355h12v14h-12zM539 390h27v7h-27zM566 431h5v21h-5zM571 480h8v21h-8zM579 515h8v14h-8zM587 550h11v14h-11zM598 571h4v21h-4zM602 613h20v7h-20zM622 655h4v14h-4zM626 690h8v7h-8zM634 718h5v14h-5zM639 774h11v7h-11zM732 117h4v14h-4zM736 138h15v7h-15zM751 173h5v14h-5zM756 201h13v7h-13zM776 236h7v7h-7zM783 250h5v7h-5zM803 278h9v7h-9zM812 292h3v7h-3zM815 299h5v7h-5zM820 306h7v7h-7zM839 75h5v7h-5zM839 320h5v14h-5zM844 82h12v7h-12zM856 103h12v14h-12zM856 355h12v7h-12zM868 117h5v7h-5zM873 124h11v7h-11zM884 131h4v21h-4zM888 159h16v7h-16zM904 173h4v7h-4zM904 397h4v7h-4zM913 180h8v7h-8zM921 194h16v7h-16zM937 215h17v7h-17zM954 229h11v7h-11zM965 243h12v7h-12zM965 459h12v7h-12zM977 250h3v7h-3zM980 473h17v7h-17zM1002 487h15v7h-15zM1017 278h8v7h-8zM1017 501h8v7h-8zM1025 285h8v7h-8zM1025 508h8v7h-8zM1033 292h12v7h-12z"/>
<path fill="#ccff33" d="M403 75h9v7h-9zM412 75h9v21h-9zM421 82h9v21h-9zM430 96h9v28h-9zM439 110h9v28h-9zM448 124h9v28h-9zM457 145h8v28h-8zM465 166h9v28h-9zM474 187h9v21h-9zM483 215h19v21h-19zM502 257h16v28h-16zM518 306h9v21h-9zM527 341h12v14h-12zM539 376h27v14h-27zM566 418h5v13h-5zM571 466h8v14h-8zM579 501h8v14h-8zM587 529h11v21h-11zM598 557h4v14h-4zM602 599h20v14h-20zM622 648h4v7h-4zM626 676h8v14h-8zM634 711h5v7h-5zM639 760h11v14h-11zM751 166h5v7h-5zM756 194h13v7h-13zM769 215h4v7h-4zM773 222h3v7h-3zM803 271h9v7h-9zM812 285h3v7h-3zM815 292h5v7h-5zM856 89h12v14h-12zM868 110h5v7h-5zM873 117h11v7h-11zM888 145h16v14h-16zM904 166h4v7h-4zM908 173h5v7h-5zM908 404h5v7h-5zM921 187h16v7h-16zM921 425h16v6h-16zM937 208h17v7h-17zM954 222h11v7h-11zM954 445h11v7h-11zM965 236h12v7h-12zM977 243h3v7h-3zM977 466h3v7h-3zM980 250h17v7h-17zM997 257h5v7h-5zM997 480h5v7h-5zM1002 264h15v7h-15zM1017 271h8v7h-8zM1017 494h8v7h-8zM1025 75h8v7h-8zM1025 278h8v7h-8zM1025 501h8v7h-8zM1033 82h12v7h-12zM1033 285h12v7h-12zM1033 508h12v7h-12z"/>
<path fill="#d9ff26" d="M421 75h9v7h-9zM430 75h9v21h-9zM439 82h9v28h-9zM448 96h9v28h-9zM457 117h8v28h-8zM465 131h9v35h-9zM474 152h9v35h-9zM483 194h19v21h-19zM502 243h16v14h-16zM518 278h9v28h-9zM527 320h12v21h-12zM539 369h27v7h-27zM566 404h5v14h-5zM571 452h8v14h-8zM579 487h8v14h-8zM587 515h11v14h-11zM598 543h4v14h-4zM602 592h20v7h-20zM622 634h4v14h-4zM626 662h8v14h-8zM634 697h5v14h-5zM639 746h11v14h-11zM751 152h5v14h-5zM756 187h13v7h-13zM769 208h4v7h-4zM773 215h3v7h-3zM776 229h7v7h-7zM783 236h5v14h-5zM868 103h5v7h-5zM884 117h4v14h-4zM888 131h16v14h-16zM904 159h4v7h-4zM908 166h5v7h-5zM913 173h8v7h-8zM921 180h16v7h-16zM937 194h17v14h-17zM954 215h11v7h-11zM965 222h12v14h-12zM977 236h3v7h-3zM980 243h17v7h-17zM997 250h5v7h-5zM1002 257h15v7h-15zM1017 264h8v7h-8zM1025 271h8v7h-8zM1033 278h12v7h-12z"/>
<path fill="#e5ff1a" d="M439 75h9v7h-9zM448 75h9v21h-9zM457 82h8v35h-8zM465 103h9v28h-9zM474 124h9v28h-9zM483 173h19v21h-19zM502 222h16v21h-16zM518 257h9v21h-9zM527 299h12v21h-12zM539 362h27v7h-27zM566 390h5v14h-5zM571 438h8v14h-8zM579 480h8v7h-8zM587 508h11v7h-11zM598 529h4v14h-4zM602 578h20v14h-20zM622 620h4v14h-4zM626 655h8v7h-8zM634 683h5v14h-5zM639 732h11v14h-11zM650 774h10v7h-10zM756 173h13v14h-13zM769 201h4v7h-4zM773 208h3v7h-3zM776 222h7v7h-7zM904 138h4v21h-4zM908 159h5v7h-5zM913 166h8v7h-8zM921 173h16v7h-16zM937 187h17v7h-17zM954 201h11v14h-11zM965 215h12v7h-12zM977 222h3v14h-3zM980 236h17v7h-17zM997 243h5v7h-5zM1002 250h15v7h-15zM1017 257h8v7h-8zM1025 264h8v7h-8zM1033 271h12v7h-12z"/>
<path fill="#f2ff0d" d="M457 75h8v7h-8zM465 75h9v28h-9zM474 96h9v28h-9zM483 152h19v21h-19zM502 208h16v14h-16zM518 243h9v14h-9zM527 271h12v28h-12zM539 348h27v14h-27zM566 383h5v7h-5zM571 425h8v13h-8zM579 466h8v14h-8zM587 494h11v14h-11zM598 515h4v14h-4zM602 564h20v14h-20zM622 613h4v7h-4zM626 641h8v14h-8zM634 676h5v7h-5zM639 718h11v14h-11zM650 760h10v14h-10zM769 187h4v14h-4zM913 159h8v7h-8zM954 194h11v7h-11zM965 208h12v7h-12zM980 222h17v14h-17zM1002 243h15v7h-15zM1017 250h8v7h-8zM1025 257h8v7h-8zM1033 75h12v7h-12zM1033 264h12v7h-12z"/>
<path fill="#ffff00" d="M474 75h9v21h-9zM483 131h19v21h-19zM502 187h16v21h-16zM518 222h9v21h-9zM527 250h12v21h-12zM539 334h27v14h-27zM566 369h5v14h-5zM571 411h8v14h-8zM579 452h8v14h-8zM587 480h11v14h-11zM598 501h4v14h-4zM602 557h20v7h-20zM622 599h4v14h-4zM626 634h8v7h-8zM634 662h5v14h-5zM639 704h11v14h-11zM650 753h10v7h-10zM769 180h4v7h-4z"/>
<path fill="#fff200" d="M483 110h19v21h-19zM502 173h16v14h-16zM518 208h9v14h-9zM527 236h12v14h-12zM539 313h27v21h-27zM566 355h5v14h-5zM571 397h8v14h-8zM579 438h8v14h-8zM587 473h11v7h-11zM598 494h4v7h-4zM602 543h20v14h-20zM622 592h4v7h-4zM626 620h8v14h-8zM634 655h5v7h-5zM639 690h11v14h-11zM650 746h10v7h-10zM660 774h10v7h-10z"/>
<path fill="#ffe500" d="M483 89h19v21h-19zM502 152h16v21h-16zM518 194h9v14h-9zM527 222h12v14h-12zM539 292h27v21h-27zM566 341h5v14h-5zM571 383h8v14h-8zM579 425h8v13h-8zM587 459h11v14h-11zM598 480h4v14h-4zM602 529h20v14h-20zM622 585h4v7h-4zM626 606h8v14h-8zM634 648h5v7h-5zM639 683h11v7h-11zM650 732h10v14h-10zM660 760h10v14h-10z"/>
<path fill="#ffd900" d="M483 75h19v14h-19zM502 138h16v14h-16zM518 173h9v21h-9zM527 208h12v14h-12zM539 264h27v28h-27zM566 334h5v7h-5zM571 369h8v14h-8zM579 411h8v14h-8zM587 445h11v14h-11zM598 473h4v7h-4zM602 522h20v7h-20zM622 571h4v14h-4zM626 599h8v7h-8zM634 634h5v14h-5zM639 669h11v14h-11zM650 725h10v7h-10zM660 753h10v7h-10zM670 774h5v7h-5z"/>
<path fill="#ffcc00" d="M502 117h16v21h-16zM518 159h9v14h-9zM527 194h12v14h-12zM539 250h27v14h-27zM566 320h5v14h-5zM571 355h8v14h-8zM579 397h8v14h-8zM587 438h11v7h-11zM598 466h4v7h-4zM602 508h20v14h-20zM622 564h4v7h-4zM626 592h8v7h-8zM634 627h5v7h-5zM639 662h11v7h-11zM650 711h10v14h-10zM660 746h10v7h-10zM670 767h5v7h-5z"/>
<path fill="#ffbf00" d="M502 103h16v14h-16zM518 138h9v21h-9zM527 173h12v21h-12zM539 236h27v14h-27zM566 306h5v14h-5zM571 341h8v14h-8zM579 383h8v14h-8zM587 425h11v13h-11zM598 452h4v14h-4zM602 494h20v14h-20zM622 557h4v7h-4zM626 585h8v7h-8zM634 613h5v14h-5zM639 648h11v14h-11zM650 704h10v7h-10zM660 739h10v7h-10zM670 760h5v7h-5z"/>
<path fill="#ffb300" d="M502 82h16v21h-16zM518 117h9v21h-9zM527 152h12v21h-12zM539 222h27v14h-27zM566 299h5v7h-5zM571 327h8v14h-8zM579 369h8v14h-8zM587 411h11v14h-11zM598 445h4v7h-4zM602 480h20v14h-20zM622 550h4v7h-4zM626 571h8v14h-8zM634 606h5v7h-5zM639 641h11v7h-11zM650 690h10v14h-10zM660 732h10v7h-10zM670 753h5v7h-5z"/>
<path fill="#ffa600" d="M502 75h16v7h-16zM518 96h9v21h-9zM527 131h12v21h-12zM539 208h27v14h-27zM566 285h5v14h-5zM571 313h8v14h-8zM579 362h8v7h-8zM587 404h11v7h-11zM598 431h4v14h-4zM602 473h20v7h-20zM622 536h4v14h-4zM626 564h8v7h-8zM634 592h5v14h-5zM639 634h11v7h-11zM650 683h10v7h-10zM660 718h10v14h-10zM670 746h5v7h-5zM675 774h16v7h-16z"/>
<path fill="#ff9900" d="M518 75h9v21h-9zM527 110h12v21h-12zM539 194h27v14h-27zM566 271h5v14h-5zM571 299h8v14h-8zM579 348h8v14h-8zM587 390h11v14h-11zM598 425h4v6h-4zM602 459h20v14h-20zM622 529h4v7h-4zM626 557h8v7h-8zM634 585h5v7h-5zM639 620h11v14h-11zM650 669h10v14h-10zM660 711h10v7h-10zM670 739h5v7h-5zM675 767h16v7h-16z"/>
<path fill="#ff8c00" d="M527 89h12v21h-12zM539 173h27v21h-27zM566 257h5v14h-5zM571 285h8v14h-8zM579 327h8v21h-8zM587 383h11v7h-11zM598 411h4v14h-4zM602 445h20v14h-20zM622 522h4v7h-4zM626 550h8v7h-8zM634 578h5v7h-5zM639 613h11v7h-11zM650 662h10v7h-10zM660 704h10v7h-10zM670 732h5v7h-5zM675 760h16v7h-16z"/>
<path fill="#ff8000" d="M527 75h12v14h-12zM539 152h27v21h-27zM566 243h5v14h-5zM571 271h8v14h-8zM579 313h8v14h-8zM587 369h11v14h-11zM598 404h4v7h-4zM602 438h20v7h-20zM622 508h4v14h-4zM626 543h8v7h-8zM634 571h5v7h-5zM639 599h11v14h-11zM650 648h10v14h-10zM660 697h10v7h-10zM670 718h5v14h-5zM675 746h16v14h-16z"/>
<path fill="#ff7300" d="M539 131h27v21h-27zM566 229h5v14h-5zM571 257h8v14h-8zM579 292h8v21h-8zM587 355h11v14h-11zM598 390h4v14h-4zM602 425h20v13h-20zM622 480h4v28h-4zM626 529h8v14h-8zM634 557h5v14h-5zM639 592h11v7h-11zM650 641h10v7h-10zM660 690h10v7h-10zM670 711h5v7h-5zM675 739h16v7h-16zM691 774h12v7h-12z"/>
<path fill="#ff6600" d="M539 110h27v21h-27zM566 215h5v14h-5zM571 243h8v14h-8zM579 278h8v14h-8zM587 348h11v7h-11zM598 383h4v7h-4zM602 411h20v14h-20zM622 459h4v21h-4zM626 522h8v7h-8zM634 550h5v7h-5zM639 578h11v14h-11zM650 627h10v14h-10zM660 676h10v14h-10zM670 704h5v7h-5zM675 732h16v7h-16zM691 767h12v7h-12z"/>
<path fill="#ff5900" d="M539 89h27v21h-27zM566 201h5v14h-5zM571 236h8v7h-8zM579 257h8v21h-8zM587 334h11v14h-11zM598 369h4v14h-4zM602 404h20v7h-20zM622 438h4v21h-4zM626 515h8v7h-8zM634 543h5v7h-5zM639 571h11v7h-11zM650 613h10v14h-10zM660 662h10v14h-10zM670 697h5v7h-5zM675 725h16v7h-16zM691 753h12v14h-12zM703 774h4v7h-4z"/>
<path fill="#ff4c00" d="M539 75h27v14h-27zM566 187h5v14h-5zM571 229h8v7h-8zM579 250h8v7h-8zM587 313h11v21h-11zM598 355h4v14h-4zM602 390h20v14h-20zM622 425h4v13h-4zM626 494h8v21h-8zM634 529h5v14h-5zM639 557h11v14h-11zM650 606h10v7h-10zM660 648h10v14h-10zM670 690h5v7h-5zM675 718h16v7h-16zM691 746h12v7h-12zM703 767h4v7h-4z"/>
<path fill="#ff4000" d="M566 166h5v21h-5zM571 222h8v7h-8zM579 236h8v14h-8zM587 292h11v21h-11zM598 348h4v7h-4zM602 383h20v7h-20zM622 411h4v14h-4zM626 473h8v21h-8zM634 522h5v7h-5zM639 543h11v14h-11zM650 592h10v14h-10zM660 634h10v14h-10zM670 669h5v21h-5zM675 704h16v14h-16zM691 739h12v7h-12zM703 753h4v14h-4zM707 774h13v7h-13z"/>
<path fill="#ff3300" d="M566 145h5v21h-5zM571 208h8v14h-8zM579 229h8v7h-8zM587 271h11v21h-11zM598 334h4v14h-4zM602 369h20v14h-20zM622 404h4v7h-4zM626 452h8v21h-8zM634 508h5v14h-5zM639 536h11v7h-11zM650 578h10v14h-10zM660 620h10v14h-10zM670 655h5v14h-5zM675 697h16v7h-16zM691 725h12v14h-12zM703 746h4v7h-4zM707 767h13v7h-13z"/>
<path fill="#ff2600" d="M566 131h5v14h-5zM571 201h8v7h-8zM579 222h8v7h-8zM587 250h11v21h-11zM598 313h4v21h-4zM602 362h20v7h-20zM622 397h4v7h-4zM626 431h8v21h-8zM634 494h5v14h-5zM639 522h11v14h-11zM650 564h10v14h-10zM660 606h10v14h-10zM670 641h5v14h-5zM675 690h16v7h-16zM691 718h12v7h-12zM703 732h4v14h-4zM707 753h13v14h-13z"/>
<path fill="#ff1a00" d="M566 110h5v21h-5zM571 187h8v14h-8zM579 208h8v14h-8zM587 243h11v7h-11zM598 292h4v21h-4zM602 348h20v14h-20zM622 383h4v14h-4zM626 418h8v13h-8zM634 480h5v14h-5zM639 515h11v7h-11zM650 550h10v14h-10zM660 592h10v14h-10zM670 627h5v14h-5zM675 669h16v21h-16zM691 711h12v7h-12zM703 725h4v7h-4zM707 739h13v14h-13zM720 774h12v7h-12zM773 634h3v7h-3z"/>
<path fill="#ff0d00" d="M566 89h5v21h-5zM571 159h8v28h-8zM579 201h8v7h-8zM587 236h11v7h-11zM598 264h4v28h-4zM602 334h20v14h-20zM622 376h4v7h-4zM626 404h8v14h-8zM634 466h5v14h-5zM639 501h11v14h-11zM650 536h10v14h-10zM660 571h10v21h-10zM670 606h5v21h-5zM675 655h16v14h-16zM691 697h12v14h-12zM703 711h4v14h-4zM707 732h13v7h-13zM720 760h12v14h-12zM783 655h5v7h-5zM815 690h5v7h-5zM839 718h5v7h-5zM844 732h12v7h-12zM856 739h12v7h-12zM868 746h5v7h-5zM873 753h11v7h-11zM884 760h4v7h-4zM904 767h4v7h-4zM913 774h8v7h-8z"/>
<path fill="#ff0000" d="M566 75h5v14h-5zM571 138h8v21h-8zM579 187h8v14h-8zM587 229h11v7h-11zM598 250h4v14h-4zM602 313h20v21h-20zM622 362h4v14h-4zM626 390h8v14h-8zM634 452h5v14h-5zM639 487h11v14h-11zM650 522h10v14h-10zM660 550h10v21h-10zM670 585h5v21h-5zM675 634h16v21h-16zM691 690h12v7h-12zM703 704h4v7h-4zM707 718h13v14h-13zM720 557h12v7h-12zM720 746h12v14h-12zM732 767h4v14h-4zM736 585h15v7h-15zM751 599h5v7h-5zM756 606h13v7h-13zM776 641h7v7h-7zM788 669h15v7h-15zM803 676h9v7h-9zM812 683h3v7h-3zM820 697h7v7h-7zM827 704h12v7h-12zM888 760h16v7h-16zM908 767h5v7h-5z"/>
<path fill="#f20000" d="M571 110h8v28h-8zM579 173h8v14h-8zM587 222h11v7h-11zM598 243h4v7h-4zM602 292h20v21h-20zM622 355h4v7h-4zM626 383h8v7h-8zM634 438h5v14h-5zM639 480h11v7h-11zM650 508h10v14h-10zM660 536h10v14h-10zM670 564h5v21h-5zM675 613h16v21h-16zM691 669h12v21h-12zM703 487h4v7h-4zM703 690h4v14h-4zM707 508h13v7h-13zM707 704h13v14h-13zM720 732h12v14h-12zM732 753h4v14h-4zM736 774h15v7h-15zM769 620h4v7h-4zM773 627h3v7h-3zM839 711h5v7h-5zM844 725h12v7h-12zM856 732h12v7h-12zM868 739h5v7h-5zM884 753h4v7h-4zM904 760h4v7h-4zM913 767h8v7h-8zM921 774h16v7h-16z"/>
<path fill="#e50000" d="M571 89h8v21h-8zM579 152h8v21h-8zM587 215h11v7h-11zM598 236h4v7h-4zM602 271h20v21h-20zM622 341h4v14h-4zM626 369h8v14h-8zM634 418h5v20h-5zM639 466h11v14h-11zM650 494h10v14h-10zM660 515h10v21h-10zM670 543h5v21h-5zM675 592h16v21h-16zM691 648h12v21h-12zM703 676h4v14h-4zM707 697h13v7h-13zM720 718h12v14h-12zM732 564h4v7h-4zM732 739h4v14h-4zM736 760h15v14h-15zM751 774h5v7h-5zM783 648h5v7h-5zM788 662h15v7h-15zM803 669h9v7h-9zM812 676h3v7h-3zM815 683h5v7h-5zM827 697h12v7h-12zM873 746h11v7h-11zM888 753h16v7h-16zM908 760h5v7h-5z"/>
<path fill="#d90000" d="M571 75h8v14h-8zM579 138h8v14h-8zM587 208h11v7h-11zM598 222h4v14h-4zM602 250h20v21h-20zM622 320h4v21h-4zM626 355h8v14h-8zM634 404h5v14h-5zM639 459h11v7h-11zM650 487h10v7h-10zM660 508h10v7h-10zM670 522h5v21h-5zM675 571h16v21h-16zM691 466h12v7h-12zM691 634h12v14h-12zM703 655h4v21h-4zM707 676h13v21h-13zM720 711h12v7h-12zM732 725h4v14h-4zM736 578h15v7h-15zM736 746h15v14h-15zM751 592h5v7h-5zM751 760h5v14h-5zM756 599h13v7h-13zM769 613h4v7h-4zM776 634h7v7h-7zM783 641h5v7h-5zM815 676h5v7h-5zM820 690h7v7h-7zM839 704h5v7h-5zM844 718h12v7h-12zM856 725h12v7h-12zM868 732h5v7h-5zM873 739h11v7h-11zM884 746h20v7h-20zM904 753h9v7h-9zM913 760h8v7h-8zM921 767h16v7h-16zM937 774h17v7h-17z"/>
<path fill="#cc0000" d="M579 117h8v21h-8zM587 194h11v14h-11zM598 215h4v7h-4zM602 243h20v7h-20zM622 292h4v28h-4zM626 341h8v14h-8zM634 383h5v21h-5zM639 445h11v14h-11zM650 473h10v14h-10zM660 494h10v14h-10zM670 508h5v14h-5zM675 543h16v28h-16zM691 613h12v21h-12zM703 634h4v21h-4zM707 662h13v14h-13zM720 550h12v7h-12zM720 697h12v14h-12zM732 557h4v7h-4zM732 711h4v14h-4zM736 732h15v14h-15zM751 746h5v14h-5zM756 760h13v21h-13zM773 620h3v7h-3zM776 627h7v7h-7zM788 655h15v7h-15zM803 662h9v7h-9zM812 669h3v7h-3zM820 683h7v7h-7zM827 690h12v7h-12zM839 697h5v7h-5zM844 711h12v7h-12zM856 718h12v7h-12zM868 725h5v7h-5zM884 739h4v7h-4zM904 746h4v7h-4zM913 753h8v7h-8zM921 760h16v7h-16z"/>
<path fill="#bf0000" d="M579 103h8v14h-8zM587 173h11v21h-11zM598 208h4v7h-4zM602 229h20v14h-20zM622 264h4v28h-4zM626 306h8v35h-8zM634 362h5v21h-5zM639 431h11v14h-11zM650 459h10v14h-10zM660 480h10v14h-10zM670 494h5v14h-5zM675 515h16v28h-16zM691 592h12v21h-12zM703 620h4v14h-4zM707 501h13v7h-13zM707 641h13v21h-13zM720 683h12v14h-12zM732 697h4v14h-4zM736 571h15v7h-15zM736 718h15v14h-15zM751 585h5v7h-5zM751 732h5v14h-5zM756 592h13v7h-13zM756 746h13v14h-13zM769 606h4v7h-4zM769 774h4v7h-4zM773 613h3v7h-3zM783 634h5v7h-5zM803 655h9v7h-9zM812 662h3v7h-3zM815 669h5v7h-5zM827 683h12v7h-12zM873 732h15v7h-15zM888 739h16v7h-16zM908 746h13v7h-13zM921 753h16v7h-16zM937 767h17v7h-17zM954 774h11v7h-11z"/>
<path fill="#b30000" d="M579 82h8v21h-8zM587 152h11v21h-11zM598 201h4v7h-4zM602 215h20v14h-20zM622 243h4v21h-4zM626 271h8v35h-8zM634 348h5v14h-5zM639 411h11v20h-11zM650 208h10v49h-10zM650 452h10v7h-10zM660 299h10v21h-10zM660 473h10v7h-10zM670 487h5v7h-5zM675 508h16v7h-16zM691 564h12v28h-12zM703 480h4v7h-4zM703 599h4v21h-4zM707 620h13v21h-13zM720 662h12v21h-12zM732 683h4v14h-4zM736 704h15v14h-15zM751 718h5v14h-5zM756 732h13v14h-13zM769 753h4v21h-4zM773 767h3v14h-3zM776 620h7v7h-7zM788 648h15v7h-15zM820 676h7v7h-7zM839 690h5v7h-5zM844 704h12v7h-12zM856 711h12v7h-12zM868 718h5v7h-5zM873 725h11v7h-11zM888 732h16v7h-16zM904 739h9v7h-9zM937 760h17v7h-17zM954 767h11v7h-11zM965 774h15v7h-15z"/>
<path fill="#a60000" d="M579 75h8v7h-8zM587 131h11v21h-11zM598 173h4v28h-4zM602 208h20v7h-20zM622 236h4v7h-4zM626 243h8v28h-8zM634 306h5v42h-5zM639 383h11v28h-11zM650 438h10v14h-10zM660 459h10v14h-10zM670 473h5v14h-5zM675 494h16v14h-16zM691 543h12v21h-12zM703 578h4v21h-4zM707 606h13v14h-13zM720 543h12v7h-12zM720 648h12v14h-12zM732 550h4v7h-4zM732 669h4v14h-4zM736 690h15v14h-15zM751 704h5v14h-5zM756 585h13v7h-13zM756 718h13v14h-13zM769 599h4v7h-4zM769 739h4v14h-4zM773 606h3v7h-3zM773 746h3v21h-3zM776 760h7v21h-7zM783 627h5v7h-5zM783 774h5v7h-5zM788 641h15v7h-15zM803 648h9v7h-9zM812 655h3v7h-3zM815 662h5v7h-5zM820 669h7v7h-7zM827 676h12v7h-12zM839 683h5v7h-5zM844 697h12v7h-12zM856 704h12v7h-12zM868 711h5v7h-5zM873 718h11v7h-11zM884 725h20v7h-20zM904 732h9v7h-9zM913 739h8v7h-8zM921 746h16v7h-16zM937 753h17v7h-17zM954 760h11v7h-11zM965 767h12v7h-12z"/>
<path fill="#990000" d="M587 110h11v21h-11zM598 152h4v21h-4zM602 194h20v14h-20zM622 222h4v14h-4zM639 355h11v28h-11zM650 425h10v13h-10zM660 452h10v7h-10zM670 466h5v7h-5zM675 480h16v14h-16zM691 536h12v7h-12zM703 564h4v14h-4zM707 585h13v21h-13zM732 662h4v7h-4zM736 676h15v14h-15zM751 578h5v7h-5zM751 690h5v14h-5zM756 704h13v14h-13zM769 718h4v21h-4zM773 732h3v14h-3zM776 746h7v14h-7zM783 753h5v21h-5zM788 774h15v7h-15z"/>
<path fill="#8c0000" d="M587 89h11v21h-11zM598 131h4v21h-4zM602 173h20v21h-20zM622 208h4v14h-4zM639 341h11v14h-11zM650 397h10v28h-10zM660 438h10v14h-10zM670 452h5v14h-5zM675 473h16v7h-16zM756 697h13v7h-13zM769 704h4v14h-4zM773 725h3v7h-3zM776 739h7v7h-7zM783 746h5v7h-5zM788 760h15v14h-15zM803 774h9v7h-9z"/>
<path fill="#800000" d="M650 369h10v28h-10zM660 390h10v48h-10zM670 438h5v14h-5zM803 767h9v7h-9zM812 774h3v7h-3z"/></g>
<g shape-rendering="crispEdges"><path fill="#000080" d="M1827 72h11v105h-11zM1907 79h12v21h-12zM1919 100h4v21h-4zM1923 128h15v14h-15zM1938 149h5v14h-5zM1943 163h12v21h-12zM1955 184h4v21h-4zM1959 198h3v14h-3zM1962 212h8v14h-8zM1970 226h4v7h-4zM1974 240h16v7h-16zM1990 254h8v14h-8zM1998 268h4v7h-4zM2002 268h4v14h-4zM2006 282h8v7h-8zM2014 296h11v7h-11zM2025 310h5v7h-5zM2030 324h12v7h-12zM2042 79h12v7h-12zM2042 338h12v7h-12zM2054 86h5v14h-5zM2054 352h5v7h-5zM2059 100h11v7h-11zM2059 359h11v7h-11zM2070 107h4v14h-4zM2070 366h4v7h-4zM2074 121h15v7h-15zM2074 373h15v14h-15zM2089 128h4v7h-4zM2089 387h4v14h-4zM2093 128h5v14h-5zM2093 394h5v7h-5zM2098 135h8v7h-8zM2098 401h8v14h-8zM2106 142h16v14h-16zM2106 415h16v14h-16zM2122 156h17v14h-17zM2122 429h17v7h-17zM2139 170h11v21h-11zM2139 443h11v7h-11zM2150 184h12v14h-12zM2150 450h12v7h-12zM2162 191h3v21h-3zM2162 457h3v7h-3zM2165 205h17v14h-17zM2165 464h17v7h-17zM2182 212h5v21h-5zM2182 471h5v7h-5zM2187 226h14v21h-14zM2187 478h14v7h-14zM2201 240h9v14h-9zM2201 485h9v7h-9zM2210 247h8v14h-8zM2210 492h8v7h-8zM2218 254h12v14h-12zM2218 499h12v7h-12z"/>
<path fill="#00008c" d="M1907 72h12v7h-12zM1907 100h12v21h-12zM1919 86h4v14h-4zM1919 121h4v21h-4zM1923 114h15v14h-15zM1923 142h15v14h-15zM1938 135h5v14h-5zM1938 163h5v14h-5zM1943 149h12v14h-12zM1943 184h12v14h-12zM1955 163h4v21h-4zM1955 205h4v21h-4zM1959 177h3v21h-3zM1959 212h3v14h-3zM1962 191h8v21h-8zM1962 226h8v7h-8zM1970 212h4v14h-4zM1970 233h20v7h-20zM1974 247h24v7h-24zM1990 268h8v7h-8zM1998 254h4v14h-4zM1998 275h4v7h-4zM2002 261h4v7h-4zM2002 282h4v7h-4zM2006 275h8v7h-8zM2006 289h8v14h-8zM2014 289h11v7h-11zM2014 303h11v14h-11zM2025 303h5v7h-5zM2025 317h5v14h-5zM2030 317h12v7h-12zM2030 331h24v7h-24zM2042 72h12v7h-12zM2042 86h12v7h-12zM2042 345h17v7h-17zM2054 79h5v7h-5zM2054 100h5v7h-5zM2054 359h5v7h-5zM2059 86h11v14h-11zM2059 107h11v14h-11zM2059 352h11v7h-11zM2059 366h11v7h-11zM2070 100h4v7h-4zM2070 121h4v7h-4zM2070 359h4v7h-4zM2070 373h4v7h-4zM2074 107h15v14h-15zM2074 128h15v7h-15zM2074 366h15v7h-15zM2074 387h15v7h-15zM2089 121h9v7h-9zM2089 135h4v7h-4zM2089 380h4v7h-4zM2089 401h4v7h-4zM2093 142h5v7h-5zM2093 387h5v7h-5zM2093 401h5v14h-5zM2098 128h8v7h-8zM2098 142h8v14h-8zM2098 394h8v7h-8zM2098 415h8v7h-8zM2106 135h16v7h-16zM2106 156h16v7h-16zM2106 408h16v7h-16zM2122 149h17v7h-17zM2122 170h17v14h-17zM2122 422h17v7h-17zM2122 436h28v7h-28zM2139 156h11v14h-11zM2139 191h11v7h-11zM2139 450h11v7h-11zM2150 170h12v14h-12zM2150 198h12v14h-12zM2150 443h12v7h-12zM2150 457h12v7h-12zM2162 177h3v14h-3zM2162 212h3v7h-3zM2162 450h3v7h-3zM2162 464h3v7h-3zM2165 184h17v21h-17zM2165 219h17v14h-17zM2165 457h17v7h-17zM2165 471h17v7h-17zM2182 198h5v14h-5zM2182 233h5v14h-5zM2182 464h5v7h-5zM2182 478h5v7h-5zM2187 205h14v21h-14zM2187 247h14v7h-14zM2187 471h14v7h-14zM2187 485h14v7h-14zM2201 219h9v21h-9zM2201 254h9v7h-9zM2201 492h9v7h-9zM2210 226h8v21h-8zM2210 261h8v7h-8zM2210 485h8v7h-8zM2210 499h8v7h-8zM2218 240h12v14h-12zM2218 268h12v7h-12zM2218 506h12v7h-12z"/>
<path fill="#000099" d="M1895 72h12v7h-12zM1907 121h12v7h-12zM1907 562h12v7h-12zM1919 79h4v7h-4zM1923 107h15v7h-15zM1923 156h15v7h-15zM1938 177h5v7h-5zM1943 198h12v7h-12zM1959 170h3v7h-3zM1959 226h3v7h-3zM1962 184h8v7h-8zM1970 198h4v14h-4zM1970 240h4v7h-4zM1974 226h16v7h-16zM1990 240h8v7h-8zM1998 247h4v7h-4zM1998 282h4v7h-4zM2002 254h4v7h-4zM2006 268h8v7h-8zM2014 282h11v7h-11zM2025 296h5v7h-5zM2025 722h5v7h-5zM2030 72h12v7h-12zM2030 310h12v7h-12zM2030 338h12v7h-12zM2030 736h12v7h-12zM2042 93h12v7h-12zM2042 324h12v7h-12zM2054 107h5v7h-5zM2054 338h5v7h-5zM2059 345h11v7h-11zM2070 93h4v7h-4zM2070 352h4v7h-4zM2070 764h4v7h-4zM2089 114h4v7h-4zM2089 142h4v7h-4zM2089 373h4v7h-4zM2093 149h5v7h-5zM2093 380h5v7h-5zM2098 156h8v7h-8zM2098 387h8v7h-8zM2106 163h16v14h-16zM2106 401h16v7h-16zM2106 429h16v7h-16zM2122 184h17v7h-17zM2122 415h17v7h-17zM2139 198h11v14h-11zM2139 429h11v7h-11zM2150 163h12v7h-12zM2150 212h12v14h-12zM2162 219h3v14h-3zM2165 233h17v7h-17zM2182 247h5v7h-5zM2187 254h14v7h-14zM2201 212h9v7h-9zM2201 261h9v7h-9zM2201 478h9v7h-9zM2210 268h8v7h-8zM2218 233h12v7h-12zM2218 275h12v7h-12zM2218 492h12v7h-12z"/>
<path fill="#0000a6" d="M1895 513h12v7h-12zM1919 72h4v7h-4zM1962 233h8v7h-8zM1970 659h4v7h-4zM1974 254h16v7h-16zM2002 289h4v7h-4zM2006 261h8v7h-8zM2042 352h12v7h-12zM2042 743h12v7h-12zM2054 72h5v7h-5zM2070 380h4v7h-4zM2074 135h15v7h-15zM2089 149h4v7h-4zM2098 121h8v7h-8zM2122 142h17v7h-17zM2150 436h12v7h-12zM2162 443h3v7h-3zM2165 240h17v7h-17zM2165 450h17v7h-17zM2182 191h5v7h-5zM2182 457h5v7h-5zM2187 198h14v7h-14zM2187 464h14v7h-14zM2201 268h9v7h-9zM2210 219h8v7h-8zM2210 275h8v7h-8zM2218 282h12v7h-12z"/>
<path fill="#0000b2" d="M1879 471h12v7h-12zM1895 79h12v7h-12zM1923 590h15v7h-15zM1938 128h5v7h-5zM1938 604h5v7h-5zM1943 611h12v7h-12zM2014 275h11v7h-11zM2025 289h5v7h-5zM2030 79h12v7h-12zM2030 303h12v7h-12zM2054 750h5v7h-5zM2059 121h11v7h-11zM2070 128h4v7h-4zM2074 394h15v7h-15zM2093 156h5v7h-5zM2098 163h8v7h-8zM2122 191h17v7h-17zM2162 170h3v7h-3zM2201 471h9v7h-9zM2210 478h8v7h-8zM2218 485h12v7h-12z"/>
<path fill="#0000bf" d="M1827 177h11v7h-11zM1990 275h8v7h-8zM1998 687h4v7h-4zM2002 694h4v7h-4zM2042 100h12v7h-12zM2054 114h5v7h-5zM2074 100h15v7h-15zM2074 142h15v7h-15zM2074 359h15v7h-15zM2089 771h4v7h-4zM2093 373h5v7h-5zM2098 380h8v7h-8zM2106 177h16v7h-16zM2106 394h16v7h-16zM2201 499h9v7h-9z"/>
<path fill="#0000cc" d="M1838 268h10v7h-10zM1895 86h12v7h-12zM1919 142h4v7h-4zM1919 569h4v7h-4zM1923 100h15v7h-15zM1943 142h12v7h-12zM1959 638h3v7h-3zM1962 177h8v7h-8zM1962 645h8v7h-8zM1974 673h16v7h-16zM2059 79h11v7h-11zM2059 757h11v7h-11zM2093 114h5v7h-5zM2106 128h16v7h-16zM2122 408h17v7h-17zM2122 443h17v7h-17zM2187 261h14v7h-14z"/>
<path fill="#0000d9" d="M1838 247h10v21h-10zM1943 205h12v7h-12zM1955 156h4v7h-4zM1955 625h4v7h-4zM1959 163h3v7h-3zM1970 191h4v7h-4zM1974 219h16v7h-16zM1990 680h8v7h-8zM2006 708h8v7h-8zM2054 331h5v7h-5zM2059 128h11v7h-11zM2070 135h4v7h-4zM2074 771h15v7h-15zM2089 366h4v7h-4zM2122 198h17v7h-17zM2139 212h11v7h-11zM2139 422h11v7h-11zM2162 233h3v7h-3zM2165 177h17v7h-17zM2182 254h5v7h-5zM2210 506h8v7h-8zM2218 226h12v7h-12zM2218 289h12v7h-12zM2218 513h12v7h-12z"/>
<path fill="#0000e6" d="M1838 233h10v14h-10zM1848 317h10v7h-10zM1891 492h4v7h-4zM1907 128h12v7h-12zM1938 184h5v7h-5zM2002 247h4v7h-4zM2014 708h11v14h-11zM2025 72h5v7h-5zM2030 86h12v7h-12zM2042 107h12v7h-12zM2042 317h12v7h-12zM2070 86h4v7h-4zM2089 107h4v7h-4zM2089 156h4v7h-4zM2089 408h4v7h-4zM2093 771h5v7h-5zM2150 226h12v7h-12zM2162 436h3v7h-3zM2165 443h17v7h-17z"/>
<path fill="#0000f2" d="M1848 324h10v7h-10zM1895 93h12v7h-12zM1959 632h3v6h-3zM1990 233h8v7h-8zM2006 701h8v7h-8zM2014 317h11v7h-11zM2054 121h5v7h-5zM2059 373h11v7h-11zM2074 764h15v7h-15zM2182 184h5v7h-5zM2182 450h5v7h-5zM2187 457h14v7h-14zM2201 205h9v7h-9zM2201 275h9v7h-9zM2210 282h8v7h-8zM2210 471h8v7h-8zM2218 478h12v7h-12z"/>
<path fill="#0000ff" d="M1838 226h10v7h-10zM1938 121h5v7h-5zM1955 632h4v6h-4zM1998 240h4v7h-4zM2006 254h8v7h-8zM2025 331h5v7h-5zM2030 296h12v7h-12zM2042 114h12v7h-12zM2059 338h11v7h-11zM2070 345h4v7h-4zM2074 149h15v7h-15zM2093 163h5v7h-5zM2098 170h8v7h-8zM2106 184h16v7h-16zM2106 387h16v7h-16zM2139 149h11v7h-11zM2150 429h12v7h-12zM2187 492h14v7h-14zM2201 464h9v7h-9zM2210 212h8v7h-8z"/>
<path fill="#000dff" d="M1923 93h15v7h-15zM1923 163h15v7h-15zM1970 652h4v7h-4zM1990 687h8v7h-8zM2014 268h11v7h-11zM2025 282h5v7h-5zM2074 93h15v7h-15zM2093 366h5v7h-5zM2093 415h5v7h-5zM2098 373h8v7h-8zM2098 422h8v7h-8zM2165 247h17v7h-17z"/>
<path fill="#001aff" d="M1827 184h11v7h-11zM1895 100h12v7h-12zM1955 226h4v7h-4zM1962 170h8v7h-8zM1962 652h8v7h-8zM1974 212h16v7h-16zM1974 680h16v7h-16zM2025 715h5v7h-5zM2030 93h12v7h-12zM2059 764h11v7h-11zM2070 142h4v7h-4zM2070 757h4v7h-4zM2074 352h15v7h-15zM2093 107h5v7h-5zM2122 205h17v7h-17zM2139 219h11v7h-11zM2162 163h3v7h-3zM2187 191h14v7h-14zM2187 268h14v7h-14zM2218 296h12v7h-12z"/>
<path fill="#0026ff" d="M1923 86h15v7h-15zM1970 184h4v7h-4zM2006 303h8v7h-8zM2025 79h5v7h-5zM2054 324h5v7h-5zM2059 72h11v7h-11zM2059 135h11v7h-11zM2089 163h4v7h-4zM2098 114h8v7h-8zM2122 401h17v7h-17zM2139 415h11v7h-11zM2150 156h12v7h-12zM2162 240h3v7h-3zM2182 485h5v7h-5zM2210 289h8v7h-8zM2218 72h12v7h-12zM2218 219h12v7h-12z"/>
<path fill="#0033ff" d="M1923 79h15v7h-15zM1923 583h15v7h-15zM1943 135h12v7h-12zM1998 694h4v7h-4zM2030 100h12v7h-12zM2030 729h12v7h-12zM2042 310h12v7h-12zM2042 736h12v7h-12zM2054 128h5v7h-5zM2070 79h4v7h-4zM2089 100h4v7h-4zM2089 359h4v7h-4zM2122 135h17v7h-17zM2150 233h12v7h-12zM2165 170h17v7h-17zM2182 261h5v7h-5zM2201 282h9v7h-9zM2218 471h12v7h-12z"/>
<path fill="#0040ff" d="M1848 310h10v7h-10zM1919 149h4v7h-4zM1923 72h15v7h-15zM1938 114h5v7h-5zM1959 156h3v7h-3zM2002 701h4v7h-4zM2025 86h5v7h-5zM2042 121h12v7h-12zM2074 156h15v7h-15zM2093 170h5v7h-5zM2098 177h8v7h-8zM2098 771h8v7h-8zM2106 191h16v7h-16zM2150 422h12v7h-12zM2162 429h3v7h-3zM2165 436h17v7h-17zM2182 443h5v7h-5zM2187 450h14v7h-14zM2201 457h9v7h-9zM2210 464h8v7h-8zM2218 303h12v7h-12z"/>
<path fill="#004dff" d="M1838 219h10v7h-10zM1955 149h4v7h-4zM2014 72h11v7h-11zM2030 107h12v7h-12zM2030 289h12v7h-12zM2054 757h5v7h-5zM2059 331h11v7h-11zM2074 86h15v7h-15zM2106 121h16v7h-16zM2106 380h16v7h-16zM2165 254h17v7h-17zM2201 198h9v7h-9z"/>
<path fill="#0059ff" d="M1919 576h4v7h-4zM1943 212h12v7h-12zM1974 205h16v7h-16zM2025 93h5v7h-5zM2054 743h5v7h-5zM2122 212h17v7h-17zM2139 226h11v7h-11zM2139 408h11v7h-11zM2187 275h14v7h-14zM2210 205h8v7h-8zM2210 296h8v7h-8z"/>
<path fill="#0066ff" d="M1938 107h5v7h-5zM1938 191h5v7h-5zM1943 618h12v7h-12zM1962 163h8v7h-8zM1970 177h4v7h-4zM1998 289h4v7h-4zM2002 240h4v7h-4zM2002 687h4v7h-4zM2014 79h11v7h-11zM2025 275h5v7h-5zM2030 743h12v7h-12zM2042 750h12v7h-12zM2054 317h5v7h-5zM2054 366h5v7h-5zM2059 142h11v7h-11zM2070 72h4v7h-4zM2070 149h4v7h-4zM2070 338h4v7h-4zM2089 170h4v7h-4zM2089 764h4v7h-4zM2093 100h5v7h-5zM2098 107h8v7h-8zM2098 366h8v7h-8zM2122 394h17v7h-17zM2162 247h3v7h-3zM2182 177h5v7h-5zM2182 268h5v7h-5zM2201 289h9v7h-9zM2218 310h12v7h-12z"/>
<path fill="#0073ff" d="M1827 191h11v7h-11zM1838 275h10v7h-10zM1907 135h12v7h-12zM1907 555h12v7h-12zM1938 597h5v7h-5zM1938 611h5v7h-5zM1943 128h12v7h-12zM1943 604h12v7h-12zM1998 680h4v7h-4zM2006 247h8v7h-8zM2014 261h11v7h-11zM2054 135h5v7h-5zM2089 93h4v7h-4zM2093 177h5v7h-5zM2093 359h5v7h-5zM2098 184h8v7h-8zM2106 198h16v7h-16zM2139 142h11v7h-11zM2150 240h12v7h-12zM2150 415h12v7h-12zM2150 464h12v7h-12zM2162 422h3v7h-3zM2187 184h14v7h-14zM2218 464h12v7h-12z"/>
<path fill="#0080ff" d="M1938 100h5v7h-5zM1974 261h16v7h-16zM1990 226h8v7h-8zM2014 86h11v7h-11zM2025 100h5v7h-5zM2025 729h5v7h-5zM2030 114h12v7h-12zM2042 303h12v7h-12zM2070 771h4v7h-4zM2074 163h15v7h-15zM2074 345h15v7h-15zM2162 156h3v7h-3zM2165 429h17v7h-17zM2182 436h5v7h-5zM2187 282h14v7h-14zM2187 443h14v7h-14zM2210 303h8v7h-8zM2210 457h8v7h-8zM2218 212h12v7h-12z"/>
<path fill="#008cff" d="M1895 107h12v7h-12zM1938 93h5v7h-5zM1955 142h4v7h-4zM1959 149h3v7h-3zM1962 638h8v7h-8zM1970 666h20v7h-20zM1998 233h4v7h-4zM2042 128h12v7h-12zM2059 750h11v7h-11zM2074 79h15v7h-15zM2089 352h4v7h-4zM2106 373h16v7h-16zM2122 219h17v7h-17zM2139 233h11v7h-11zM2139 401h11v7h-11zM2150 149h12v7h-12zM2165 261h17v7h-17zM2201 296h9v7h-9zM2201 450h9v7h-9zM2218 317h12v7h-12z"/>
<path fill="#0099ff" d="M1838 212h10v7h-10zM1938 79h5v14h-5zM1943 121h12v7h-12zM1970 170h4v7h-4zM1974 198h16v7h-16zM1990 673h8v7h-8zM2059 324h11v7h-11zM2070 156h4v7h-4zM2074 401h15v7h-15zM2089 177h4v7h-4zM2122 387h17v7h-17zM2165 163h17v7h-17zM2182 275h5v7h-5zM2210 310h8v7h-8z"/>
<path fill="#00a6ff" d="M1938 72h5v7h-5zM1962 156h8v7h-8zM2002 296h4v7h-4zM2006 72h8v7h-8zM2070 387h4v7h-4zM2093 93h5v7h-5zM2093 184h5v7h-5zM2098 191h8v7h-8zM2098 359h8v7h-8zM2106 205h16v7h-16zM2122 128h17v7h-17zM2150 247h12v7h-12zM2150 408h12v7h-12zM2162 254h3v7h-3zM2162 415h3v7h-3zM2187 289h14v7h-14zM2201 191h9v7h-9zM2201 303h9v7h-9zM2210 198h8v7h-8zM2218 324h12v7h-12z"/>
<path fill="#00b2ff" d="M1943 114h12v7h-12zM1959 233h3v7h-3zM1959 645h3v7h-3zM2030 282h12v7h-12zM2054 310h5v7h-5zM2059 149h11v7h-11zM2070 331h4v7h-4zM2074 170h15v7h-15zM2089 86h4v7h-4zM2093 352h5v7h-5zM2093 764h5v7h-5zM2098 100h8v7h-8zM2106 114h16v7h-16zM2165 268h17v7h-17zM2165 422h17v7h-17zM2165 478h17v7h-17zM2182 170h5v7h-5zM2182 429h5v7h-5zM2187 436h14v7h-14zM2210 450h8v7h-8zM2218 457h12v7h-12z"/>
<path fill="#00bfff" d="M1923 597h15v7h-15zM1943 107h12v7h-12zM1955 135h4v7h-4zM1955 618h4v7h-4zM1970 247h4v7h-4zM2006 715h8v7h-8zM2014 93h11v7h-11zM2014 701h11v7h-11zM2025 107h5v7h-5zM2054 142h5v7h-5zM2074 72h15v7h-15zM2089 184h4v7h-4zM2122 226h17v7h-17zM2182 282h5v7h-5zM2201 443h9v7h-9zM2210 317h8v7h-8zM2218 79h12v7h-12zM2218 331h12v7h-12z"/>
<path fill="#00ccff" d="M1827 198h11v7h-11zM1907 569h12v7h-12zM1943 100h12v7h-12zM1955 128h4v7h-4zM1959 142h3v7h-3zM1974 191h16v7h-16zM2014 722h11v7h-11zM2025 268h5v7h-5zM2042 296h12v7h-12zM2070 163h4v7h-4zM2074 338h15v7h-15zM2093 191h5v7h-5zM2098 198h8v7h-8zM2106 366h16v7h-16zM2139 240h11v7h-11zM2139 394h11v7h-11zM2139 457h11v7h-11zM2162 261h3v7h-3zM2187 177h14v7h-14zM2187 296h14v7h-14zM2201 310h9v7h-9zM2210 324h8v7h-8zM2218 205h12v7h-12zM2218 338h12v7h-12z"/>
<path fill="#00d9ff" d="M1838 205h10v7h-10zM1848 331h10v7h-10zM1943 86h12v14h-12zM1955 121h4v7h-4zM1955 638h4v7h-4zM1959 135h3v7h-3zM1959 625h3v7h-3zM1962 149h8v7h-8zM1962 240h8v7h-8zM1970 163h4v7h-4zM1990 282h8v7h-8zM2006 694h8v7h-8zM2042 135h12v7h-12zM2059 156h11v7h-11zM2059 317h11v7h-11zM2074 177h15v7h-15zM2074 757h15v7h-15zM2089 345h4v7h-4zM2093 86h5v7h-5zM2106 212h16v7h-16zM2122 380h17v7h-17zM2139 135h11v7h-11zM2150 254h12v7h-12zM2150 401h12v7h-12zM2162 149h3v7h-3zM2162 408h3v7h-3zM2165 275h17v7h-17zM2165 415h17v7h-17zM2182 289h5v7h-5zM2187 303h14v7h-14zM2201 317h9v14h-9zM2210 331h8v7h-8z"/>
<path fill="#00e5ff" d="M1822 72h5v7h-5zM1895 506h12v7h-12zM1919 562h4v7h-4zM1943 79h12v7h-12zM1959 128h3v7h-3zM1962 142h8v7h-8zM1990 694h8v7h-8zM2030 121h12v7h-12zM2054 149h5v7h-5zM2070 324h4v7h-4zM2089 79h4v7h-4zM2089 191h4v7h-4zM2098 93h8v7h-8zM2106 107h16v7h-16zM2150 142h12v7h-12zM2165 156h17v7h-17zM2165 282h17v7h-17zM2182 296h5v7h-5zM2182 422h5v7h-5zM2187 310h14v7h-14zM2187 429h14v7h-14zM2201 331h9v7h-9zM2210 338h8v7h-8zM2210 443h8v7h-8zM2218 345h12v7h-12zM2218 450h12v7h-12z"/>
<path fill="#00f2ff" d="M1891 485h4v7h-4zM1943 72h12v7h-12zM1955 114h4v7h-4zM1962 659h8v7h-8zM1970 156h4v7h-4zM1974 687h16v7h-16zM1990 219h8v7h-8zM2002 233h4v7h-4zM2014 254h11v7h-11zM2054 303h5v7h-5zM2059 771h11v7h-11zM2070 170h4v7h-4zM2093 198h5v7h-5zM2098 205h8v7h-8zM2098 352h8v7h-8zM2106 219h16v7h-16zM2122 233h17v7h-17zM2150 261h12v7h-12zM2162 268h3v7h-3zM2165 289h17v7h-17zM2182 303h5v7h-5zM2187 317h14v7h-14zM2187 422h14v7h-14zM2201 184h9v7h-9zM2201 338h9v7h-9zM2201 429h9v14h-9zM2210 72h8v7h-8zM2210 191h8v7h-8zM2210 436h8v7h-8zM2218 352h12v7h-12zM2218 436h12v14h-12z"/>
<path fill="#00ffff" d="M1822 79h5v7h-5zM1923 170h15v7h-15zM1955 107h4v7h-4zM1959 121h3v7h-3zM1962 135h8v7h-8zM1970 149h4v7h-4zM1974 184h16v7h-16zM1998 226h4v7h-4zM1998 701h4v7h-4zM2006 79h8v7h-8zM2006 240h8v7h-8zM2025 114h5v7h-5zM2030 128h12v7h-12zM2030 275h12v7h-12zM2042 142h12v7h-12zM2059 163h11v7h-11zM2074 184h15v7h-15zM2093 345h5v7h-5zM2122 121h17v7h-17zM2139 247h11v7h-11zM2139 387h11v7h-11zM2150 268h12v7h-12zM2162 275h3v7h-3zM2162 401h3v7h-3zM2165 296h17v7h-17zM2165 408h17v7h-17zM2182 163h5v7h-5zM2182 310h5v7h-5zM2182 415h5v7h-5zM2187 324h14v14h-14zM2201 345h9v7h-9zM2201 422h9v7h-9zM2210 345h8v14h-8zM2210 429h20v7h-20zM2218 198h12v7h-12zM2218 359h12v7h-12z"/>
<path fill="#0dfff2" d="M1822 86h5v7h-5zM1838 198h10v7h-10zM1955 93h4v14h-4zM1959 114h3v7h-3zM1962 128h8v7h-8zM1970 142h4v7h-4zM1974 177h16v7h-16zM2002 708h4v7h-4zM2014 100h11v7h-11zM2025 121h5v7h-5zM2042 359h12v7h-12zM2054 156h5v7h-5zM2059 310h11v7h-11zM2070 177h4v7h-4zM2074 331h15v7h-15zM2089 198h4v7h-4zM2093 79h5v7h-5zM2093 205h5v7h-5zM2098 212h8v7h-8zM2106 226h16v7h-16zM2106 359h16v7h-16zM2122 240h17v7h-17zM2122 373h17v7h-17zM2139 254h11v7h-11zM2150 275h12v7h-12zM2150 394h12v7h-12zM2162 282h3v14h-3zM2165 303h17v7h-17zM2182 317h5v21h-5zM2182 408h5v7h-5zM2187 170h14v7h-14zM2187 338h14v7h-14zM2187 415h23v7h-23zM2201 352h9v7h-9zM2210 359h8v7h-8zM2210 422h8v7h-8zM2218 86h12v7h-12zM2218 366h12v7h-12z"/>
<path fill="#1affe5" d="M1822 93h5v7h-5zM1848 303h10v7h-10zM1955 79h4v14h-4zM1959 100h3v14h-3zM1962 121h8v7h-8zM1970 645h4v7h-4zM1974 170h16v7h-16zM1990 212h8v7h-8zM2014 107h11v7h-11zM2030 135h12v7h-12zM2042 149h12v7h-12zM2042 289h12v7h-12zM2054 764h5v7h-5zM2059 170h11v7h-11zM2074 191h15v7h-15zM2089 72h4v7h-4zM2089 205h4v7h-4zM2089 338h4v7h-4zM2098 86h8v7h-8zM2106 100h16v7h-16zM2139 261h11v7h-11zM2150 282h12v7h-12zM2162 296h3v7h-3zM2162 471h3v7h-3zM2165 310h17v28h-17zM2165 401h17v7h-17zM2182 338h5v14h-5zM2187 345h14v14h-14zM2187 408h14v7h-14zM2201 359h9v7h-9zM2201 506h9v7h-9zM2210 366h8v7h-8zM2210 415h8v7h-8zM2218 93h12v7h-12zM2218 191h12v7h-12zM2218 373h12v7h-12zM2218 422h12v7h-12z"/>
<path fill="#26ffd9" d="M1822 100h5v7h-5zM1827 205h11v7h-11zM1838 282h10v7h-10zM1943 219h12v7h-12zM1955 72h4v7h-4zM1959 86h3v14h-3zM1970 135h4v7h-4zM1974 163h16v7h-16zM2006 86h8v14h-8zM2014 114h11v7h-11zM2014 324h11v7h-11zM2025 128h5v7h-5zM2025 261h5v7h-5zM2025 708h5v7h-5zM2042 156h12v7h-12zM2054 163h5v7h-5zM2070 184h4v7h-4zM2070 317h4v7h-4zM2074 198h15v7h-15zM2089 415h4v7h-4zM2093 212h5v7h-5zM2098 219h8v7h-8zM2106 233h16v7h-16zM2122 247h17v7h-17zM2139 128h11v7h-11zM2139 268h11v7h-11zM2139 380h11v7h-11zM2150 289h12v14h-12zM2150 387h12v7h-12zM2162 142h3v7h-3zM2162 303h3v42h-3zM2162 394h20v7h-20zM2165 338h17v14h-17zM2182 352h5v7h-5zM2182 401h19v7h-19zM2187 359h14v14h-14zM2201 177h9v7h-9zM2201 366h9v14h-9zM2201 408h17v7h-17zM2210 184h20v7h-20zM2210 373h8v21h-8zM2218 100h12v7h-12zM2218 380h12v42h-12z"/>
<path fill="#33ffcc" d="M1838 191h10v7h-10zM1895 114h12v7h-12zM1895 520h12v7h-12zM1919 156h4v7h-4zM1959 72h3v14h-3zM1962 100h8v21h-8zM1970 128h4v7h-4zM1974 156h16v7h-16zM1990 205h8v7h-8zM2002 79h4v21h-4zM2006 100h8v14h-8zM2014 121h11v7h-11zM2025 135h5v7h-5zM2030 142h12v7h-12zM2030 345h12v7h-12zM2042 757h12v7h-12zM2054 170h5v7h-5zM2054 296h5v7h-5zM2059 177h11v7h-11zM2070 191h4v7h-4zM2070 750h4v7h-4zM2089 212h4v7h-4zM2093 219h5v7h-5zM2098 226h8v7h-8zM2098 345h8v7h-8zM2106 436h16v7h-16zM2122 254h17v7h-17zM2139 275h11v14h-11zM2150 135h12v7h-12zM2150 303h12v35h-12zM2162 387h3v7h-3zM2165 149h17v7h-17zM2182 359h5v7h-5zM2182 394h19v7h-19zM2187 373h14v7h-14zM2201 380h9v28h-9zM2210 177h20v7h-20zM2210 394h8v14h-8zM2210 513h8v7h-8zM2218 107h12v7h-12z"/>
<path fill="#40ffbf" d="M1822 107h5v7h-5zM1907 142h12v7h-12zM1938 198h5v7h-5zM1962 72h8v7h-8zM1962 86h8v14h-8zM1970 121h4v7h-4zM1974 149h16v7h-16zM1990 79h8v14h-8zM1990 184h8v21h-8zM1998 72h4v35h-4zM2002 72h4v7h-4zM2002 100h4v14h-4zM2002 226h4v7h-4zM2006 114h8v7h-8zM2014 128h11v7h-11zM2030 149h12v7h-12zM2030 722h12v7h-12zM2030 750h12v7h-12zM2042 163h12v7h-12zM2059 184h11v7h-11zM2059 380h11v7h-11zM2074 205h15v7h-15zM2074 324h15v7h-15zM2089 219h4v7h-4zM2093 338h5v7h-5zM2106 240h16v7h-16zM2122 114h17v7h-17zM2122 261h17v14h-17zM2122 366h17v7h-17zM2139 289h11v35h-11zM2139 373h11v7h-11zM2150 380h15v7h-15zM2162 345h3v7h-3zM2165 352h17v7h-17zM2165 387h22v7h-22zM2182 156h5v7h-5zM2182 366h5v7h-5zM2187 163h14v7h-14zM2187 380h14v14h-14zM2201 170h17v7h-17z"/>
<path fill="#4dffb2" d="M1822 114h5v7h-5zM1943 625h12v7h-12zM1962 79h8v7h-8zM1970 72h4v14h-4zM1970 100h4v21h-4zM1974 72h16v21h-16zM1974 142h16v7h-16zM1990 72h8v7h-8zM1990 93h8v14h-8zM1990 177h8v7h-8zM1998 107h4v7h-4zM1998 205h4v21h-4zM2002 114h4v7h-4zM2006 121h8v7h-8zM2006 233h8v7h-8zM2014 247h11v7h-11zM2025 142h5v7h-5zM2025 736h5v7h-5zM2030 268h12v7h-12zM2042 729h12v7h-12zM2054 177h5v7h-5zM2059 191h11v7h-11zM2059 303h11v7h-11zM2070 198h4v7h-4zM2070 310h4v7h-4zM2074 212h15v7h-15zM2093 72h5v7h-5zM2093 226h5v7h-5zM2098 79h8v7h-8zM2098 233h8v7h-8zM2106 93h16v7h-16zM2106 247h16v7h-16zM2106 352h16v7h-16zM2122 275h17v14h-17zM2139 324h11v7h-11zM2150 338h12v7h-12zM2150 373h15v7h-15zM2162 135h3v7h-3zM2165 142h17v7h-17zM2165 359h17v7h-17zM2165 373h22v14h-22zM2187 499h14v7h-14zM2201 163h9v7h-9zM2210 79h8v14h-8zM2218 114h12v7h-12zM2218 170h12v7h-12zM2218 520h12v7h-12z"/>
<path fill="#59ffa6" d="M1838 184h10v7h-10zM1919 583h4v7h-4zM1938 618h5v7h-5zM1970 86h4v14h-4zM1970 673h4v7h-4zM1974 93h16v7h-16zM1990 107h8v7h-8zM1990 170h8v7h-8zM1998 114h4v7h-4zM1998 184h4v21h-4zM2002 212h4v14h-4zM2014 135h11v7h-11zM2025 338h5v7h-5zM2042 170h12v7h-12zM2042 282h12v7h-12zM2070 205h4v7h-4zM2074 219h15v7h-15zM2089 226h4v7h-4zM2089 331h4v7h-4zM2093 233h5v7h-5zM2098 240h8v7h-8zM2098 764h8v7h-8zM2106 254h16v7h-16zM2122 289h17v21h-17zM2122 359h17v7h-17zM2139 121h11v7h-11zM2139 366h43v7h-43zM2162 352h3v7h-3zM2182 149h5v7h-5zM2187 156h14v7h-14zM2210 93h8v14h-8zM2210 163h20v7h-20z"/>
<path fill="#66ff99" d="M1923 177h15v7h-15zM1974 100h16v42h-16zM1990 163h8v7h-8zM1998 177h4v7h-4zM2002 121h4v7h-4zM2002 191h4v21h-4zM2006 128h8v7h-8zM2006 226h8v7h-8zM2006 310h8v7h-8zM2030 156h12v7h-12zM2054 184h5v7h-5zM2054 289h5v7h-5zM2059 198h11v7h-11zM2059 296h11v7h-11zM2074 317h15v7h-15zM2089 233h4v7h-4zM2098 247h8v7h-8zM2106 261h16v28h-16zM2122 310h17v7h-17zM2122 450h17v7h-17zM2139 331h11v7h-11zM2139 359h11v7h-11zM2150 128h12v7h-12zM2150 345h12v21h-12zM2162 359h3v7h-3zM2187 149h14v7h-14zM2201 156h17v7h-17zM2218 149h12v14h-12z"/>
<path fill="#73ff8c" d="M1822 121h5v7h-5zM1827 212h11v7h-11zM1955 233h4v7h-4zM1959 652h3v7h-3zM1990 114h8v14h-8zM1990 156h8v7h-8zM1998 121h4v7h-4zM1998 170h4v7h-4zM2002 184h4v7h-4zM2006 198h8v28h-8zM2006 722h8v7h-8zM2025 149h5v7h-5zM2025 254h5v7h-5zM2030 261h12v7h-12zM2042 177h12v7h-12zM2042 275h12v7h-12zM2054 191h5v7h-5zM2054 736h5v7h-5zM2070 212h4v7h-4zM2070 303h4v7h-4zM2074 226h15v7h-15zM2089 240h9v7h-9zM2098 254h8v7h-8zM2098 338h8v7h-8zM2106 289h16v7h-16zM2106 345h16v7h-16zM2106 771h16v7h-16zM2122 107h17v7h-17zM2122 317h17v7h-17zM2122 352h17v7h-17zM2139 338h11v21h-11zM2182 142h5v7h-5zM2201 72h9v7h-9zM2201 149h9v7h-9zM2210 107h8v7h-8zM2218 142h12v7h-12z"/>
<path fill="#80ff80" d="M1838 72h10v112h-10zM1923 576h15v7h-15zM1974 268h16v7h-16zM1990 128h8v28h-8zM1998 128h4v21h-4zM1998 163h4v7h-4zM2002 128h4v14h-4zM2002 177h4v7h-4zM2002 680h4v7h-4zM2006 191h8v7h-8zM2014 142h11v7h-11zM2014 226h11v21h-11zM2014 729h11v7h-11zM2054 282h5v7h-5zM2059 205h11v7h-11zM2070 219h4v7h-4zM2074 233h15v7h-15zM2089 324h4v7h-4zM2089 757h4v7h-4zM2093 247h5v21h-5zM2093 331h5v7h-5zM2093 422h5v7h-5zM2098 72h8v7h-8zM2098 261h8v21h-8zM2106 86h16v7h-16zM2106 296h16v7h-16zM2106 338h16v7h-16zM2122 324h17v7h-17zM2122 345h17v7h-17zM2165 135h17v7h-17zM2201 79h9v21h-9zM2210 142h8v14h-8zM2218 121h12v7h-12zM2218 135h12v7h-12z"/>
<path fill="#8cff73" d="M1891 72h4v7h-4zM1891 499h4v7h-4zM1895 121h12v7h-12zM1923 604h15v7h-15zM1955 645h4v7h-4zM1990 701h8v7h-8zM1998 149h4v14h-4zM1998 296h4v7h-4zM1998 673h4v7h-4zM2002 142h4v21h-4zM2002 170h4v7h-4zM2006 135h8v21h-8zM2006 184h8v7h-8zM2014 205h11v21h-11zM2025 233h5v21h-5zM2030 163h12v7h-12zM2030 254h12v7h-12zM2042 184h12v7h-12zM2042 268h12v7h-12zM2054 198h5v7h-5zM2054 275h5v7h-5zM2059 212h11v7h-11zM2059 282h11v14h-11zM2070 226h4v7h-4zM2070 289h4v14h-4zM2070 394h4v7h-4zM2074 303h15v14h-15zM2089 247h4v28h-4zM2089 310h4v14h-4zM2093 268h5v14h-5zM2093 317h5v14h-5zM2098 282h8v7h-8zM2098 324h8v14h-8zM2106 303h16v21h-16zM2122 331h17v14h-17zM2162 128h3v7h-3zM2182 492h5v7h-5zM2187 142h23v7h-23zM2201 100h9v7h-9zM2210 135h8v7h-8zM2218 128h12v7h-12z"/>
<path fill="#99ff66" d="M1822 128h5v7h-5zM1879 464h12v7h-12zM1891 79h4v14h-4zM1962 632h8v6h-8zM1962 666h8v7h-8zM1974 694h16v7h-16zM2002 163h4v7h-4zM2006 156h8v28h-8zM2014 149h11v56h-11zM2025 156h5v42h-5zM2025 219h5v14h-5zM2030 170h12v35h-12zM2030 233h12v21h-12zM2042 191h12v28h-12zM2042 254h12v14h-12zM2054 205h5v28h-5zM2054 268h5v7h-5zM2059 219h11v21h-11zM2059 275h11v7h-11zM2070 233h4v14h-4zM2070 282h4v7h-4zM2074 240h15v28h-15zM2074 289h15v14h-15zM2089 275h4v35h-4zM2093 282h5v35h-5zM2098 289h8v35h-8zM2106 324h16v14h-16zM2122 100h17v7h-17zM2182 135h28v7h-28zM2210 114h8v7h-8zM2210 128h8v7h-8z"/>
<path fill="#a6ff59" d="M1879 478h12v7h-12zM1891 93h4v7h-4zM1907 149h12v7h-12zM1907 576h12v7h-12zM1970 254h4v7h-4zM1974 659h16v7h-16zM1998 708h4v7h-4zM2002 303h4v7h-4zM2002 715h4v7h-4zM2025 198h5v21h-5zM2030 205h12v28h-12zM2042 219h12v21h-12zM2042 247h12v7h-12zM2054 233h5v14h-5zM2054 254h5v14h-5zM2054 373h5v7h-5zM2059 240h11v35h-11zM2059 743h11v7h-11zM2070 247h4v35h-4zM2074 268h15v21h-15zM2106 79h16v7h-16zM2139 114h11v7h-11zM2150 121h12v7h-12zM2165 128h17v7h-17zM2201 107h9v7h-9zM2201 128h9v7h-9zM2210 121h8v7h-8z"/>
<path fill="#b3ff4c" d="M1891 100h4v7h-4zM1938 205h5v7h-5zM1938 590h5v7h-5zM1943 597h12v7h-12zM1990 666h8v7h-8zM2042 240h12v7h-12zM2054 247h5v7h-5zM2054 771h5v7h-5zM2098 429h8v7h-8zM2182 128h19v7h-19zM2187 79h14v14h-14zM2201 121h9v7h-9z"/>
<path fill="#bfff40" d="M1822 135h5v7h-5zM1827 219h11v7h-11zM1919 163h4v7h-4zM1923 184h15v7h-15zM1959 240h3v7h-3zM1990 289h8v7h-8zM2030 757h12v7h-12zM2042 764h12v7h-12zM2074 408h15v7h-15zM2122 93h17v7h-17zM2162 121h20v7h-20zM2187 72h14v7h-14zM2187 93h14v7h-14zM2187 121h14v7h-14zM2201 114h9v7h-9z"/>
<path fill="#ccff33" d="M1848 296h10v7h-10zM1891 107h4v7h-4zM2025 743h5v7h-5zM2093 757h5v7h-5zM2106 72h16v7h-16zM2139 107h11v7h-11zM2150 114h12v7h-12zM2165 485h17v7h-17zM2182 121h5v7h-5zM2187 100h14v7h-14z"/>
<path fill="#d9ff26" d="M1895 128h12v7h-12zM1943 226h12v7h-12zM1943 632h12v6h-12zM1962 247h8v7h-8zM1970 680h4v7h-4zM2014 331h11v7h-11zM2014 694h11v7h-11zM2030 352h12v7h-12zM2122 86h17v7h-17zM2139 100h11v7h-11zM2150 107h12v7h-12zM2162 114h3v7h-3zM2182 79h5v14h-5zM2182 114h5v7h-5zM2187 107h14v14h-14zM2201 513h9v7h-9z"/>
<path fill="#e5ff1a" d="M1822 142h5v7h-5zM1907 548h12v7h-12zM1938 625h5v7h-5zM2059 387h11v7h-11zM2122 79h17v7h-17zM2139 93h11v7h-11zM2150 100h12v7h-12zM2162 107h3v7h-3zM2165 107h17v14h-17zM2182 72h5v7h-5zM2182 93h5v21h-5z"/>
<path fill="#f2ff0d" d="M1838 289h10v7h-10zM1938 212h5v7h-5zM1955 611h4v7h-4zM1959 659h3v7h-3zM1974 275h16v7h-16zM2006 317h8v7h-8zM2006 687h8v7h-8zM2006 729h8v7h-8zM2014 736h11v7h-11zM2042 366h12v7h-12zM2074 750h15v7h-15zM2139 86h11v7h-11zM2150 93h12v7h-12zM2150 471h12v7h-12zM2162 100h20v7h-20zM2162 478h3v7h-3z"/>
<path fill="#ffff00" d="M1848 338h10v7h-10zM1907 156h12v7h-12zM1919 590h4v7h-4zM1923 191h15v7h-15zM1959 618h3v7h-3zM1990 708h8v7h-8zM2070 401h4v7h-4zM2089 422h4v7h-4zM2122 72h17v7h-17zM2150 86h12v7h-12zM2162 93h3v7h-3zM2165 72h17v28h-17zM2187 506h14v7h-14zM2210 520h8v7h-8zM2218 527h12v7h-12z"/>
<path fill="#fff200" d="M1822 149h5v7h-5zM1827 226h11v7h-11zM1891 114h4v7h-4zM1895 135h12v7h-12zM1955 652h4v7h-4zM1962 673h8v7h-8zM1974 701h16v7h-16zM2139 79h11v7h-11zM2139 464h11v7h-11zM2162 86h3v7h-3zM2182 499h5v7h-5z"/>
<path fill="#ffe500" d="M1895 527h12v7h-12zM1919 170h4v7h-4zM1923 611h15v7h-15zM1955 240h4v7h-4zM1998 303h4v7h-4zM1998 715h4v7h-4zM2002 722h4v7h-4zM2139 72h11v7h-11zM2150 79h12v7h-12zM2162 72h3v14h-3z"/>
<path fill="#ffd900" d="M1822 156h5v7h-5zM1938 219h5v7h-5zM1970 261h4v7h-4zM2002 310h4v7h-4zM2042 771h12v7h-12zM2054 380h5v7h-5zM2106 443h16v7h-16zM2150 72h12v7h-12z"/>
<path fill="#ffcc00" d="M1848 289h10v7h-10zM1907 583h12v7h-12zM2025 345h5v7h-5zM2025 750h5v7h-5zM2030 764h12v7h-12zM2074 415h15v7h-15z"/>
<path fill="#ffbf00" d="M1891 121h4v7h-4zM1943 638h12v7h-12zM1962 254h8v7h-8zM1970 638h4v7h-4zM1970 687h4v7h-4zM1990 296h8v7h-8zM2025 701h5v7h-5zM2093 429h5v7h-5zM2165 492h17v7h-17z"/>
<path fill="#ffb300" d="M1822 163h5v7h-5zM1895 142h12v7h-12zM1919 177h4v7h-4zM1919 555h4v7h-4zM1923 198h15v7h-15zM1938 632h5v6h-5zM1943 233h12v7h-12zM1959 247h3v7h-3zM1959 666h3v7h-3zM2006 324h8v7h-8zM2006 736h8v7h-8zM2014 338h11v7h-11zM2014 743h11v7h-11zM2059 394h11v7h-11zM2070 743h4v7h-4zM2122 457h17v7h-17z"/>
<path fill="#ffa600" d="M1827 233h11v7h-11zM1827 771h11v7h-11zM1838 296h10v7h-10zM1879 100h12v7h-12zM1907 163h12v7h-12zM1974 708h16v7h-16zM1990 715h8v7h-8zM2030 715h12v7h-12zM2042 722h12v7h-12zM2098 436h8v7h-8z"/>
<path fill="#ff9900" d="M1822 170h5v7h-5zM1827 764h11v7h-11zM1879 93h12v7h-12zM1879 107h12v7h-12zM1891 128h4v7h-4zM1891 506h4v7h-4zM1919 597h4v7h-4zM1955 659h4v7h-4zM1962 680h8v7h-8zM1974 282h16v7h-16zM1998 722h4v7h-4zM2002 729h4v7h-4zM2030 359h12v7h-12zM2042 373h12v7h-12zM2098 757h8v7h-8zM2187 513h14v7h-14zM2201 520h9v7h-9zM2218 534h12v7h-12z"/>
<path fill="#ff8c00" d="M1838 771h10v7h-10zM1848 282h10v7h-10zM1879 86h12v7h-12zM1962 625h8v7h-8zM2002 673h4v7h-4zM2030 771h12v7h-12zM2054 729h5v7h-5zM2089 750h4v7h-4zM2106 764h16v7h-16zM2150 478h12v7h-12zM2162 485h3v7h-3zM2210 527h8v7h-8z"/>
<path fill="#ff8000" d="M1822 177h5v7h-5zM1822 771h5v7h-5zM1827 757h11v7h-11zM1838 764h10v7h-10zM1879 79h12v7h-12zM1919 184h4v7h-4zM1923 618h15v7h-15zM1970 268h4v7h-4zM1970 694h4v7h-4zM1998 310h4v7h-4zM1998 666h4v7h-4zM2002 317h4v7h-4zM2025 757h5v7h-5zM2070 408h4v7h-4zM2182 506h5v7h-5z"/>
<path fill="#ff7300" d="M1822 764h5v7h-5zM1827 240h11v7h-11zM1827 750h11v7h-11zM1838 757h10v7h-10zM1848 275h10v7h-10zM1879 72h12v7h-12zM1879 114h12v7h-12zM1879 485h12v7h-12zM1891 135h4v7h-4zM1895 149h12v7h-12zM1907 590h12v7h-12zM1923 205h15v7h-15zM1938 226h5v7h-5zM1938 638h5v7h-5zM1943 645h12v7h-12zM1955 247h4v7h-4zM1974 652h16v7h-16zM2006 743h8v7h-8zM2014 750h11v7h-11zM2025 352h5v7h-5zM2054 387h5v7h-5zM2059 401h11v7h-11zM2059 736h11v7h-11zM2165 499h17v7h-17z"/>
<path fill="#ff6600" d="M1822 184h5v7h-5zM1822 750h5v14h-5zM1827 743h11v7h-11zM1848 72h10v14h-10zM1848 261h10v14h-10zM1848 771h10v7h-10zM1895 534h12v7h-12zM1907 170h12v7h-12zM1923 569h15v7h-15zM1959 673h3v7h-3zM1962 261h8v7h-8zM1962 687h8v7h-8zM1974 715h16v7h-16zM1990 303h8v7h-8zM1990 659h8v7h-8zM1990 722h8v7h-8zM2089 429h4v7h-4zM2106 450h16v7h-16z"/>
<path fill="#ff5900" d="M1814 764h8v14h-8zM1822 191h5v7h-5zM1822 743h5v7h-5zM1827 736h11v7h-11zM1838 750h10v7h-10zM1848 86h10v112h-10zM1848 254h10v7h-10zM1848 764h10v7h-10zM1895 499h12v7h-12zM1919 191h4v7h-4zM1938 583h5v7h-5zM1943 240h12v7h-12zM1943 590h12v7h-12zM1955 666h4v7h-4zM1959 254h3v7h-3zM1998 729h4v7h-4zM2002 736h4v7h-4zM2006 331h8v7h-8zM2014 687h11v7h-11zM2074 422h15v7h-15zM2093 750h5v7h-5zM2139 471h11v7h-11zM2201 527h9v7h-9zM2218 541h12v7h-12z"/>
<path fill="#ff4c00" d="M1814 757h8v7h-8zM1822 736h5v7h-5zM1827 729h11v7h-11zM1838 303h10v7h-10zM1838 743h10v7h-10zM1848 198h10v56h-10zM1848 345h10v7h-10zM1848 757h10v7h-10zM1879 121h12v7h-12zM1891 142h4v7h-4zM1895 156h12v7h-12zM1919 604h4v7h-4zM1923 212h15v7h-15zM1923 625h15v7h-15zM1943 652h12v7h-12zM1970 275h4v7h-4zM1970 701h4v7h-4zM1998 317h4v7h-4zM2002 324h4v7h-4zM2006 680h8v7h-8zM2006 750h8v7h-8zM2025 764h5v7h-5zM2042 380h12v7h-12zM2074 743h15v7h-15zM2093 436h5v7h-5zM2162 492h3v7h-3zM2210 534h8v7h-8z"/>
<path fill="#ff4000" d="M1810 771h4v7h-4zM1814 743h8v14h-8zM1822 198h5v7h-5zM1822 729h5v7h-5zM1827 247h11v7h-11zM1827 722h11v7h-11zM1838 736h10v7h-10zM1848 750h10v7h-10zM1858 764h4v14h-4zM1879 128h12v7h-12zM1891 513h4v7h-4zM1907 177h12v7h-12zM1907 597h12v7h-12zM1938 645h5v7h-5zM1955 604h4v7h-4zM1955 673h4v7h-4zM1959 611h3v7h-3zM1959 680h3v7h-3zM1962 694h8v7h-8zM1974 289h16v7h-16zM1974 722h16v7h-16zM1990 729h8v7h-8zM1998 736h4v7h-4zM2002 743h4v7h-4zM2014 757h11v7h-11zM2030 366h12v7h-12zM2054 394h5v7h-5zM2070 415h4v7h-4zM2122 771h17v7h-17zM2150 485h12v7h-12zM2182 513h5v7h-5zM2187 520h14v7h-14z"/>
<path fill="#ff3300" d="M1810 757h4v14h-4zM1814 72h8v14h-8zM1814 736h8v7h-8zM1822 205h5v7h-5zM1822 722h5v7h-5zM1827 715h11v7h-11zM1838 729h10v7h-10zM1848 743h10v7h-10zM1858 757h4v7h-4zM1895 541h12v7h-12zM1919 611h4v7h-4zM1923 219h15v7h-15zM1923 632h15v6h-15zM1938 233h5v7h-5zM1943 659h12v7h-12zM1955 254h4v7h-4zM1959 687h3v7h-3zM1970 632h4v6h-4zM1970 708h4v7h-4zM1974 729h16v7h-16zM1990 736h8v7h-8zM2006 757h8v7h-8zM2014 345h11v7h-11zM2014 764h11v7h-11zM2025 771h5v7h-5zM2098 443h8v7h-8zM2122 464h17v7h-17z"/>
<path fill="#ff2600" d="M1810 743h4v14h-4zM1814 86h8v7h-8zM1814 722h8v14h-8zM1822 212h5v7h-5zM1822 715h5v7h-5zM1827 708h11v7h-11zM1838 722h10v7h-10zM1848 729h10v14h-10zM1858 750h4v7h-4zM1879 492h12v7h-12zM1891 149h4v7h-4zM1891 478h4v7h-4zM1907 604h12v7h-12zM1919 198h4v7h-4zM1923 638h15v7h-15zM1938 652h5v7h-5zM1955 680h4v7h-4zM1962 268h8v7h-8zM1962 701h8v7h-8zM1970 715h4v7h-4zM1990 310h8v7h-8zM1998 743h4v7h-4zM2002 750h4v7h-4zM2006 338h8v7h-8zM2006 764h8v7h-8zM2014 771h11v7h-11zM2025 359h5v7h-5zM2059 408h11v7h-11zM2162 499h3v7h-3zM2165 506h17v7h-17z"/>
<path fill="#ff1a00" d="M1810 729h4v14h-4zM1814 93h8v14h-8zM1814 715h8v7h-8zM1822 219h5v7h-5zM1822 708h5v7h-5zM1827 254h11v7h-11zM1827 701h11v7h-11zM1838 310h10v7h-10zM1838 715h10v7h-10zM1848 722h10v7h-10zM1858 736h4v14h-4zM1879 135h12v7h-12zM1891 520h4v7h-4zM1895 163h12v7h-12zM1895 548h12v7h-12zM1907 184h12v7h-12zM1907 541h12v7h-12zM1907 611h12v7h-12zM1919 618h4v7h-4zM1923 645h15v7h-15zM1938 659h5v7h-5zM1943 666h12v7h-12zM1955 687h4v7h-4zM1959 261h3v7h-3zM1959 694h3v14h-3zM1962 708h8v14h-8zM1970 722h4v7h-4zM1974 736h16v14h-16zM1990 743h8v14h-8zM1998 324h4v7h-4zM1998 750h4v7h-4zM2002 757h4v7h-4zM2006 771h8v7h-8zM2025 694h5v7h-5zM2030 708h12v7h-12zM2042 715h12v7h-12zM2054 401h5v7h-5zM2070 736h4v7h-4zM2089 436h4v7h-4zM2139 478h11v7h-11zM2201 534h9v7h-9zM2210 541h8v7h-8z"/>
<path fill="#ff0d00" d="M1790 757h20v21h-20zM1810 715h4v14h-4zM1814 107h8v7h-8zM1814 708h8v7h-8zM1822 226h5v7h-5zM1822 701h5v7h-5zM1827 694h11v7h-11zM1838 317h10v7h-10zM1838 708h10v7h-10zM1848 715h10v7h-10zM1858 729h4v7h-4zM1862 100h17v14h-17zM1862 764h17v14h-17zM1879 142h12v7h-12zM1879 499h12v7h-12zM1891 156h4v7h-4zM1895 555h12v7h-12zM1907 191h12v7h-12zM1907 618h12v7h-12zM1919 205h4v7h-4zM1919 548h4v7h-4zM1919 625h4v7h-4zM1923 652h15v7h-15zM1938 666h5v7h-5zM1943 247h12v7h-12zM1943 673h12v14h-12zM1955 694h4v7h-4zM1959 708h3v7h-3zM1962 275h8v7h-8zM1962 618h8v7h-8zM1962 722h8v7h-8zM1970 282h4v7h-4zM1970 729h4v7h-4zM1974 296h16v7h-16zM1974 750h16v7h-16zM1990 317h8v7h-8zM1990 757h8v7h-8zM1998 659h4v7h-4zM1998 757h4v14h-4zM2002 331h4v7h-4zM2002 666h4v7h-4zM2002 764h4v14h-4zM2014 352h11v7h-11zM2030 373h12v7h-12zM2042 387h12v7h-12zM2054 722h5v7h-5zM2074 429h15v7h-15zM2089 743h4v7h-4zM2098 750h8v7h-8zM2106 457h16v7h-16zM2106 757h16v7h-16zM2150 492h12v7h-12zM2165 513h17v7h-17zM2182 520h5v7h-5zM2187 527h14v7h-14zM2218 548h12v7h-12z"/>
<path fill="#ff0000" d="M1790 736h20v21h-20zM1810 701h4v14h-4zM1814 114h8v14h-8zM1814 694h8v14h-8zM1822 233h5v7h-5zM1822 694h5v7h-5zM1827 687h11v7h-11zM1838 324h10v7h-10zM1838 701h10v7h-10zM1848 708h10v7h-10zM1858 72h21v7h-21zM1858 722h4v7h-4zM1862 93h17v7h-17zM1862 114h17v7h-17zM1862 743h17v21h-17zM1879 149h12v7h-12zM1879 757h12v21h-12zM1891 527h4v7h-4zM1891 771h16v7h-16zM1895 170h12v7h-12zM1907 625h12v7h-12zM1907 764h12v14h-12zM1919 212h4v7h-4zM1919 632h4v6h-4zM1919 757h4v21h-4zM1923 226h15v7h-15zM1923 659h15v7h-15zM1923 750h15v28h-15zM1938 240h5v7h-5zM1938 673h5v7h-5zM1938 743h5v35h-5zM1943 687h12v7h-12zM1943 736h12v42h-12zM1955 261h4v7h-4zM1955 701h4v14h-4zM1955 722h4v56h-4zM1959 268h3v7h-3zM1959 715h3v63h-3zM1962 729h8v49h-8zM1970 736h4v42h-4zM1974 645h16v7h-16zM1974 757h16v21h-16zM1990 652h8v7h-8zM1990 764h8v14h-8zM1998 331h4v7h-4zM1998 771h4v7h-4zM2002 338h4v7h-4zM2014 680h11v7h-11zM2025 366h5v7h-5zM2042 394h12v7h-12zM2059 415h11v7h-11zM2059 729h11v7h-11zM2070 422h4v7h-4zM2093 443h5v7h-5zM2093 743h5v7h-5zM2098 450h8v7h-8zM2139 485h11v7h-11zM2150 499h12v7h-12zM2162 506h3v7h-3zM2187 534h14v7h-14zM2201 541h9v7h-9zM2210 548h8v7h-8z"/>
<path fill="#f20000" d="M1786 757h4v21h-4zM1790 708h20v28h-20zM1810 694h4v7h-4zM1814 128h8v14h-8zM1814 680h8v14h-8zM1822 240h5v7h-5zM1822 673h5v21h-5zM1827 261h11v7h-11zM1827 673h11v14h-11zM1838 331h10v7h-10zM1838 694h10v7h-10zM1848 352h10v7h-10zM1848 701h10v7h-10zM1858 79h21v14h-21zM1858 708h4v14h-4zM1862 121h17v14h-17zM1862 729h17v14h-17zM1879 156h12v7h-12zM1879 506h12v7h-12zM1879 736h12v21h-12zM1891 163h4v7h-4zM1891 743h4v28h-4zM1895 177h12v7h-12zM1895 562h12v7h-12zM1895 736h12v35h-12zM1907 198h12v7h-12zM1907 715h12v49h-12zM1919 219h4v7h-4zM1919 638h4v7h-4zM1919 701h4v56h-4zM1923 233h15v7h-15zM1923 562h15v7h-15zM1923 687h15v63h-15zM1938 576h5v7h-5zM1938 680h5v63h-5zM1943 254h12v7h-12zM1943 583h12v7h-12zM1943 694h12v42h-12zM1955 268h4v7h-4zM1955 597h4v7h-4zM1955 715h4v7h-4zM1959 275h3v7h-3zM1959 604h3v7h-3zM1962 282h8v7h-8zM1970 289h4v7h-4zM1970 625h4v7h-4zM1974 303h16v7h-16zM1990 324h8v7h-8zM2006 345h8v7h-8zM2006 673h8v7h-8zM2014 359h11v7h-11zM2030 380h12v7h-12zM2042 401h12v7h-12zM2054 408h5v7h-5zM2074 436h15v7h-15zM2074 736h15v7h-15zM2089 443h4v7h-4zM2093 450h5v7h-5zM2122 471h17v7h-17zM2122 764h17v7h-17zM2139 492h11v7h-11zM2162 513h3v7h-3zM2165 520h17v7h-17zM2182 527h5v7h-5zM2218 555h12v7h-12z"/>
<path fill="#e50000" d="M1775 771h11v7h-11zM1786 715h4v42h-4zM1790 687h20v21h-20zM1810 72h4v21h-4zM1810 666h4v28h-4zM1814 142h8v21h-8zM1814 659h8v21h-8zM1822 247h5v35h-5zM1822 659h16v14h-16zM1827 268h11v21h-11zM1838 338h10v7h-10zM1838 680h10v14h-10zM1848 694h10v7h-10zM1858 93h4v21h-4zM1858 701h4v7h-4zM1862 135h17v7h-17zM1862 715h17v14h-17zM1879 457h12v7h-12zM1879 722h12v14h-12zM1891 170h4v7h-4zM1891 534h4v7h-4zM1891 715h4v28h-4zM1895 184h12v7h-12zM1895 701h12v35h-12zM1907 205h12v7h-12zM1907 632h12v6h-12zM1907 666h12v49h-12zM1919 645h4v7h-4zM1919 659h4v42h-4zM1923 666h15v21h-15zM1938 247h5v7h-5zM1955 275h4v7h-4zM1990 331h8v7h-8zM1998 338h4v7h-4zM2006 352h8v7h-8zM2025 373h5v7h-5zM2025 687h5v7h-5zM2030 701h12v7h-12zM2042 708h12v7h-12zM2054 415h5v7h-5zM2059 422h11v7h-11zM2070 429h4v7h-4zM2070 729h4v7h-4zM2106 464h16v7h-16zM2122 478h17v7h-17zM2139 499h11v7h-11zM2150 506h12v7h-12zM2182 534h5v7h-5zM2187 541h14v7h-14zM2201 548h9v7h-9zM2210 555h8v7h-8z"/>
<path fill="#d90000" d="M1775 708h11v63h-11zM1786 666h4v49h-4zM1790 638h20v49h-20zM1810 93h4v56h-4zM1810 638h4v28h-4zM1814 163h8v49h-8zM1814 638h24v21h-24zM1822 282h5v63h-5zM1827 289h11v35h-11zM1838 345h10v7h-10zM1838 659h10v21h-10zM1848 359h10v7h-10zM1848 687h10v7h-10zM1858 114h4v7h-4zM1858 694h4v7h-4zM1862 142h17v7h-17zM1862 701h17v14h-17zM1879 163h12v7h-12zM1879 701h12v21h-12zM1891 177h4v7h-4zM1891 680h4v35h-4zM1895 191h12v7h-12zM1895 492h12v7h-12zM1895 569h12v7h-12zM1895 659h12v42h-12zM1907 212h12v7h-12zM1907 534h12v7h-12zM1907 638h12v28h-12zM1919 226h4v7h-4zM1919 652h4v7h-4zM1923 240h15v7h-15zM1943 261h12v7h-12zM1959 282h3v7h-3zM1962 289h8v7h-8zM1962 611h8v7h-8zM1970 296h4v7h-4zM1974 310h16v7h-16zM1998 652h4v7h-4zM2002 345h4v7h-4zM2002 659h4v7h-4zM2014 366h11v7h-11zM2030 387h12v7h-12zM2042 408h12v7h-12zM2054 715h5v7h-5zM2089 450h4v7h-4zM2089 736h4v7h-4zM2098 457h8v7h-8zM2098 743h8v7h-8zM2106 750h16v7h-16zM2122 485h17v7h-17zM2150 513h12v7h-12zM2162 520h3v7h-3zM2165 527h17v7h-17zM2182 541h5v7h-5zM2218 562h12v7h-12z"/>
<path fill="#cc0000" d="M1759 415h8v35h-8zM1767 401h8v91h-8zM1767 715h8v63h-8zM1775 387h11v175h-11zM1775 625h11v83h-11zM1786 373h4v293h-4zM1790 72h20v84h-20zM1790 359h20v279h-20zM1810 149h4v56h-4zM1810 338h4v217h-4zM1810 611h12v27h-12zM1814 212h8v315h-8zM1822 345h5v140h-5zM1822 618h5v20h-5zM1827 324h11v77h-11zM1827 625h11v13h-11zM1838 645h10v14h-10zM1848 666h10v21h-10zM1858 121h4v21h-4zM1858 673h4v21h-4zM1862 149h17v7h-17zM1862 673h17v28h-17zM1879 170h12v7h-12zM1879 513h12v7h-12zM1879 659h12v42h-12zM1891 184h4v7h-4zM1891 541h4v7h-4zM1891 638h4v42h-4zM1895 198h12v7h-12zM1895 618h12v41h-12zM1907 219h12v7h-12zM1919 233h4v7h-4zM1919 541h4v7h-4zM1938 254h5v7h-5zM1943 268h12v14h-12zM1955 282h4v7h-4zM1959 289h3v7h-3zM1970 303h4v7h-4zM1974 317h16v14h-16zM1974 638h16v7h-16zM1990 338h8v7h-8zM1990 645h8v7h-8zM1998 345h4v7h-4zM2002 352h4v7h-4zM2006 359h8v7h-8zM2006 666h8v7h-8zM2014 373h11v7h-11zM2014 673h11v7h-11zM2025 380h5v7h-5zM2030 394h12v14h-12zM2042 415h12v7h-12zM2054 422h5v7h-5zM2059 429h11v7h-11zM2059 722h11v7h-11zM2070 436h4v7h-4zM2074 443h15v7h-15zM2093 457h5v7h-5zM2093 736h5v7h-5zM2122 492h17v14h-17zM2139 506h11v14h-11zM2150 520h12v7h-12zM2162 527h3v7h-3zM2165 534h17v7h-17zM2187 548h14v7h-14zM2201 555h9v7h-9zM2210 562h8v7h-8zM2218 569h12v14h-12z"/>
<path fill="#bf0000" d="M1727 415h27v28h-27zM1754 380h5v133h-5zM1759 366h8v49h-8zM1759 450h8v105h-8zM1759 701h8v77h-8zM1767 352h8v49h-8zM1767 492h8v223h-8zM1775 72h11v7h-11zM1775 338h11v49h-11zM1775 562h11v63h-11zM1786 72h4v91h-4zM1786 317h4v56h-4zM1790 156h20v56h-20zM1790 289h20v70h-20zM1810 205h4v133h-4zM1810 555h4v56h-4zM1814 527h8v84h-8zM1822 485h5v133h-5zM1827 401h11v147h-11zM1827 611h11v14h-11zM1838 352h10v28h-10zM1838 625h10v20h-10zM1848 366h10v7h-10zM1848 645h10v21h-10zM1858 142h4v14h-4zM1858 645h4v28h-4zM1862 156h17v7h-17zM1862 638h17v35h-17zM1879 177h12v7h-12zM1879 611h12v48h-12zM1891 191h4v7h-4zM1891 590h4v48h-4zM1895 205h12v7h-12zM1895 576h12v42h-12zM1907 226h12v7h-12zM1919 240h4v7h-4zM1923 247h15v7h-15zM1923 548h15v14h-15zM1938 261h5v7h-5zM1938 569h5v7h-5zM1943 576h12v7h-12zM1955 289h4v7h-4zM1955 590h4v7h-4zM1959 597h3v7h-3zM1962 296h8v7h-8zM1970 310h4v7h-4zM1970 618h4v7h-4zM1974 632h16v6h-16zM1990 632h8v13h-8zM1998 352h4v7h-4zM1998 638h4v14h-4zM2002 359h4v7h-4zM2002 638h4v21h-4zM2006 366h8v7h-8zM2006 645h8v21h-8zM2014 652h11v21h-11zM2025 387h5v14h-5zM2025 666h5v21h-5zM2030 680h12v21h-12zM2042 701h12v7h-12zM2054 708h5v7h-5zM2059 436h11v7h-11zM2059 715h11v7h-11zM2070 443h4v7h-4zM2070 715h4v14h-4zM2074 450h15v7h-15zM2074 715h15v21h-15zM2089 457h4v7h-4zM2089 722h9v14h-9zM2098 464h8v7h-8zM2098 729h8v14h-8zM2106 471h16v14h-16zM2106 736h16v14h-16zM2122 757h17v7h-17zM2150 527h12v7h-12zM2162 534h3v7h-3zM2165 541h17v7h-17zM2182 548h5v7h-5zM2187 555h14v7h-14zM2201 562h9v14h-9zM2210 569h8v14h-8zM2218 583h12v14h-12z"/>
<path fill="#b30000" d="M1707 401h8v35h-8zM1715 387h12v70h-12zM1727 359h27v56h-27zM1727 443h27v77h-27zM1754 331h5v49h-5zM1754 513h5v265h-5zM1759 317h8v49h-8zM1759 555h8v146h-8zM1767 72h8v14h-8zM1767 303h8v49h-8zM1775 79h11v105h-11zM1775 289h11v49h-11zM1786 163h4v63h-4zM1786 268h4v49h-4zM1790 212h20v77h-20zM1827 548h11v63h-11zM1838 380h10v189h-10zM1838 604h10v21h-10zM1848 618h14v27h-14zM1858 156h4v56h-4zM1862 163h17v7h-17zM1862 604h17v34h-17zM1879 184h12v14h-12zM1879 555h12v56h-12zM1891 198h4v7h-4zM1891 471h4v7h-4zM1891 548h4v42h-4zM1895 212h12v14h-12zM1907 233h12v7h-12zM1907 520h12v14h-12zM1919 513h4v28h-4zM1923 254h15v7h-15zM1923 513h15v35h-15zM1938 268h5v14h-5zM1938 527h5v42h-5zM1943 282h12v7h-12zM1943 548h12v28h-12zM1955 576h4v14h-4zM1959 296h3v7h-3zM1962 303h8v7h-8zM1962 604h8v7h-8zM1970 317h4v7h-4zM1970 611h4v7h-4zM1974 331h16v14h-16zM1974 618h24v14h-24zM1990 345h8v14h-8zM1998 359h4v7h-4zM1998 618h8v20h-8zM2002 366h4v7h-4zM2006 373h8v7h-8zM2006 625h8v20h-8zM2014 380h11v7h-11zM2014 625h11v27h-11zM2025 401h5v7h-5zM2025 632h5v34h-5zM2030 408h12v7h-12zM2030 645h12v35h-12zM2042 422h12v7h-12zM2042 673h12v28h-12zM2054 429h5v7h-5zM2054 694h5v14h-5zM2059 694h30v21h-30zM2070 450h4v7h-4zM2089 694h4v28h-4zM2093 464h5v7h-5zM2093 701h5v21h-5zM2098 701h8v28h-8zM2106 485h16v7h-16zM2106 701h16v35h-16zM2122 506h17v14h-17zM2122 708h17v49h-17zM2139 520h11v14h-11zM2139 722h11v56h-11zM2150 534h12v14h-12zM2150 743h12v35h-12zM2162 541h3v7h-3zM2162 750h3v28h-3zM2165 548h17v7h-17zM2165 771h17v7h-17zM2182 555h5v7h-5zM2187 562h14v7h-14zM2201 576h9v14h-9zM2210 583h8v14h-8zM2218 597h12v14h-12z"/>
<path fill="#a60000" d="M1655 359h8v70h-8zM1663 317h9v126h-9zM1672 317h19v140h-19zM1691 317h16v161h-16zM1707 317h8v84h-8zM1707 436h8v56h-8zM1715 317h12v70h-12zM1715 457h12v63h-12zM1727 310h27v49h-27zM1727 520h27v77h-27zM1754 282h5v49h-5zM1759 72h8v35h-8zM1759 268h8v49h-8zM1767 86h8v126h-8zM1767 261h8v42h-8zM1775 184h11v105h-11zM1786 226h4v42h-4zM1838 569h10v35h-10zM1848 373h10v245h-10zM1858 212h4v182h-4zM1858 492h4v126h-4zM1862 170h17v77h-17zM1862 506h17v98h-17zM1879 198h12v7h-12zM1879 520h12v35h-12zM1891 205h4v21h-4zM1895 226h12v7h-12zM1907 240h12v7h-12zM1907 485h12v35h-12zM1919 247h4v14h-4zM1919 478h19v35h-19zM1923 261h15v14h-15zM1938 282h5v7h-5zM1938 485h5v42h-5zM1943 289h12v7h-12zM1943 492h12v56h-12zM1955 296h4v14h-4zM1955 513h4v63h-4zM1959 303h3v14h-3zM1959 520h3v77h-3zM1962 310h8v21h-8zM1962 548h8v56h-8zM1970 324h4v14h-4zM1970 590h4v21h-4zM1974 604h32v14h-32zM1990 359h8v7h-8zM1998 366h4v7h-4zM2002 373h4v7h-4zM2006 380h8v7h-8zM2006 604h19v21h-19zM2014 387h11v21h-11zM2025 408h5v7h-5zM2025 604h5v28h-5zM2030 415h12v7h-12zM2030 604h12v41h-12zM2042 429h12v7h-12zM2042 611h12v62h-12zM2054 436h5v7h-5zM2054 611h20v83h-20zM2059 443h11v14h-11zM2074 457h15v7h-15zM2074 604h15v90h-15zM2089 464h4v230h-4zM2093 471h13v230h-13zM2106 492h16v209h-16zM2122 520h17v188h-17zM2139 534h11v188h-11zM2150 548h12v195h-12zM2162 548h3v202h-3zM2165 555h17v216h-17zM2182 562h5v216h-5zM2187 569h14v209h-14zM2201 590h9v188h-9zM2210 597h8v181h-8zM2218 611h12v167h-12z"/>
<path fill="#990000" d="M1432 72h73v706h-73zM1505 72h9v518h-9zM1514 72h9v483h-9zM1523 72h8v462h-8zM1531 72h9v448h-9zM1540 72h9v441h-9zM1549 72h18v427h-18zM1567 72h18v420h-18zM1585 72h8v413h-8zM1593 72h9v420h-9zM1602 72h9v427h-9zM1611 72h9v434h-9zM1620 72h17v441h-17zM1637 72h18v448h-18zM1655 86h8v273h-8zM1655 429h8v98h-8zM1663 142h9v175h-9zM1663 443h9v84h-9zM1672 177h19v140h-19zM1672 457h19v77h-19zM1691 205h16v112h-16zM1691 478h16v63h-16zM1707 233h8v84h-8zM1707 492h8v49h-8zM1715 254h12v63h-12zM1715 520h12v56h-12zM1727 254h27v56h-27zM1727 597h27v167h-27zM1754 72h5v210h-5zM1759 107h8v161h-8zM1767 212h8v49h-8zM1858 394h4v98h-4zM1862 247h17v259h-17zM1879 205h12v42h-12zM1879 436h12v21h-12zM1891 226h4v14h-4zM1891 443h4v28h-4zM1895 233h12v14h-12zM1895 450h12v42h-12zM1907 247h12v42h-12zM1907 450h12v35h-12zM1919 261h4v77h-4zM1919 443h19v35h-19zM1923 275h15v91h-15zM1938 289h5v84h-5zM1938 443h5v42h-5zM1943 296h12v84h-12zM1943 443h12v49h-12zM1955 310h4v77h-4zM1955 443h4v70h-4zM1959 317h3v70h-3zM1959 450h3v70h-3zM1962 331h8v56h-8zM1962 450h8v98h-8zM1970 338h4v49h-4zM1970 464h4v126h-4zM1974 345h16v42h-16zM1974 471h16v133h-16zM1990 366h8v28h-8zM1990 464h8v140h-8zM1998 373h4v28h-4zM1998 450h4v154h-4zM2002 380h4v28h-4zM2002 443h4v161h-4zM2006 387h8v35h-8zM2006 429h8v175h-8zM2014 408h11v196h-11zM2025 415h5v189h-5zM2030 422h12v182h-12zM2042 436h12v175h-12zM2054 443h5v168h-5zM2059 457h15v154h-15zM2074 464h15v140h-15z"/>
<path fill="#8c0000" d="M1505 590h9v188h-9zM1514 555h9v223h-9zM1523 534h8v244h-8zM1531 520h9v258h-9zM1540 513h9v265h-9zM1549 499h18v279h-18zM1567 492h18v286h-18zM1585 485h8v293h-8zM1593 492h9v286h-9zM1602 499h9v279h-9zM1611 506h9v272h-9zM1620 513h17v265h-17zM1637 520h18v258h-18zM1655 72h8v14h-8zM1655 527h17v251h-17zM1663 72h9v70h-9zM1672 72h19v105h-19zM1672 534h19v244h-19zM1691 72h16v133h-16zM1691 541h24v56h-24zM1691 694h16v84h-16zM1707 72h8v161h-8zM1707 771h8v7h-8zM1715 72h12v182h-12zM1715 576h12v167h-12zM1727 72h27v77h-27zM1727 170h27v84h-27zM1727 764h27v14h-27zM1879 247h12v189h-12zM1891 240h4v203h-4zM1895 247h12v203h-12zM1907 289h12v161h-12zM1919 338h4v105h-4zM1923 366h15v77h-15zM1938 373h5v70h-5zM1943 380h12v63h-12zM1955 387h4v56h-4zM1959 387h11v63h-11zM1970 387h4v77h-4zM1974 387h16v84h-16zM1990 394h8v70h-8zM1998 401h4v49h-4zM2002 408h4v35h-4zM2006 422h8v7h-8z"/>
<path fill="#800000" d="M1691 597h16v97h-16zM1707 597h8v174h-8zM1715 743h12v35h-12zM1727 149h27v21h-27z"/></g>
<rect x="241" y="75.2" width="804.3" height="705.6" fill="none" stroke="#3c3c3c" stroke-opacity="0.8" stroke-width="1.3"/>
<text x="229.0" y="90.0" text-anchor="end" font-family="Liberation Sans, Arial, Helvetica, sans-serif" font-size="29" fill="#454545">0.9</text>
<path d="M241 165.9h7M1045.3 165.9h-7" stroke="#303030" stroke-opacity="0.75" stroke-width="1.3"/>
<text x="229.0" y="177.4" text-anchor="end" font-family="Liberation Sans, Arial, Helvetica, sans-serif" font-size="29" fill="#454545">0.85</text>
<path d="M241 253.2h7M1045.3 253.2h-7" stroke="#303030" stroke-opacity="0.75" stroke-width="1.3"/>
<text x="229.0" y="264.7" text-anchor="end" font-family="Liberation Sans, Arial, Helvetica, sans-serif" font-size="29" fill="#454545">0.8</text>
<path d="M241 340.6h7M1045.3 340.6h-7" stroke="#303030" stroke-opacity="0.75" stroke-width="1.3"/>
<text x="229.0" y="352.1" text-anchor="end" font-family="Liberation Sans, Arial, Helvetica, sans-serif" font-size="29" fill="#454545">0.75</text>
<path d="M241 427.9h7M1045.3 427.9h-7" stroke="#303030" stroke-opacity="0.75" stroke-width="1.3"/>
<text x="229.0" y="439.4" text-anchor="end" font-family="Liberation Sans, Arial, Helvetica, sans-serif" font-size="29" fill="#454545">0.7</text>
<path d="M241 515.2h7M1045.3 515.2h-7" stroke="#303030" stroke-opacity="0.75" stroke-width="1.3"/>
<text x="229.0" y="526.8" text-anchor="end" font-family="Liberation Sans, Arial, Helvetica, sans-serif" font-size="29" fill="#454545">0.65</text>
<path d="M241 602.6h7M1045.3 602.6h-7" stroke="#303030" stroke-opacity="0.75" stroke-width="1.3"/>
<text x="229.0" y="614.1" text-anchor="end" font-family="Liberation Sans, Arial, Helvetica, sans-serif" font-size="29" fill="#454545">0.6</text>
<path d="M241 689.9h7M1045.3 689.9h-7" stroke="#303030" stroke-opacity="0.75" stroke-width="1.3"/>
<text x="229.0" y="701.4" text-anchor="end" font-family="Liberation Sans, Arial, Helvetica, sans-serif" font-size="29" fill="#454545">0.55</text>
<text x="229.0" y="788.8" text-anchor="end" font-family="Liberation Sans, Arial, Helvetica, sans-serif" font-size="29" fill="#454545">0.5</text>
<path d="M643.1 780.8v-7M643.1 75.2v7" stroke="#303030" stroke-opacity="0.75" stroke-width="1.3"/>
<text x="241.0" y="823.1" text-anchor="middle" font-family="Liberation Sans, Arial, Helvetica, sans-serif" font-size="29" fill="#454545">0.05</text>
<text x="643.1" y="823.1" text-anchor="middle" font-family="Liberation Sans, Arial, Helvetica, sans-serif" font-size="29" fill="#454545">0.1</text>
<text x="1045.3" y="823.1" text-anchor="middle" font-family="Liberation Sans, Arial, Helvetica, sans-serif" font-size="29" fill="#454545">0.15</text>
<rect x="1094.5" y="75.2" width="45.5" height="705.6" fill="url(#jet)" stroke="#555" stroke-opacity="0.7" stroke-width="1.3"/>
<path d="M1140 428.0h-6" stroke="#303030" stroke-opacity="0.75" stroke-width="1.3"/>
<text x="1150.5" y="86.0" font-family="Liberation Sans, Arial, Helvetica, sans-serif" font-size="26" fill="#454545">2π</text>
<text x="1150.5" y="438.8" font-family="Liberation Sans, Arial, Helvetica, sans-serif" font-size="26" fill="#454545">π</text>
<text x="1150.5" y="791.6" font-family="Liberation Sans, Arial, Helvetica, sans-serif" font-size="26" fill="#454545">0</text>
<rect x="1432.2" y="72.3" width="797.4" height="706.0" fill="none" stroke="#3c3c3c" stroke-opacity="0.8" stroke-width="1.3"/>
<text x="1420.2" y="86.0" text-anchor="end" font-family="Liberation Sans, Arial, Helvetica, sans-serif" font-size="29" fill="#454545">0.9</text>
<path d="M1432.2 162.0h7M2229.6 162.0h-7" stroke="#303030" stroke-opacity="0.75" stroke-width="1.3"/>
<text x="1420.2" y="173.8" text-anchor="end" font-family="Liberation Sans, Arial, Helvetica, sans-serif" font-size="29" fill="#454545">0.85</text>
<path d="M1432.2 249.7h7M2229.6 249.7h-7" stroke="#303030" stroke-opacity="0.75" stroke-width="1.3"/>
<text x="1420.2" y="261.5" text-anchor="end" font-family="Liberation Sans, Arial, Helvetica, sans-serif" font-size="29" fill="#454545">0.8</text>
<path d="M1432.2 337.5h7M2229.6 337.5h-7" stroke="#303030" stroke-opacity="0.75" stroke-width="1.3"/>
<text x="1420.2" y="349.3" text-anchor="end" font-family="Liberation Sans, Arial, Helvetica, sans-serif" font-size="29" fill="#454545">0.75</text>
<path d="M1432.2 425.3h7M2229.6 425.3h-7" stroke="#303030" stroke-opacity="0.75" stroke-width="1.3"/>
<text x="1420.2" y="437.1" text-anchor="end" font-family="Liberation Sans, Arial, Helvetica, sans-serif" font-size="29" fill="#454545">0.7</text>
<path d="M1432.2 513.0h7M2229.6 513.0h-7" stroke="#303030" stroke-opacity="0.75" stroke-width="1.3"/>
<text x="1420.2" y="524.8" text-anchor="end" font-family="Liberation Sans, Arial, Helvetica, sans-serif" font-size="29" fill="#454545">0.65</text>
<path d="M1432.2 600.8h7M2229.6 600.8h-7" stroke="#303030" stroke-opacity="0.75" stroke-width="1.3"/>
<text x="1420.2" y="612.6" text-anchor="end" font-family="Liberation Sans, Arial, Helvetica, sans-serif" font-size="29" fill="#454545">0.6</text>
<path d="M1432.2 688.5h7M2229.6 688.5h-7" stroke="#303030" stroke-opacity="0.75" stroke-width="1.3"/>
<text x="1420.2" y="700.3" text-anchor="end" font-family="Liberation Sans, Arial, Helvetica, sans-serif" font-size="29" fill="#454545">0.55</text>
<text x="1420.2" y="788.0" text-anchor="end" font-family="Liberation Sans, Arial, Helvetica, sans-serif" font-size="29" fill="#454545">0.5</text>
<path d="M1830.9 778.3v-7M1830.9 72.3v7" stroke="#303030" stroke-opacity="0.75" stroke-width="1.3"/>
<text x="1432.2" y="820.6" text-anchor="middle" font-family="Liberation Sans, Arial, Helvetica, sans-serif" font-size="29" fill="#454545">0.05</text>
<text x="1830.9" y="820.6" text-anchor="middle" font-family="Liberation Sans, Arial, Helvetica, sans-serif" font-size="29" fill="#454545">0.1</text>
<text x="2229.6" y="820.6" text-anchor="middle" font-family="Liberation Sans, Arial, Helvetica, sans-serif" font-size="29" fill="#454545">0.15</text>
<rect x="2280.3" y="72.3" width="44.7" height="706.0" fill="url(#jet)" stroke="#555" stroke-opacity="0.7" stroke-width="1.3"/>
<path d="M2325 425.3h-6" stroke="#303030" stroke-opacity="0.75" stroke-width="1.3"/>
<text x="2336.5" y="83.1" font-family="Liberation Sans, Arial, Helvetica, sans-serif" font-size="26" fill="#454545">1</text>
<text x="2336.5" y="436.1" font-family="Liberation Sans, Arial, Helvetica, sans-serif" font-size="26" fill="#454545">0.5</text>
<text x="2336.5" y="789.1" font-family="Liberation Sans, Arial, Helvetica, sans-serif" font-size="26" fill="#454545">0</text>
<path d="M246.5 427.4H794" stroke="#000" stroke-width="6" stroke-dasharray="25 18.4" fill="none"/>
<path d="M1432.5 422.8H1980" stroke="#000" stroke-width="6" stroke-dasharray="25 18.4" fill="none"/>
<text x="644.4" y="57.8" text-anchor="middle" font-family="Liberation Sans, Arial, Helvetica, sans-serif" font-weight="bold" font-size="51" fill="#000">Phase</text>
<text x="1830.2" y="55.3" text-anchor="middle" font-family="Liberation Sans, Arial, Helvetica, sans-serif" font-weight="bold" font-size="51" fill="#000">Transmission</text>
<text x="643.7" y="879.6" text-anchor="middle" font-family="Liberation Sans, Arial, Helvetica, sans-serif" font-weight="bold" font-size="45" fill="#262626">r (um)</text>
<text x="1831" y="877.1" text-anchor="middle" font-family="Liberation Sans, Arial, Helvetica, sans-serif" font-weight="bold" font-size="45" fill="#262626">r (um)</text>
<text transform="translate(154.2 427.4) rotate(-90)" text-anchor="middle" font-family="Liberation Sans, Arial, Helvetica, sans-serif" font-weight="bold" font-size="45" fill="#262626">H (um)</text>
<text transform="translate(1346.3 425) rotate(-90)" text-anchor="middle" font-family="Liberation Sans, Arial, Helvetica, sans-serif" font-weight="bold" font-size="45" fill="#262626">H (um)</text>
<text x="19.4" y="119" font-family="Liberation Serif, Times New Roman, serif" font-size="83" fill="#000">(a)</text>
<text x="1239.7" y="119" font-family="Liberation Serif, Times New Roman, serif" font-size="83" fill="#000">(b)</text>
<text x="19.4" y="985.5" font-family="Liberation Serif, Times New Roman, serif" font-size="83" fill="#000">(c)</text>
<text x="1261.8" y="986" font-family="Liberation Serif, Times New Roman, serif" font-size="83" fill="#000">(d)</text>
<rect x="221.8" y="978.3" width="789.2" height="637.1" fill="none" stroke="#000" stroke-width="4.6"/>
<path d="M278.2 1615.4v-4.5M334.5 1615.4v-8.5M390.9 1615.4v-4.5M447.3 1615.4v-8.5M503.7 1615.4v-4.5M560.0 1615.4v-8.5M616.4 1615.4v-4.5M672.8 1615.4v-8.5M729.1 1615.4v-4.5M785.5 1615.4v-8.5M841.9 1615.4v-4.5M898.3 1615.4v-8.5M954.6 1615.4v-4.5" stroke="#000" stroke-width="4.5" fill="none"/>
<text x="221.8" y="1649.4" text-anchor="middle" font-family="Liberation Serif, Times New Roman, serif" font-size="30" fill="#1a1a1a">0.05</text>
<text x="334.5" y="1649.4" text-anchor="middle" font-family="Liberation Serif, Times New Roman, serif" font-size="30" fill="#1a1a1a">0.06</text>
<text x="447.3" y="1649.4" text-anchor="middle" font-family="Liberation Serif, Times New Roman, serif" font-size="30" fill="#1a1a1a">0.07</text>
<text x="560.0" y="1649.4" text-anchor="middle" font-family="Liberation Serif, Times New Roman, serif" font-size="30" fill="#1a1a1a">0.08</text>
<text x="672.8" y="1649.4" text-anchor="middle" font-family="Liberation Serif, Times New Roman, serif" font-size="30" fill="#1a1a1a">0.09</text>
<text x="785.5" y="1649.4" text-anchor="middle" font-family="Liberation Serif, Times New Roman, serif" font-size="30" fill="#1a1a1a">0.10</text>
<text x="898.3" y="1649.4" text-anchor="middle" font-family="Liberation Serif, Times New Roman, serif" font-size="30" fill="#1a1a1a">0.11</text>
<text x="1011.0" y="1649.4" text-anchor="middle" font-family="Liberation Serif, Times New Roman, serif" font-size="30" fill="#1a1a1a">0.12</text>
<path d="M221.8 1291.6h7.5" stroke="#000" stroke-width="4.5"/>
<text x="213" y="988.6" text-anchor="end" font-family="Liberation Serif, Times New Roman, serif" font-size="30" fill="#1a1a1a">2π</text>
<text x="213" y="1301.5" text-anchor="end" font-family="Liberation Serif, Times New Roman, serif" font-size="30" fill="#1a1a1a">π</text>
<text x="213" y="1627.7" text-anchor="end" font-family="Liberation Serif, Times New Roman, serif" font-size="30" fill="#1a1a1a">0</text>
<path d="M222.4 1437.6 L272.0 1434.7 L301.0 1428.0 L337.4 1423.8 L376.1 1418.3 L407.6 1411.7 L434.2 1404.2 L448.7 1404.0 L470.5 1401.0 L487.5 1394.5 L499.6 1387.5 L519.0 1378.3 L538.3 1374.0 L557.7 1363.8 L569.8 1359.4 L581.9 1349.3 L598.8 1332.3 L610.9 1325.0 L623.0 1317.1 L636.3 1299.0 L652.0 1284.9 L663.4 1284.9 L670.2 1276.0 L679.9 1254.2 L688.4 1227.5 L696.8 1204.5 L712.6 1180.3 L721.0 1159.7 L738.0 1131.9 L747.7 1124.6 L759.8 1104.1 L767.1 1078.6 L775.5 1043.5 L788.8 1008.4 L810.6 979.4 L839.6 1614.5 L854.2 1599.0 L866.3 1582.1 L879.6 1572.4 L888.1 1559.1 L907.5 1537.3 L926.8 1527.6 L948.6 1518.0 L968.0 1504.6 L981.3 1491.3 L999.5 1481.6 L1010.4 1479.2" fill="none" stroke="#000" stroke-width="4.6" stroke-linejoin="round"/>
<rect x="476.6" y="1511.5" width="268" height="56.3" fill="#fff" stroke="#8c8c8c" stroke-width="1.4"/>
<path d="M480.2 1539.3H563.7" stroke="#000" stroke-width="5"/>
<text x="570.5" y="1552.4" font-family="Liberation Serif, Times New Roman, serif" font-weight="bold" font-size="40" fill="#000">Phase(2π)</text>
<text x="617.5" y="1718" text-anchor="middle" font-family="Liberation Serif, Times New Roman, serif" font-weight="bold" font-size="55" fill="#000">r (um)</text>
<rect x="1443.4" y="987.2" width="789.6" height="636.4" fill="none" stroke="#000" stroke-width="5.6"/>
<path d="M1499.8 1623.6v-4.5M1556.2 1623.6v-8.5M1612.6 1623.6v-4.5M1669.0 1623.6v-8.5M1725.4 1623.6v-4.5M1781.8 1623.6v-8.5M1838.2 1623.6v-4.5M1894.6 1623.6v-8.5M1951.0 1623.6v-4.5M2007.4 1623.6v-8.5M2063.8 1623.6v-4.5M2120.2 1623.6v-8.5M2176.6 1623.6v-4.5" stroke="#000" stroke-width="4.5" fill="none"/>
<text x="1443.4" y="1657.6" text-anchor="middle" font-family="Liberation Serif, Times New Roman, serif" font-size="30" fill="#1a1a1a">0.05</text>
<text x="1556.2" y="1657.6" text-anchor="middle" font-family="Liberation Serif, Times New Roman, serif" font-size="30" fill="#1a1a1a">0.06</text>
<text x="1669.0" y="1657.6" text-anchor="middle" font-family="Liberation Serif, Times New Roman, serif" font-size="30" fill="#1a1a1a">0.07</text>
<text x="1781.8" y="1657.6" text-anchor="middle" font-family="Liberation Serif, Times New Roman, serif" font-size="30" fill="#1a1a1a">0.08</text>
<text x="1894.6" y="1657.6" text-anchor="middle" font-family="Liberation Serif, Times New Roman, serif" font-size="30" fill="#1a1a1a">0.09</text>
<text x="2007.4" y="1657.6" text-anchor="middle" font-family="Liberation Serif, Times New Roman, serif" font-size="30" fill="#1a1a1a">0.10</text>
<text x="2120.2" y="1657.6" text-anchor="middle" font-family="Liberation Serif, Times New Roman, serif" font-size="30" fill="#1a1a1a">0.11</text>
<text x="2233.0" y="1657.6" text-anchor="middle" font-family="Liberation Serif, Times New Roman, serif" font-size="30" fill="#1a1a1a">0.12</text>
<path d="M1443.4 1496.3h5M1443.4 1369.0h5M1443.4 1241.8h5M1443.4 1114.5h5" stroke="#000" stroke-width="4.5"/>
<text x="1439" y="1633.2" text-anchor="end" font-family="Liberation Serif, Times New Roman, serif" font-size="30" fill="#1a1a1a">0</text>
<text x="1439" y="1505.9" text-anchor="end" font-family="Liberation Serif, Times New Roman, serif" font-size="30" fill="#1a1a1a">20</text>
<text x="1439" y="1378.6" text-anchor="end" font-family="Liberation Serif, Times New Roman, serif" font-size="30" fill="#1a1a1a">40</text>
<text x="1439" y="1251.4" text-anchor="end" font-family="Liberation Serif, Times New Roman, serif" font-size="30" fill="#1a1a1a">60</text>
<text x="1439" y="1124.1" text-anchor="end" font-family="Liberation Serif, Times New Roman, serif" font-size="30" fill="#1a1a1a">80</text>
<text x="1439" y="996.8" text-anchor="end" font-family="Liberation Serif, Times New Roman, serif" font-size="30" fill="#1a1a1a">100</text>
<path d="M1444.6 1000.8 L1500.0 1000.4 L1560.0 1000.1 L1620.0 1000.0 L1660.0 1000.5 L1700.0 1002.2 L1740.0 1005.5 L1775.8 1009.1 L1821.3 1017.3 L1881.9 1027.3 L1916.8 1039.5 L1948.6 1041.6 L1983.5 1040.7 L2018.4 1031.0 L2054.8 1018.2 L2088.1 1009.7 L2120.0 1002.2 L2185.2 998.2 L2231.0 996.1" fill="none" stroke="#f5414c" stroke-width="6.5" stroke-linejoin="round"/>
<rect x="1793.8" y="1503.4" width="429" height="57.4" fill="#fff" stroke="#8c8c8c" stroke-width="1.4"/>
<path d="M1799.5 1532.5H1878" stroke="#f5414c" stroke-width="6" stroke-linecap="round"/>
<text x="1888" y="1543.8" font-family="Liberation Serif, Times New Roman, serif" font-weight="bold" font-size="40" fill="#000">Transmittance(%)</text>
<text x="1855" y="1721.5" text-anchor="middle" font-family="Liberation Serif, Times New Roman, serif" font-weight="bold" font-size="55" fill="#000">r (um)</text>
</svg>
</body></html>
